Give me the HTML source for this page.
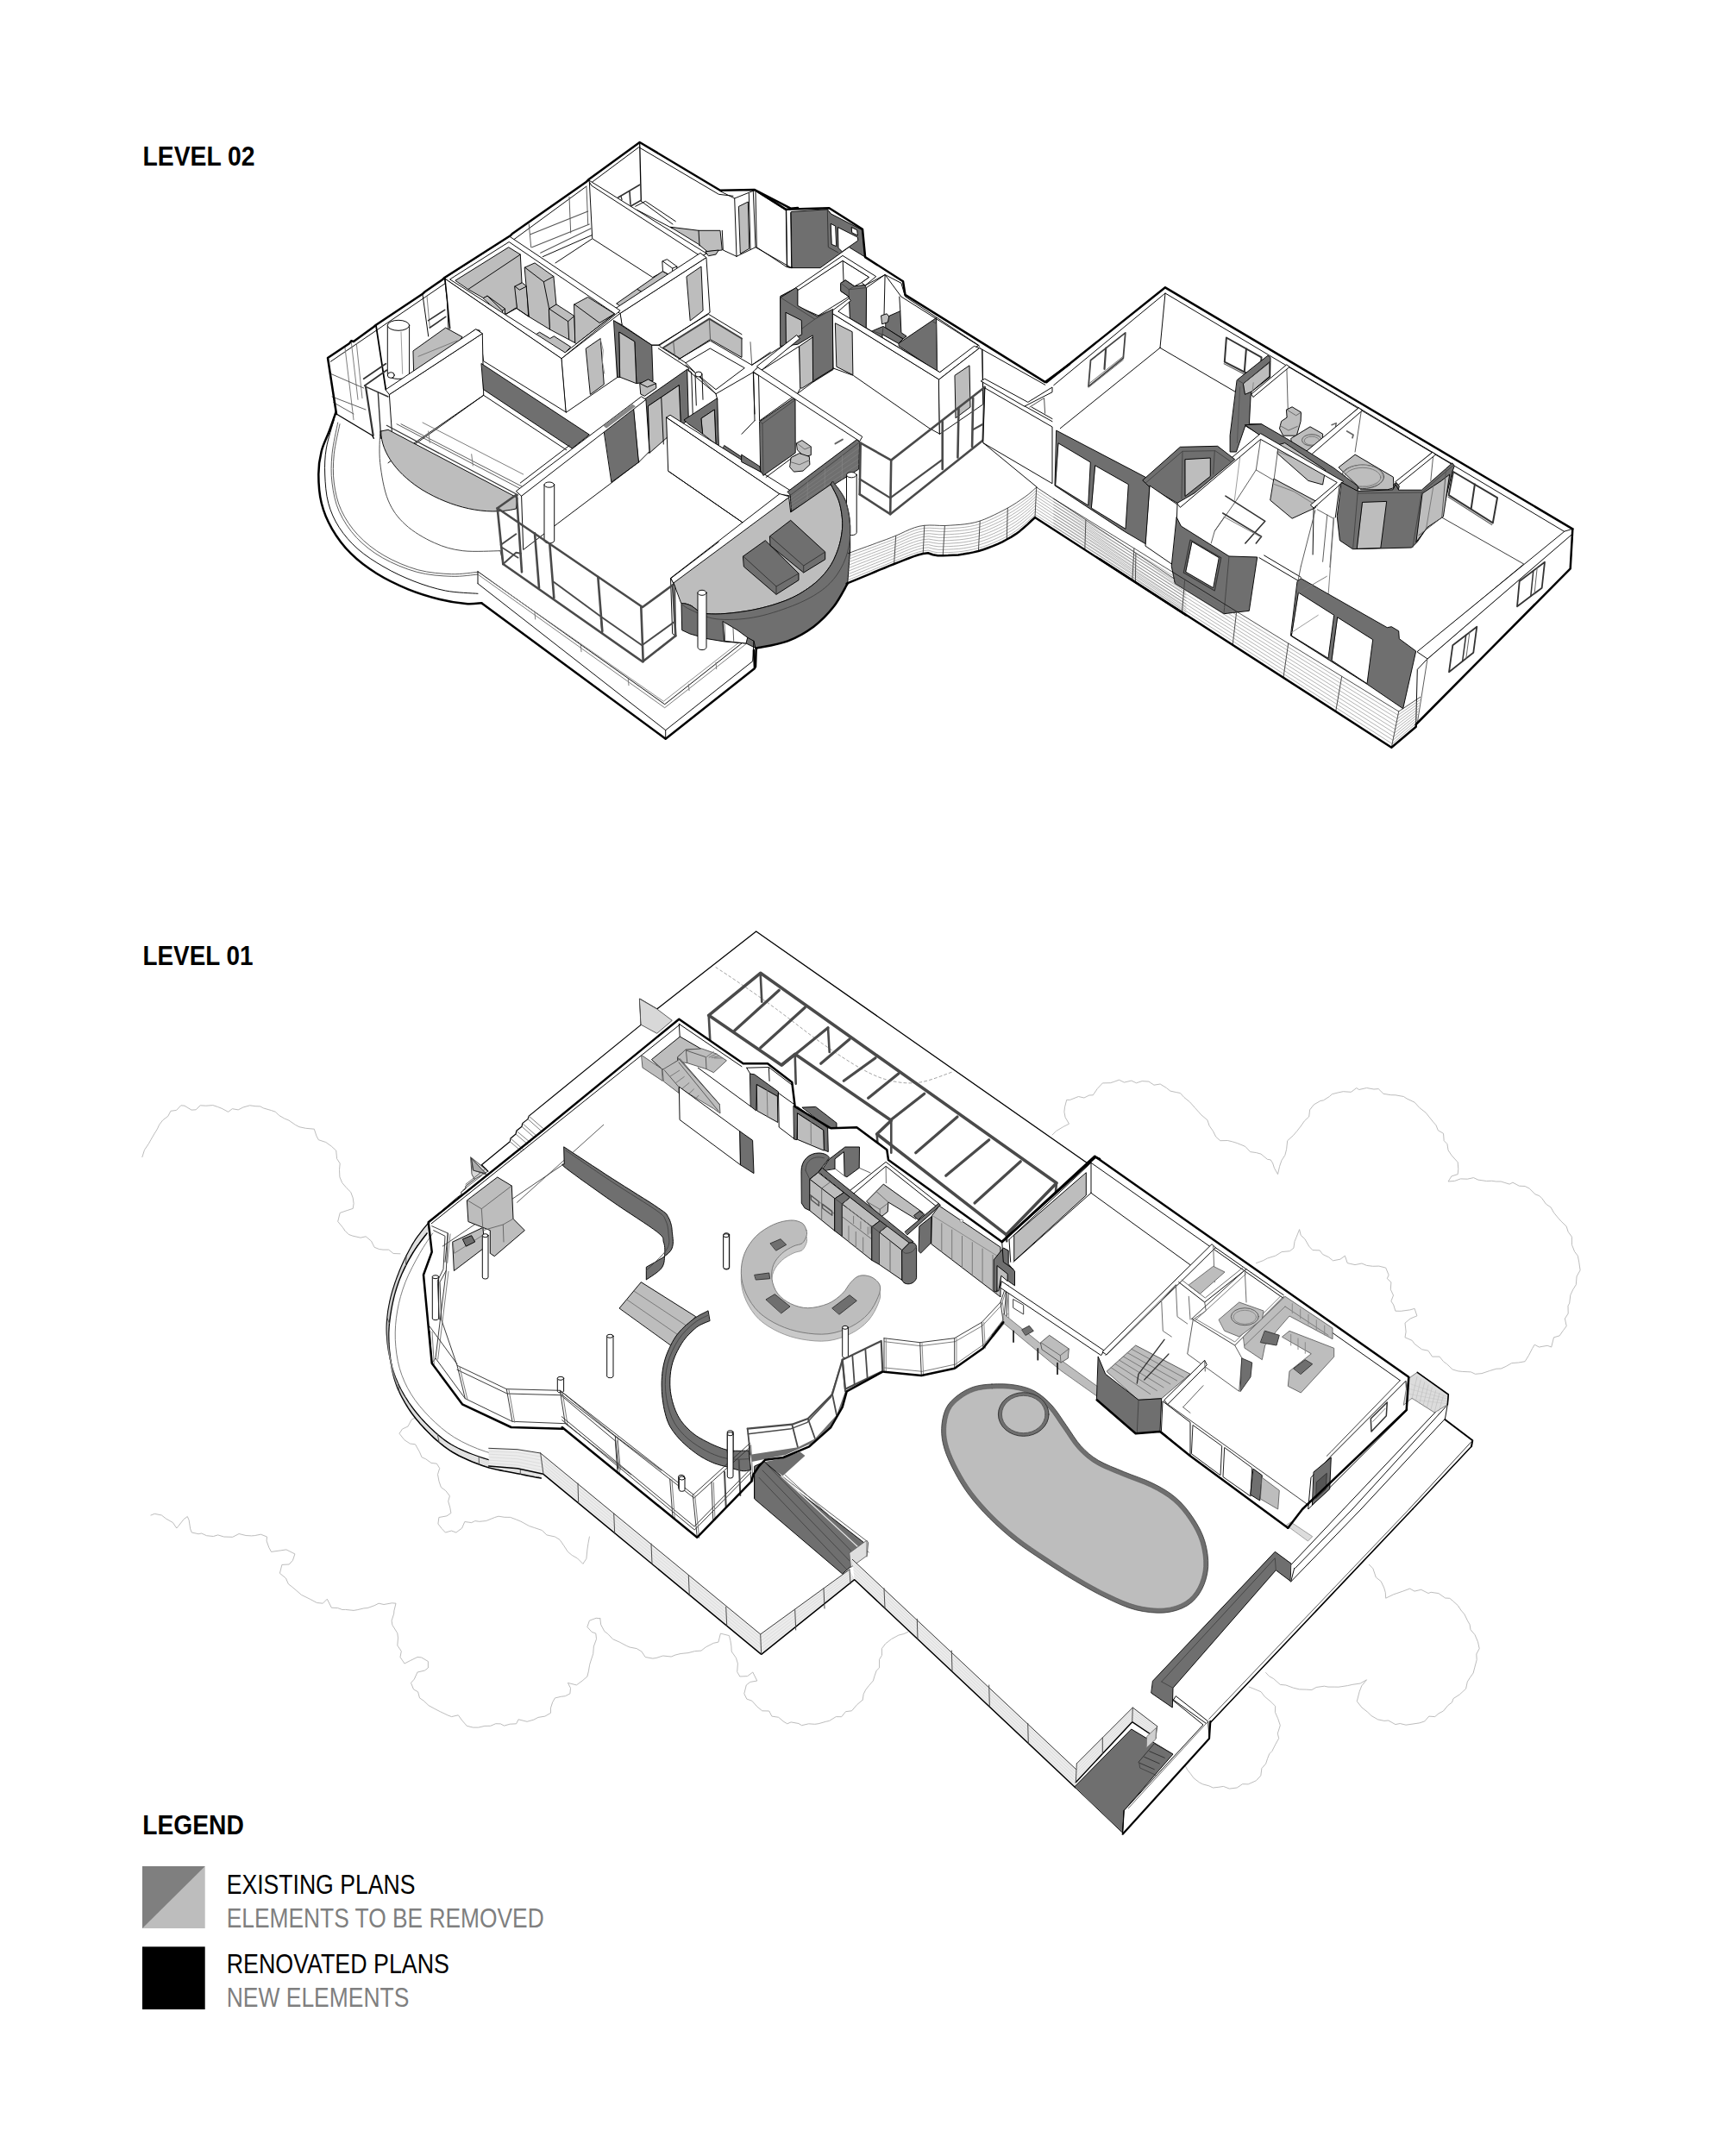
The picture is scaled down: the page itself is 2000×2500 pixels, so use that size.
<!DOCTYPE html>
<html><head><meta charset="utf-8"><title>Levels</title>
<style>html,body{margin:0;padding:0;background:#fff}svg{display:block}text{font-family:"Liberation Sans",sans-serif}</style>
</head><body>
<svg width="2000" height="2500" viewBox="0 0 2000 2500">
<rect width="2000" height="2500" fill="#fff"/>
<g id="main" stroke-linejoin="round" stroke-linecap="round">
<polyline points="164.9,1341.6 167.5,1333.4 172.2,1326.5 174.9,1321.7 178.8,1314.9 182.4,1309.2 184.6,1304.3 188.6,1299.0 194.8,1294.3 197.9,1288.3 204.5,1287.4 209.8,1281.8 214.0,1282.2 222.0,1287.1 227.2,1286.8 232.2,1281.8 238.8,1282.2 246.8,1281.6 252.5,1283.5 257.1,1285.3 264.6,1289.3 269.3,1285.7 276.2,1286.9 281.9,1284.0 289.6,1281.8 296.1,1282.7 301.7,1282.9 305.6,1285.0 314.3,1287.5 319.5,1289.3 323.6,1293.4 329.4,1296.8 335.0,1299.2 342.4,1304.3 346.9,1306.7 354.5,1308.3 364.3,1309.2 366.9,1317.1 369.3,1321.7 377.8,1324.5 384.3,1329.2 389.7,1334.1 390.6,1343.6 394.2,1349.1 393.5,1356.5 393.9,1364.8 396.7,1371.5 402.0,1377.7 406.7,1382.3 409.2,1389.0 410.1,1395.6 409.2,1401.4 402.1,1403.7 394.2,1406.4 391.7,1416.4 397.4,1423.3 399.9,1427.1 404.2,1431.4 408.9,1433.1 418.1,1435.2 424.1,1433.8 430.5,1439.1 434.1,1446.3 439.6,1448.5 444.0,1449.1 450.6,1449.1 456.1,1453.5 464.0,1453.8" fill="none" stroke="#b4b4b4" stroke-width="0.90" stroke-linejoin="miter"/>
<polyline points="484.0,1642.4 477.1,1646.2 473.0,1654.0 466.4,1657.1 463.0,1662.3 469.0,1669.8 475.5,1674.0 481.5,1674.8 486.6,1683.9 489.0,1689.7 493.8,1691.9 500.0,1696.4 506.4,1697.2 509.7,1702.5 507.5,1709.7 509.0,1717.7 511.4,1724.6 516.8,1728.6 521.4,1734.6 519.7,1740.9 521.8,1748.2 522.9,1754.5 517.9,1757.9 508.9,1759.5 507.9,1767.0 512.2,1772.5 516.4,1777.0 523.4,1775.0 528.8,1777.0 535.6,1772.0 538.8,1764.5 546.7,1765.6 550.8,1763.6 555.8,1764.3 563.7,1763.5 573.7,1759.5 578.0,1758.2 584.9,1759.3 591.7,1759.4 598.6,1762.0 603.9,1764.2 613.6,1769.5 619.3,1771.4 628.5,1774.5 633.9,1779.9 643.5,1782.0 649.0,1785.4 653.5,1791.9 658.4,1799.4 663.2,1803.4 669.5,1807.0 675.9,1813.4 679.9,1807.3 680.9,1796.9 682.0,1789.4 683.4,1782.0" fill="none" stroke="#b4b4b4" stroke-width="0.90" stroke-linejoin="miter"/>
<polyline points="174.9,1757.0 179.3,1755.3 187.4,1757.0 192.5,1761.0 200.4,1765.5 204.8,1772.0 206.9,1769.5 213.2,1761.5 217.3,1758.5 219.1,1762.6 220.7,1772.9 222.3,1777.0 230.1,1778.7 233.7,1778.0 239.5,1780.7 247.3,1781.5 252.7,1779.9 259.6,1782.0 269.7,1782.3 277.1,1778.5 285.1,1780.5 291.5,1780.9 295.3,1780.6 302.4,1779.2 309.5,1782.0 309.1,1786.8 311.8,1794.4 314.5,1799.4 325.2,1797.9 331.9,1796.9 341.9,1801.9 339.4,1809.4 335.1,1814.0 326.9,1814.4 324.4,1824.3 331.4,1830.0 334.4,1836.8 338.2,1839.7 343.1,1843.8 349.4,1849.3 359.3,1854.2 367.4,1858.5 374.3,1859.2 379.3,1854.2 384.3,1864.2 391.7,1864.6 396.9,1866.5 400.4,1866.4 410.0,1867.4 414.2,1866.7 421.9,1864.9 426.1,1864.6 434.1,1861.7 439.1,1859.2 445.0,1860.5 454.5,1858.8 459.0,1859.2 456.9,1867.8 456.7,1871.1 454.1,1879.2 454.9,1884.3 460.8,1893.8 461.5,1899.1 460.8,1908.0 465.3,1914.7 464.0,1921.5 469.0,1929.0 475.8,1925.5 484.0,1921.5 488.6,1921.9 496.4,1926.5 496.4,1934.0 492.3,1937.1 484.0,1939.0 480.3,1947.1 476.5,1951.4 479.5,1958.9 484.6,1961.8 486.5,1968.9 491.2,1972.1 497.0,1977.6 503.9,1981.4 510.3,1984.7 518.9,1988.8 523.5,1990.6 531.3,1988.8 535.7,1994.9 541.3,2001.3 548.5,2003.1 554.7,2003.1 561.9,2001.4 568.7,2001.3 574.8,1998.7 580.4,1998.9 584.5,2001.1 591.2,1999.2 598.6,1998.8 601.1,1993.8 611.1,1996.3 618.9,1994.1 624.0,1991.4 631.9,1990.1 638.5,1986.3 638.4,1980.8 640.7,1973.7 643.5,1968.9 650.5,1967.3 655.4,1966.7 660.9,1963.9 661.5,1957.4 658.4,1951.4 668.4,1953.9 675.1,1949.0 680.9,1944.0 682.4,1937.8 683.7,1930.2 685.3,1925.0 687.7,1917.7 688.4,1909.1 691.5,1900.5 690.8,1894.1 686.1,1892.3 680.9,1886.6 683.4,1879.2 691.1,1876.3 695.8,1876.7" fill="none" stroke="#b4b4b4" stroke-width="0.90" stroke-linejoin="miter"/>
<polyline points="695.8,1876.7 696.7,1883.9 700.8,1891.6 704.8,1894.6 710.6,1900.7 718.3,1904.1 726.2,1908.3 730.0,1910.0 738.2,1911.6 743.9,1915.0 748.2,1921.5 756.8,1923.1 760.9,1922.5 768.7,1920.0 778.2,1921.0 783.1,1919.0 789.1,1917.5 798.0,1916.6 805.6,1914.6 813.0,1914.1 818.3,1909.9 827.3,1905.3 832.9,1904.1 835.4,1894.1 845.4,1896.6 846.9,1902.6 847.9,1909.1 848.2,1915.0 853.4,1922.4 855.4,1929.0 854.7,1938.6 857.8,1944.0 866.6,1943.6 872.8,1939.0 877.8,1949.0 869.8,1950.4 865.3,1953.9 862.8,1963.9 865.8,1970.1 871.8,1972.2 877.8,1978.9 883.7,1983.8 891.7,1984.0 894.9,1990.1 902.7,1991.3 908.0,1995.9 912.7,1998.8 917.1,1996.9 926.0,1998.5 929.5,2000.7 937.6,1998.8 944.8,1999.3 949.1,1998.7 957.5,1996.3 961.6,1995.4 969.3,1990.6 975.7,1990.7 980.5,1984.7 987.5,1983.8 993.8,1976.5 999.9,1971.4" fill="none" stroke="#b4b4b4" stroke-width="0.90" stroke-linejoin="miter"/>
<polyline points="1000.2,1971.2 1001.2,1964.4 1003.8,1959.2 1007.7,1954.3 1012.4,1948.9 1014.1,1943.1 1016.2,1937.1 1019.6,1933.9 1019.5,1924.3 1022.5,1919.3 1022.4,1911.6 1026.6,1906.0 1033.6,1900.5 1042.0,1896.0 1047.9,1894.6 1053.0,1892.2" fill="none" stroke="#b4b4b4" stroke-width="0.90" stroke-linejoin="miter"/>
<polyline points="1373.0,2045.2 1376.7,2052.2 1380.0,2056.3 1384.1,2061.9 1390.5,2066.8 1394.6,2068.9 1401.7,2070.8 1406.4,2073.0 1412.9,2072.3 1418.4,2071.4 1425.4,2074.1 1434.2,2073.0 1440.6,2068.7 1447.2,2068.9 1456.5,2064.7 1461.8,2058.9 1462.9,2050.5 1467.6,2045.2 1469.5,2039.4 1471.7,2033.8 1474.9,2030.5 1478.7,2022.9 1482.7,2015.7 1481.3,2010.1 1484.3,2000.7 1481.6,1992.6 1478.4,1985.3 1478.7,1978.4 1473.1,1972.9 1466.3,1967.3 1462.0,1961.7 1452.9,1957.9 1448.1,1956.1" fill="none" stroke="#b4b4b4" stroke-width="0.90" stroke-linejoin="miter"/>
<polyline points="1467.6,1939.5 1471.4,1943.6 1476.7,1946.6 1484.3,1953.4 1490.9,1954.0 1499.5,1957.2 1506.6,1958.9 1514.3,1959.1 1520.9,1959.5 1526.1,1956.5 1535.4,1955.2 1540.0,1956.1 1547.9,1956.1 1551.9,1956.2 1562.5,1954.6 1567.8,1953.4 1577.2,1952.0 1584.5,1947.8 1578.7,1954.9 1576.1,1961.7 1573.3,1972.8 1578.9,1979.9 1585.8,1985.4 1590.0,1989.5 1597.4,1993.8 1604.8,1995.4 1609.7,1995.0 1617.9,1999.6 1623.2,1998.5 1630.0,2000.2 1639.0,1998.9 1645.7,1997.9 1651.8,1995.9 1656.8,1990.1 1663.7,1990.6 1668.0,1986.9 1673.5,1984.0 1678.7,1977.6 1683.5,1974.0 1685.0,1969.6 1692.3,1964.9 1695.8,1961.7 1699.6,1958.2 1701.3,1950.1 1704.0,1945.8 1708.1,1940.0 1709.7,1933.9 1712.2,1924.6 1711.8,1918.0 1715.2,1911.6 1713.5,1903.8 1710.0,1895.6 1705.0,1889.7 1704.1,1883.8 1701.4,1879.1 1697.9,1871.8 1693.8,1867.0 1690.2,1861.5 1684.5,1856.4 1680.8,1853.3 1675.6,1853.0 1667.9,1847.6 1659.1,1846.3 1656.0,1847.5 1647.7,1843.3 1640.0,1845.1 1634.6,1842.1 1626.3,1845.2 1619.1,1847.7 1615.7,1848.8 1606.7,1853.2 1606.3,1846.7 1604.7,1841.1 1601.2,1833.7 1595.3,1829.0 1591.8,1818.6 1587.3,1814.2" fill="none" stroke="#b4b4b4" stroke-width="0.90" stroke-linejoin="miter"/>
<polyline points="1220.0,1316.0 1224.3,1311.7 1232.7,1306.6 1239.5,1303.2 1235.1,1295.6 1233.9,1289.3 1234.5,1283.8 1236.7,1275.4 1240.6,1275.4 1250.4,1271.5 1256.9,1273.0 1262.9,1270.0 1267.3,1269.8 1272.3,1262.4 1278.4,1255.9 1287.3,1255.7 1291.2,1254.5 1297.5,1252.2 1303.4,1255.1 1311.8,1253.1 1317.5,1255.8 1324.1,1253.6 1331.9,1254.1 1338.0,1258.2 1345.2,1257.0 1352.4,1261.5 1356.9,1265.1 1363.8,1266.6 1368.4,1267.5 1373.0,1272.6 1379.6,1277.9 1385.3,1284.4 1389.7,1289.3 1392.9,1292.9 1399.9,1298.8 1402.1,1305.3 1406.4,1311.5 1409.7,1318.2 1414.7,1322.7 1423.3,1322.5 1428.4,1323.7 1434.2,1325.5 1440.0,1327.8 1443.9,1329.5 1449.6,1335.6 1456.5,1336.6 1462.0,1338.1 1469.4,1344.3 1473.2,1344.9 1475.7,1348.9 1477.4,1354.3 1481.5,1361.6 1483.6,1352.4 1485.9,1345.7 1489.9,1339.4 1491.6,1332.7 1492.7,1322.7 1499.3,1316.7 1503.8,1311.5 1508.0,1306.1 1512.5,1299.7 1517.7,1294.9 1518.6,1286.9 1523.3,1280.9 1530.9,1276.5 1534.4,1275.9 1541.6,1271.3 1544.5,1268.7 1551.1,1267.0 1557.3,1265.7 1566.4,1266.3 1572.8,1261.6 1575.7,1263.5 1584.5,1261.5 1592.9,1263.0 1598.2,1262.6 1604.0,1268.3 1612.6,1269.7 1617.9,1269.8 1627.4,1271.5 1631.0,1273.9 1640.1,1278.2 1645.8,1284.5 1653.2,1290.3 1656.8,1294.9 1661.6,1300.9 1665.0,1304.8 1667.3,1310.7 1673.5,1314.3 1674.2,1322.7 1677.9,1326.5 1679.1,1333.8 1683.0,1339.7 1690.2,1347.7 1690.8,1355.5 1690.2,1361.6 1682.9,1363.9 1679.1,1370.0 1686.6,1369.4 1693.4,1366.9 1701.3,1367.2 1708.5,1365.6 1713.8,1368.1 1723.4,1369.5 1729.7,1369.3 1734.7,1370.0 1740.2,1370.0 1750.1,1373.1 1753.9,1371.2 1761.4,1375.2 1768.1,1375.5 1773.3,1378.2 1780.0,1384.8 1784.8,1386.7 1787.8,1389.5 1792.4,1396.1 1798.1,1400.0 1801.5,1406.1 1807.0,1412.8 1809.9,1416.0 1816.1,1422.0 1818.2,1428.4 1822.4,1434.2 1822.5,1443.5 1825.6,1451.3 1829.3,1456.2 1830.7,1463.2 1832.1,1472.9 1828.1,1480.0 1827.3,1489.7 1823.8,1495.2 1820.8,1501.7 1819.7,1511.2 1818.0,1514.1 1818.2,1523.0 1814.4,1529.0 1816.2,1537.7 1812.6,1542.5 1808.1,1548.9 1801.5,1550.8 1798.7,1562.0 1794.1,1560.3 1784.4,1562.0 1779.2,1559.2 1776.6,1563.6 1772.5,1571.6 1768.1,1578.7 1760.6,1580.0 1752.7,1580.6 1746.3,1584.3 1740.3,1587.0 1734.9,1587.2 1727.5,1589.4 1718.0,1592.6 1710.4,1593.3 1705.5,1590.9 1695.2,1590.4 1690.2,1589.8 1684.1,1587.9 1677.7,1581.8 1673.5,1578.7 1669.0,1573.1 1660.6,1573.1 1655.9,1566.2 1648.5,1564.7 1639.9,1558.2 1637.3,1554.4 1629.0,1550.8 1630.1,1544.2 1629.0,1534.1 1635.2,1529.0 1642.9,1525.8 1640.1,1517.4 1634.7,1518.9 1624.2,1520.3 1617.9,1520.2 1615.7,1513.0 1612.9,1508.8 1615.5,1502.0 1612.3,1495.2 1612.9,1486.8 1608.3,1482.6 1610.1,1478.4 1606.7,1470.1 1598.8,1468.1 1591.6,1468.3 1584.5,1467.4 1578.9,1465.0 1571.0,1466.6 1562.2,1464.6 1559.4,1456.2 1553.9,1460.2 1545.5,1461.8 1540.4,1457.7 1533.6,1454.5 1530.1,1449.9 1521.9,1449.6 1517.7,1445.1 1512.9,1436.7 1508.2,1432.3 1506.6,1425.6 1503.0,1434.7 1501.0,1439.5 1499.9,1447.2 1495.4,1450.7 1486.1,1451.6 1478.7,1456.2 1469.5,1459.0 1464.8,1461.6 1456.5,1464.6" fill="none" stroke="#b4b4b4" stroke-width="0.90" stroke-linejoin="miter"/>
<polyline points="383.3,419.3 516.7,328.3" fill="none" stroke="#000" stroke-width="0.95"/>
<polyline points="595.0,278.3 680.0,216.0" fill="none" stroke="#000" stroke-width="0.95"/>
<polyline points="686.7,211.0 740.7,170.7 833.3,225.3 850.0,227.3" fill="none" stroke="#000" stroke-width="0.95"/>
<polyline points="741.7,166.7 743.3,232.3" fill="none" stroke="#000" stroke-width="1.30"/>
<polyline points="716.7,229.0 741.7,214.3" fill="none" stroke="#333" stroke-width="1.60"/>
<polyline points="730.0,222.0 731.0,237.3" fill="none" stroke="#333" stroke-width="1.60"/>
<polyline points="720.0,227.3 721.0,231.7" fill="none" stroke="#333" stroke-width="1.30"/>
<polyline points="731.0,239.3 743.3,232.3" fill="none" stroke="#333" stroke-width="1.60"/>
<polyline points="743.3,233.3 780.0,260.0" fill="none" stroke="#000" stroke-width="0.95"/>
<polyline points="736.7,239.3 748.3,233.3 783.3,256.7" fill="none" stroke="#000" stroke-width="0.95"/>
<polyline points="738.3,243.3 780.0,265.0" fill="none" stroke="#000" stroke-width="0.95"/>
<polygon points="777.7,263.3 810.0,267.3 835.0,267.3 837.3,290.0 820.0,291.7 810.0,283.3" fill="#bdbdbd" stroke="#000" stroke-width="0.95"/>
<polyline points="810.0,267.3 811.0,285.0" fill="none" stroke="#000" stroke-width="0.95"/>
<polygon points="818.3,291.7 833.3,290.0 830.0,295.0 821.7,296.7" fill="#bdbdbd" stroke="#000" stroke-width="0.95"/>
<polyline points="835.0,221.7 851.7,230.0 868.3,223.3 875.0,220.7" fill="none" stroke="#000" stroke-width="0.95"/>
<polyline points="851.7,230.0 854.0,297.3" fill="none" stroke="#000" stroke-width="0.95"/>
<polyline points="868.3,224.0 870.0,289.3" fill="none" stroke="#000" stroke-width="0.95"/>
<polyline points="873.3,221.7 876.0,286.7" fill="none" stroke="#000" stroke-width="0.95"/>
<polyline points="854.0,297.3 876.0,286.7 916.7,310.0 925.0,309.3" fill="none" stroke="#000" stroke-width="0.95"/>
<polygon points="856.7,239.3 867.3,234.0 868.7,288.3 858.7,294.0" fill="#bdbdbd" stroke="#000" stroke-width="0.95"/>
<polyline points="837.3,267.3 838.3,290.0 854.0,297.3" fill="none" stroke="#000" stroke-width="0.95"/>
<polyline points="916.7,246.7 917.7,310.0" fill="none" stroke="#000" stroke-width="0.95"/>
<polyline points="613.3,260.0 615.7,286.7" fill="none" stroke="#555" stroke-width="0.95"/>
<polyline points="660.0,228.3 661.7,270.0" fill="none" stroke="#555" stroke-width="0.95"/>
<polyline points="680.0,216.7 681.7,260.0" fill="none" stroke="#555" stroke-width="0.95"/>
<polyline points="615.0,271.7 681.7,245.0" fill="none" stroke="#555" stroke-width="1.10"/>
<polyline points="616.7,286.7 683.3,260.0" fill="none" stroke="#555" stroke-width="1.10"/>
<polyline points="626.7,293.3 685.0,265.0" fill="none" stroke="#555" stroke-width="1.10"/>
<polyline points="683.3,210.0 686.7,276.0" fill="none" stroke="#000" stroke-width="0.95"/>
<polyline points="644.0,304.9 686.8,276.7 756.7,321.6 769.2,314.7" fill="none" stroke="#000" stroke-width="0.95"/>
<polyline points="629.4,297.6 685.7,272.9" fill="none" stroke="#000" stroke-width="0.95"/>
<polygon points="715.0,351.8 768.2,314.7 778.6,320.1 725.4,358.5" fill="#bdbdbd" stroke="#000" stroke-width="0.95"/>
<polyline points="739.0,335.5 747.3,340.3" fill="none" stroke="#000" stroke-width="0.95"/>
<polygon points="768.2,302.8 773.4,300.7 784.9,309.0 784.9,316.8 778.6,320.1 768.8,314.7" fill="#fff" stroke="#000" stroke-width="0.95"/>
<polyline points="768.2,302.8 779.7,311.1 784.9,309.0" fill="none" stroke="#000" stroke-width="0.95"/>
<polyline points="779.7,311.1 779.7,319.5" fill="none" stroke="#000" stroke-width="0.95"/>
<polygon points="682.3,208.7 819.3,294.0 812.7,297.3 686.0,215.3" fill="#fff" stroke="#000" stroke-width="0.95"/>
<polygon points="719.1,363.3 818.9,298.6 823.1,362.3 765.0,400.2 755.7,400.2 721.2,376.9" fill="#fff" stroke="#000" stroke-width="0.95"/>
<polygon points="796.3,320.5 813.0,309.0 815.1,360.2 800.5,371.7" fill="#bdbdbd" stroke="#000" stroke-width="0.95"/>
<polygon points="712.9,358.1 812.0,293.4 818.9,298.6 719.1,363.3" fill="#fff" stroke="#000" stroke-width="0.95"/>
<polygon points="528.2,325.1 589.7,286.7 603.3,295.1 605.0,327.8 598.1,332.0 599.8,357.0 586.6,364.3 583.5,359.1 565.1,343.5 560.5,345.6 542.8,335.5" fill="#bdbdbd" stroke="#000" stroke-width="0.95"/>
<polyline points="542.8,335.5 603.3,295.1" fill="none" stroke="#000" stroke-width="0.95"/>
<polygon points="560.5,345.6 565.1,343.1 585.6,358.1 585.6,364.3 582.4,365.4" fill="#bdbdbd" stroke="#000" stroke-width="0.95"/>
<polyline points="565.1,343.1 582.4,360.2 585.6,358.1" fill="none" stroke="#000" stroke-width="0.95"/>
<polyline points="582.4,360.2 582.4,365.4" fill="none" stroke="#000" stroke-width="0.95"/>
<polygon points="597.0,332.0 605.4,327.8 610.6,332.0 612.7,366.9 599.8,358.1" fill="#bdbdbd" stroke="#000" stroke-width="0.95"/>
<polyline points="597.0,332.0 602.3,336.2 610.6,332.0" fill="none" stroke="#000" stroke-width="0.95"/>
<polygon points="608.5,310.1 620.0,304.9 641.9,320.5 645.0,353.9 636.7,358.1 637.7,382.1 613.7,367.5" fill="#bdbdbd" stroke="#000" stroke-width="0.95"/>
<polyline points="608.5,310.1 630.4,326.8 641.9,320.5" fill="none" stroke="#000" stroke-width="0.95"/>
<polyline points="630.4,326.8 636.7,358.1" fill="none" stroke="#000" stroke-width="0.95"/>
<polygon points="636.7,358.1 645.0,352.9 665.9,366.4 667.0,397.7 637.7,382.1" fill="#bdbdbd" stroke="#000" stroke-width="0.95"/>
<polyline points="636.7,358.1 658.6,372.7 665.9,366.4" fill="none" stroke="#000" stroke-width="0.95"/>
<polyline points="658.6,372.7 659.7,393.6" fill="none" stroke="#000" stroke-width="0.95"/>
<polygon points="665.9,352.9 681.6,344.5 712.5,363.9 668.0,398.8 667.0,397.7" fill="#bdbdbd" stroke="#000" stroke-width="0.95"/>
<polyline points="665.9,352.9 695.1,374.4 712.5,363.9" fill="none" stroke="#000" stroke-width="0.95"/>
<polygon points="621.5,387.7 625.6,385.2 637.7,392.5 642.3,389.8 661.7,402.3 655.5,408.6" fill="#bdbdbd" stroke="#000" stroke-width="0.95"/>
<polyline points="586.6,364.3 598.1,357.0 613.7,367.5" fill="none" stroke="#000" stroke-width="0.95"/>
<polygon points="515.7,322.6 651.3,415.5 656.5,478.1 560.5,418.6 556.3,383.1 551.1,382.1 520.9,404.0 518.4,347.7" fill="#fff" stroke="#000" stroke-width="0.95"/>
<polygon points="651.3,415.5 719.1,363.3 721.2,376.9 712.9,372.7 716.0,437.4 656.5,478.1" fill="#fff" stroke="#000" stroke-width="0.95"/>
<polygon points="679.5,404.0 696.2,392.5 700.3,445.7 684.7,457.2" fill="#bdbdbd" stroke="#000" stroke-width="0.95"/>
<polyline points="696.2,393.6 699.3,406.1 698.3,418.6 700.8,433.2" fill="none" stroke="#888" stroke-width="0.95"/>
<path d="M515.7,322.6 L590.8,274.2 L719.1,360.2 L651.3,415.5Z M521.9,323.7 L590.2,280.5 L712.9,363.9 L655.5,408.6Z" fill="#fff" fill-rule="evenodd" stroke="#000" stroke-width="0.95"/>
<polyline points="516.0,323.3 521.7,380.7" fill="none" stroke="#000" stroke-width="1.40"/>
<polygon points="479.3,406.7 516.7,380.0 536.0,390.7 531.7,396.7 480.0,432.7" fill="#bdbdbd" stroke="#000" stroke-width="0.95"/>
<polyline points="485.0,413.3 530.0,395.0" fill="none" stroke="#777" stroke-width="0.95"/>
<polyline points="436.0,377.7 447.3,451.7" fill="none" stroke="#000" stroke-width="1.80"/>
<polyline points="407.3,396.7 415.0,463.3" fill="none" stroke="#777" stroke-width="0.95"/>
<polyline points="413.3,398.3 420.0,461.7" fill="none" stroke="#777" stroke-width="0.95"/>
<polyline points="400.0,403.3 410.0,486.7" fill="none" stroke="#777" stroke-width="0.95"/>
<polyline points="421.7,439.3 447.3,421.7" fill="none" stroke="#333" stroke-width="1.80"/>
<polyline points="422.7,447.3 448.3,429.3" fill="none" stroke="#333" stroke-width="1.80"/>
<polyline points="383.3,433.3 421.7,450.0" fill="none" stroke="#555" stroke-width="0.95"/>
<polyline points="385.0,460.0 424.0,475.0" fill="none" stroke="#555" stroke-width="0.95"/>
<polyline points="386.7,466.7 410.0,480.0" fill="none" stroke="#555" stroke-width="0.95"/>
<polyline points="490.0,341.7 496.7,390.0" fill="none" stroke="#000" stroke-width="0.95"/>
<polyline points="495.0,343.3 498.3,380.0" fill="none" stroke="#777" stroke-width="0.95"/>
<polyline points="496.7,371.7 515.7,359.3" fill="none" stroke="#333" stroke-width="1.60"/>
<polyline points="498.3,380.0 516.7,367.3" fill="none" stroke="#333" stroke-width="1.60"/>
<path d="M449.3,377.3 v56.7 a12.7,6.0 0 0 0 25.3,0 v-56.7 z" fill="#fff" stroke="#000" stroke-width="0.95"/>
<ellipse cx="462.0" cy="377.3" rx="12.7" ry="6.0" fill="#fff" stroke="#000" stroke-width="0.95"/>
<polyline points="465.0,385.0 466.7,433.3" fill="none" stroke="#999" stroke-width="0.95"/>
<ellipse cx="453.3" cy="435.0" rx="4.0" ry="3.3" fill="#fff" stroke="#000" stroke-width="0.95"/>
<polygon points="451.7,457.3 559.3,386.7 560.7,458.3 456.7,530.0" fill="#fff" stroke="#000" stroke-width="0.95"/>
<polygon points="447.3,451.7 551.7,381.7 559.3,386.7 451.7,457.3" fill="#fff" stroke="#000" stroke-width="0.95"/>
<polyline points="560.7,458.3 505.0,498.3 450.0,536.7" fill="none" stroke="#000" stroke-width="0.95"/>
<polyline points="560.7,458.3 656.7,521.7" fill="none" stroke="#000" stroke-width="0.95"/>
<polygon points="558.3,421.7 683.3,504.0 663.3,520.0 560.7,451.7" fill="#6f6f6f" stroke="#000" stroke-width="0.95"/>
<polyline points="424.0,448.3 432.7,505.0" fill="none" stroke="#333" stroke-width="2.20"/>
<polyline points="424.0,448.3 450.0,460.0" fill="none" stroke="#333" stroke-width="1.40"/>
<polyline points="390.0,480.0 431.7,505.0 433.3,508.3" fill="none" stroke="#000" stroke-width="1.40"/>
<polyline points="438.3,455.0 441.7,508.3" fill="none" stroke="#333" stroke-width="1.40"/>
<polygon points="711.8,371.7 755.7,400.2 757.1,441.6 737.9,444.7 735.8,396.1 718.1,385.2 719.1,437.4 716.0,437.4" fill="#6f6f6f" stroke="#000" stroke-width="0.95"/>
<polygon points="718.1,385.2 735.8,396.1 737.9,444.7 719.1,437.4" fill="#bdbdbd" stroke="#000" stroke-width="0.95"/>
<polyline points="755.7,400.2 765.0,400.2" fill="none" stroke="#000" stroke-width="0.95"/>
<polygon points="769.2,403.0 822.4,369.6 860.0,392.5 860.0,414.4 823.5,393.6 789.0,415.5" fill="#bdbdbd" stroke="#000" stroke-width="0.95"/>
<polyline points="822.4,369.6 823.5,393.6" fill="none" stroke="#555" stroke-width="0.95"/>
<polyline points="780.7,395.7 782.2,411.3" fill="none" stroke="#555" stroke-width="0.95"/>
<polyline points="769.2,403.0 822.4,369.6 860.0,392.5" fill="none" stroke="#444" stroke-width="2.00"/>
<polyline points="764.0,399.8 821.4,364.3 860.0,387.7" fill="none" stroke="#000" stroke-width="0.95"/>
<polyline points="786.7,416.7 823.3,395.0 871.7,423.3" fill="none" stroke="#000" stroke-width="0.95"/>
<polyline points="795.0,420.7 823.3,404.0 863.3,426.7 830.0,451.7 795.0,423.3" fill="none" stroke="#000" stroke-width="0.95"/>
<polyline points="893.3,408.3 871.7,423.3" fill="none" stroke="#000" stroke-width="0.95"/>
<polyline points="870.0,396.7 871.7,423.3" fill="none" stroke="#555" stroke-width="0.95"/>
<polyline points="765.0,401.7 795.0,420.7 830.0,456.7" fill="none" stroke="#000" stroke-width="0.95"/>
<polyline points="763.3,404.0 798.3,426.7 798.3,430.0" fill="none" stroke="#000" stroke-width="0.95"/>
<polyline points="871.7,423.3 925.0,390.0" fill="none" stroke="#000" stroke-width="0.95"/>
<polyline points="876.7,428.3 925.0,396.0" fill="none" stroke="#000" stroke-width="0.95"/>
<polyline points="876.7,428.3 925.0,458.3" fill="none" stroke="#000" stroke-width="0.95"/>
<polyline points="873.3,431.7 925.0,463.3" fill="none" stroke="#000" stroke-width="0.95"/>
<polyline points="873.3,431.7 875.0,480.0" fill="none" stroke="#000" stroke-width="0.95"/>
<polyline points="873.3,431.7 830.0,456.7 831.7,463.3" fill="none" stroke="#000" stroke-width="0.95"/>
<polyline points="830.0,456.7 798.3,430.0" fill="none" stroke="#000" stroke-width="0.95"/>
<polyline points="806.0,435.0 807.3,470.0" fill="none" stroke="#000" stroke-width="0.95"/>
<polyline points="814.0,435.0 815.0,463.3" fill="none" stroke="#000" stroke-width="0.95"/>
<ellipse cx="810.0" cy="434.0" rx="4.0" ry="3.0" fill="#fff" stroke="#000" stroke-width="0.95"/>
<polygon points="905.0,343.3 925.0,332.7 925.0,355.0 913.3,361.7 913.3,398.3 906.0,401.7" fill="#6f6f6f" stroke="#000" stroke-width="0.95"/>
<polygon points="913.3,361.7 925.0,356.0 925.0,390.0 914.0,397.3" fill="#bdbdbd" stroke="#000" stroke-width="0.95"/>
<polygon points="742.1,444.7 751.5,439.9 760.5,444.7 760.9,449.9 747.3,459.3 743.1,457.2" fill="#bdbdbd" stroke="#000" stroke-width="0.95"/>
<polyline points="742.1,444.7 750.4,448.9 760.5,444.7" fill="none" stroke="#000" stroke-width="0.95"/>
<polygon points="746.7,463.3 796.7,428.3 798.3,486.7 789.3,493.3 787.3,446.7 751.7,470.7 753.3,525.0 748.3,525.0" fill="#6f6f6f" stroke="#000" stroke-width="0.95"/>
<polygon points="751.7,470.7 787.3,446.7 789.3,493.3 753.3,525.0" fill="#bdbdbd" stroke="#000" stroke-width="0.95"/>
<polyline points="766.7,460.7 769.3,515.0" fill="none" stroke="#000" stroke-width="0.95"/>
<polyline points="796.7,428.3 801.7,431.7 803.3,483.3 798.3,486.7" fill="none" stroke="#000" stroke-width="0.95"/>
<polygon points="793.3,486.7 831.7,461.7 833.3,516.7 830.0,515.0 828.3,475.0 813.3,485.0 815.0,503.3 798.3,491.7" fill="#6f6f6f" stroke="#000" stroke-width="0.95"/>
<polygon points="813.3,485.0 828.3,475.0 830.0,515.0 815.0,503.3" fill="#bdbdbd" stroke="#000" stroke-width="0.95"/>
<polyline points="833.3,516.7 883.3,548.3" fill="none" stroke="#000" stroke-width="0.95"/>
<polygon points="840.0,516.7 880.0,543.3 880.0,550.0 838.3,520.7" fill="#6f6f6f" stroke="#000" stroke-width="0.95"/>
<path d="M387.3,486.7 C385.8,492.2 380.1,509.4 378.3,520.0 C376.6,530.6 376.3,539.4 376.7,550.0 C377.1,560.6 377.9,573.1 380.7,583.3 C383.4,593.6 387.6,602.8 393.3,611.7 C399.1,620.6 406.4,629.1 415.0,636.7 C423.6,644.3 434.2,651.1 445.0,657.3 C455.8,663.6 468.1,669.4 480.0,674.0 C491.9,678.6 504.3,682.6 516.7,685.0 C529.0,687.4 547.8,687.8 554.0,688.3" fill="none" stroke="#000" stroke-width="0.95" stroke-linejoin="round"/>
<path d="M391.7,490.0 C390.6,496.1 386.1,515.0 385.0,526.7 C383.9,538.3 383.6,548.9 385.0,560.0 C386.4,571.1 388.6,582.8 393.3,593.3 C398.1,603.9 405.0,614.4 413.3,623.3 C421.7,632.2 431.7,640.0 443.3,646.7 C455.0,653.3 470.0,659.7 483.3,663.3 C496.7,666.9 511.6,667.9 523.3,668.3 C535.1,668.8 548.9,666.4 554.0,666.0" fill="none" stroke="#555" stroke-width="0.95" stroke-linejoin="round"/>
<path d="M394.0,491.7 C392.9,497.5 388.4,515.3 387.3,526.7 C386.2,538.1 385.9,549.2 387.3,560.0 C388.7,570.8 391.0,581.6 395.7,591.7 C400.3,601.8 407.1,611.9 415.3,620.7 C423.6,629.4 433.5,637.3 445.0,644.0 C456.5,650.7 471.3,657.1 484.3,660.7 C497.4,664.3 511.7,665.2 523.3,665.7 C534.9,666.1 548.9,663.7 554.0,663.3" fill="none" stroke="#555" stroke-width="0.95" stroke-linejoin="round"/>
<path d="M441.7,500.0 L450.0,498.3 L600.0,577.3 L598.3,590.0 C563.3,598.3 523.3,588.3 490.0,568.3 C463.3,551.7 441.7,526.7 441.7,500.0 Z" fill="#bdbdbd" stroke="#000" stroke-width="0.95"/>
<path d="M440.7,500.0 C440.7,506.1 439.1,523.3 440.7,536.7 C442.2,550.0 445.1,568.1 450.0,580.0 C454.9,591.9 461.1,600.1 470.0,608.3 C478.9,616.6 492.2,624.3 503.3,629.3 C514.4,634.4 523.9,637.1 536.7,638.7 C549.4,640.2 572.8,638.7 580.0,638.7" fill="none" stroke="#444" stroke-width="0.95" stroke-linejoin="round"/>
<polyline points="580.0,638.7 583.3,653.3" fill="none" stroke="#444" stroke-width="0.95"/>
<polyline points="448.3,493.3 600.7,574.0" fill="none" stroke="#333" stroke-width="1.20"/>
<polyline points="460.0,491.7 603.3,566.7" fill="none" stroke="#555" stroke-width="0.95"/>
<polyline points="465.0,491.7 605.0,564.0" fill="none" stroke="#555" stroke-width="0.95"/>
<polyline points="490.0,490.0 606.7,550.0" fill="none" stroke="#777" stroke-width="0.95"/>
<polyline points="496.7,500.0 498.3,513.3" fill="none" stroke="#777" stroke-width="0.95"/>
<polyline points="546.7,526.7 548.3,540.0" fill="none" stroke="#777" stroke-width="0.95"/>
<polyline points="660.0,516.7 603.3,560.0" fill="none" stroke="#000" stroke-width="0.95"/>
<polygon points="604.9,574.6 735.3,471.3 741.6,535.0 706.1,562.1 646.6,607.0 607.0,637.2" fill="#fff" stroke="#000" stroke-width="0.95"/>
<polygon points="734.3,470.3 748.9,463.0 753.0,523.5 740.5,536.0" fill="#fff" stroke="#000" stroke-width="0.95"/>
<polygon points="699.8,495.3 734.3,470.3 740.5,536.0 709.2,559.0" fill="#6f6f6f" stroke="#000" stroke-width="0.95"/>
<polygon points="598.6,569.4 743.7,459.8 748.9,463.4 604.9,575.0" fill="#fff" stroke="#000" stroke-width="0.95"/>
<polygon points="699.4,493.6 733.2,468.6 737.0,471.3 703.0,496.8" fill="#888"/>
<polygon points="772.9,484.2 905.4,573.6 862.6,607.0 775.0,546.4" fill="#fff" stroke="#000" stroke-width="0.95"/>
<polygon points="772.9,483.8 777.0,481.3 920.0,571.1 914.8,574.6 905.4,573.6" fill="#fff" stroke="#000" stroke-width="0.95"/>
<polyline points="775.0,546.4 862.6,607.0" fill="none" stroke="#000" stroke-width="0.95"/>
<path d="M631.0,562.1 v64.7 a5.8,3.1 0 0 0 11.7,0 v-64.7 z" fill="#fff" stroke="#000" stroke-width="0.95"/>
<ellipse cx="636.8" cy="562.1" rx="5.8" ry="3.1" fill="#fff" stroke="#000" stroke-width="0.95"/>
<polygon points="904.3,572.7 915.7,576.0 782.7,680.0 777.7,670.7" fill="#fff" stroke="#000" stroke-width="0.95"/>
<polygon points="777.7,670.7 782.7,680.0 783.3,737.3 780.0,735.0" fill="#fff" stroke="#000" stroke-width="0.95"/>
<polyline points="777.7,670.7 833.3,628.3" fill="none" stroke="#000" stroke-width="0.95"/>
<polyline points="576.7,589.3 598.3,574.0" fill="none" stroke="#4a4a4a" stroke-width="2.60"/>
<polyline points="576.7,589.3 583.3,654.0" fill="none" stroke="#4a4a4a" stroke-width="2.60"/>
<polyline points="599.0,575.0 605.0,663.3" fill="none" stroke="#4a4a4a" stroke-width="2.60"/>
<polyline points="583.3,654.0 598.3,640.7 604.0,641.7" fill="none" stroke="#4a4a4a" stroke-width="2.00"/>
<polyline points="580.7,631.7 598.3,619.3" fill="none" stroke="#4a4a4a" stroke-width="2.00"/>
<polyline points="582.3,635.0 600.7,646.7" fill="none" stroke="#4a4a4a" stroke-width="1.60"/>
<polyline points="576.7,589.3 745.0,704.0 780.0,678.3" fill="none" stroke="#4a4a4a" stroke-width="2.60"/>
<polyline points="583.3,654.0 745.0,767.3 783.3,737.3" fill="none" stroke="#4a4a4a" stroke-width="2.60"/>
<polyline points="620.0,618.3 625.0,681.7" fill="none" stroke="#4a4a4a" stroke-width="2.60"/>
<polyline points="637.3,630.7 642.3,693.3" fill="none" stroke="#4a4a4a" stroke-width="2.60"/>
<polyline points="693.3,669.0 698.3,731.7" fill="none" stroke="#4a4a4a" stroke-width="2.60"/>
<polyline points="743.3,704.0 745.7,767.3" fill="none" stroke="#4a4a4a" stroke-width="2.60"/>
<polyline points="780.0,678.3 783.3,737.3" fill="none" stroke="#4a4a4a" stroke-width="2.60"/>
<polyline points="642.3,675.0 696.7,715.0 744.3,748.3 782.3,720.7" fill="none" stroke="#4a4a4a" stroke-width="2.00"/>
<polyline points="696.7,716.7 698.3,733.3" fill="none" stroke="#4a4a4a" stroke-width="2.00"/>
<polyline points="554.0,662.7 554.0,676.7" fill="none" stroke="#000" stroke-width="0.95"/>
<polyline points="554.0,662.7 770.7,816.7 863.3,743.3" fill="none" stroke="#000" stroke-width="0.95"/>
<polyline points="554.0,666.0 770.7,820.7 865.0,746.7" fill="none" stroke="#777" stroke-width="0.95"/>
<polyline points="554.0,676.7 771.7,846.7 872.7,766.7" fill="none" stroke="#000" stroke-width="0.95"/>
<polyline points="771.7,846.7 771.7,856.7" fill="none" stroke="#000" stroke-width="0.95"/>
<polyline points="568.3,673.3 769.3,813.3 856.7,745.0" fill="none" stroke="#888" stroke-width="0.95"/>
<polyline points="620.0,710.7 620.7,718.0" fill="none" stroke="#777" stroke-width="0.95"/>
<polyline points="673.3,748.3 674.0,755.7" fill="none" stroke="#777" stroke-width="0.95"/>
<polyline points="728.3,787.3 729.0,794.7" fill="none" stroke="#777" stroke-width="0.95"/>
<polyline points="798.3,793.3 799.0,800.7" fill="none" stroke="#777" stroke-width="0.95"/>
<polyline points="830.0,768.3 830.7,775.7" fill="none" stroke="#777" stroke-width="0.95"/>
<polyline points="876.0,221.7 877.3,286.7 911.7,309.3" fill="none" stroke="#000" stroke-width="0.95"/>
<polyline points="911.7,244.3 912.7,309.3 917.3,310.7" fill="none" stroke="#000" stroke-width="0.95"/>
<polyline points="876.0,221.7 911.7,244.3" fill="none" stroke="#000" stroke-width="0.95"/>
<polyline points="911.3,243.4 912.3,309.6 918.6,310.6" fill="none" stroke="#000" stroke-width="0.95"/>
<polygon points="917.6,245.5 959.3,242.8 963.5,248.0 1000.0,266.8 1003.1,298.1 984.3,286.6 977.0,291.8 951.0,310.6 918.6,310.6" fill="#6f6f6f" stroke="#000" stroke-width="0.95"/>
<polygon points="963.5,259.5 968.7,262.2 969.7,285.6 964.5,283.5" fill="#fff" stroke="#000" stroke-width="0.95"/>
<polygon points="971.8,263.7 994.4,275.1 994.8,278.9 976.4,291.8 972.2,287.7" fill="#fff" stroke="#000" stroke-width="0.95"/>
<polygon points="987.5,263.7 993.7,266.8 994.4,273.0 988.1,269.9" fill="#fff" stroke="#000" stroke-width="0.95"/>
<polyline points="959.3,242.8 960.3,286.6 971.8,292.9" fill="none" stroke="#333" stroke-width="0.95"/>
<polygon points="924.9,335.7 977.0,302.3 1007.7,321.5 999.0,327.7 990.6,331.9 980.2,324.8 975.0,328.3 975.0,337.7 984.3,344.0 965.6,355.5 948.9,365.9 924.9,355.5" fill="#fff" stroke="#000" stroke-width="0.95"/>
<polyline points="977.0,298.1 978.1,326.9" fill="none" stroke="#000" stroke-width="0.95"/>
<polygon points="922.8,333.6 977.0,296.4 1015.7,320.6 1003.1,331.1 999.0,327.7 1007.7,321.5 977.0,302.3 925.9,336.1" fill="#fff" stroke="#000" stroke-width="0.95"/>
<polygon points="1004.6,333.6 1026.1,318.5 1044.9,328.3 1049.5,344.0 1134.6,400.3 1089.7,431.7 1004.2,380.1" fill="#fff" stroke="#000" stroke-width="0.95"/>
<polygon points="971.8,361.1 984.3,346.5 985.4,369.5" fill="#fff"/>
<polyline points="1003.1,331.1 1026.1,318.5 1044.9,344.0 1135.7,401.4" fill="none" stroke="#000" stroke-width="0.95"/>
<polyline points="1026.1,319.0 1025.0,367.0" fill="none" stroke="#000" stroke-width="0.95"/>
<polyline points="1042.8,344.0 1043.8,360.7" fill="none" stroke="#000" stroke-width="0.95"/>
<polygon points="975.0,328.3 980.2,324.8 990.6,331.9 1002.1,330.4 1004.6,333.6 1004.2,380.5 985.4,369.0 984.3,344.0 975.0,337.7" fill="#6f6f6f" stroke="#000" stroke-width="0.95"/>
<polyline points="975.0,328.3 984.3,335.7 990.6,331.9" fill="none" stroke="#444" stroke-width="0.95"/>
<polyline points="984.3,335.7 984.3,344.0" fill="none" stroke="#444" stroke-width="0.95"/>
<polyline points="984.3,335.7 1004.6,333.6" fill="none" stroke="#444" stroke-width="0.95"/>
<polygon points="1027.1,368.0 1043.8,360.7 1044.9,385.7 1051.1,389.9 1047.0,393.0 1027.1,380.5" fill="#6f6f6f" stroke="#000" stroke-width="0.95"/>
<polygon points="1021.9,365.9 1028.2,363.8 1030.7,367.0 1029.4,373.6 1023.0,375.7" fill="#bdbdbd" stroke="#000" stroke-width="0.95"/>
<polygon points="1011.5,383.7 1024.0,378.4 1047.0,393.0 1041.7,398.3 1023.0,387.8 1023.0,392.0 1013.6,386.8" fill="#6f6f6f" stroke="#000" stroke-width="0.95"/>
<polyline points="1011.5,383.7 1023.0,387.8 1024.0,378.4" fill="none" stroke="#444" stroke-width="0.95"/>
<polygon points="1042.4,397.8 1085.6,368.6 1086.6,430.6 1042.4,401.4" fill="#6f6f6f" stroke="#000" stroke-width="0.95"/>
<polyline points="1080.3,372.2 1085.6,375.3 1086.2,429.6" fill="none" stroke="#444" stroke-width="0.95"/>
<polygon points="905.0,345.0 922.8,333.6 924.9,335.7 924.9,354.4 947.8,367.0 965.6,358.6 966.0,428.5 942.6,443.1 942.2,388.9 924.9,399.3 905.0,401.4" fill="#6f6f6f" stroke="#000" stroke-width="0.95"/>
<polyline points="905.0,345.0 944.7,370.1 965.6,358.6" fill="none" stroke="#444" stroke-width="0.95"/>
<polyline points="944.7,370.1 924.9,384.7" fill="none" stroke="#444" stroke-width="0.95"/>
<polygon points="911.3,362.4 929.3,371.5 929.7,387.8 911.7,397.8" fill="#bdbdbd" stroke="#000" stroke-width="0.95"/>
<polygon points="927.0,401.4 942.2,391.0 942.6,442.1 930.1,450.0 927.6,450.0" fill="#bdbdbd" stroke="#000" stroke-width="0.95"/>
<polygon points="965.6,363.8 1088.7,440.0 1089.5,503.2 1077.0,496.3 989.4,435.4 966.4,427.1" fill="#fff" stroke="#000" stroke-width="0.95"/>
<polygon points="968.7,374.9 988.1,384.7 988.9,434.8 970.2,425.4" fill="#bdbdbd" stroke="#000" stroke-width="0.95"/>
<polygon points="965.6,359.7 984.3,346.1 986.4,348.6 971.8,361.1 1089.7,431.7 1129.4,401.4 1135.7,403.5 1088.7,440.0 965.6,363.8" fill="#fff" stroke="#000" stroke-width="0.95"/>
<polyline points="1135.7,403.5 1211.8,446.3" fill="none" stroke="#000" stroke-width="0.95"/>
<polygon points="1088.7,440.1 1135.7,403.5 1138.8,405.6 1139.7,468.9 1089.6,503.3" fill="#fff" stroke="#000" stroke-width="0.95"/>
<polygon points="1107.3,435.1 1124.0,423.8 1125.0,472.0 1108.3,484.5" fill="#bdbdbd" stroke="#000" stroke-width="0.95"/>
<polyline points="1138.8,405.6 1139.7,450.1" fill="none" stroke="#000" stroke-width="0.95"/>
<polygon points="879.8,431.3 926.4,401.7 927.8,450.5 924.7,456.3 880.9,487.7" fill="#fff" stroke="#000" stroke-width="0.95"/>
<polyline points="924.7,456.3 944.5,441.7" fill="none" stroke="#000" stroke-width="0.95"/>
<polyline points="944.5,440.7 966.4,427.1" fill="none" stroke="#000" stroke-width="0.95"/>
<polygon points="877.7,424.6 923.7,388.5 927.2,392.7 883.0,429.2" fill="#fff" stroke="#000" stroke-width="0.95"/>
<polygon points="878.8,426.1 999.8,506.4 996.7,511.7 873.6,431.3" fill="#fff" stroke="#000" stroke-width="0.95"/>
<polyline points="873.6,432.3 875.0,487.7" fill="none" stroke="#000" stroke-width="0.95"/>
<polyline points="860.0,503.3 875.0,487.7" fill="none" stroke="#000" stroke-width="0.95"/>
<polyline points="888.2,553.4 922.6,527.7" fill="none" stroke="#000" stroke-width="0.95"/>
<polygon points="860.0,527.3 880.9,540.9 881.9,547.1 860.0,535.7" fill="#6f6f6f" stroke="#000" stroke-width="0.95"/>
<polygon points="880.9,488.7 919.5,462.2 922.0,463.7 922.2,525.2 885.0,551.3 881.9,546.1" fill="#6f6f6f" stroke="#000" stroke-width="0.95"/>
<polyline points="880.9,488.7 884.0,491.2 922.0,463.7" fill="none" stroke="#444" stroke-width="0.95"/>
<polyline points="884.0,491.2 885.0,551.3" fill="none" stroke="#444" stroke-width="0.95"/>
<polygon points="923.7,513.7 929.9,510.6 940.3,517.9 940.3,527.7 933.0,529.8 924.7,522.1" fill="#bdbdbd" stroke="#000" stroke-width="0.95"/>
<polygon points="917.4,530.4 926.8,525.6 938.3,529.4 938.9,538.8 931.0,546.1 920.5,547.1 915.9,541.9" fill="#bdbdbd" stroke="#000" stroke-width="0.95"/>
<polyline points="923.7,513.7 933.0,521.0 940.3,517.9" fill="none" stroke="#666" stroke-width="0.95"/>
<polyline points="916.8,535.7 926.8,538.8 938.5,533.6" fill="none" stroke="#666" stroke-width="0.95"/>
<polyline points="968.5,514.4 976.9,509.6" fill="none" stroke="#666" stroke-width="2.00"/>
<polygon points="913.2,570.1 993.6,509.6 996.7,512.7 995.7,544.0 917.4,593.0 916.3,574.3" fill="#6f6f6f" stroke="#000" stroke-width="0.95"/>
<polyline points="916.3,574.3 996.7,512.7" fill="none" stroke="#444" stroke-width="0.95"/>
<polyline points="936.4,558.9 936.0,580.8" fill="none" stroke="#8a8a8a" stroke-width="0.50"/>
<polyline points="956.5,543.5 956.1,568.5" fill="none" stroke="#8a8a8a" stroke-width="0.50"/>
<polyline points="976.6,528.1 976.2,556.3" fill="none" stroke="#8a8a8a" stroke-width="0.50"/>
<polyline points="916.6,578.0 996.3,519.0" fill="none" stroke="#8a8a8a" stroke-width="0.50"/>
<polyline points="916.6,581.8 996.3,525.2" fill="none" stroke="#8a8a8a" stroke-width="0.50"/>
<polyline points="916.6,585.5 996.3,531.5" fill="none" stroke="#8a8a8a" stroke-width="0.50"/>
<polyline points="916.6,589.3 996.3,537.7" fill="none" stroke="#8a8a8a" stroke-width="0.50"/>
<polyline points="997.7,513.7 996.7,573.2" fill="none" stroke="#4a4a4a" stroke-width="2.60"/>
<polyline points="997.7,513.7 1033.2,533.6 1141.7,449.0" fill="none" stroke="#4a4a4a" stroke-width="2.60"/>
<polyline points="996.7,573.2 1032.2,596.2 1139.7,510.6" fill="none" stroke="#4a4a4a" stroke-width="2.60"/>
<polyline points="1033.2,533.6 1032.2,596.2" fill="none" stroke="#4a4a4a" stroke-width="2.60"/>
<polyline points="996.7,555.5 1032.2,577.4 1091.7,533.6" fill="none" stroke="#4a4a4a" stroke-width="2.20"/>
<polyline points="1092.7,488.7 1092.7,544.0" fill="none" stroke="#4a4a4a" stroke-width="2.60"/>
<polyline points="1111.5,474.1 1110.4,530.4" fill="none" stroke="#4a4a4a" stroke-width="2.60"/>
<polyline points="1128.2,461.6 1127.1,517.9" fill="none" stroke="#4a4a4a" stroke-width="2.60"/>
<polyline points="1141.7,449.0 1139.7,510.6" fill="none" stroke="#4a4a4a" stroke-width="2.60"/>
<polyline points="1128.2,498.1 1139.7,491.8" fill="none" stroke="#4a4a4a" stroke-width="2.20"/>
<polygon points="1142.2,450.1 1220.0,495.0 1220.0,560.7 1140.1,513.7" fill="#fff" stroke="#000" stroke-width="0.95"/>
<polygon points="1137.6,441.7 1141.7,439.2 1191.8,466.4 1220.0,449.0 1220.0,454.7 1188.1,471.0" fill="#fff" stroke="#000" stroke-width="0.95"/>
<polyline points="1188.1,471.0 1220.0,488.7" fill="none" stroke="#000" stroke-width="0.95"/>
<polyline points="1196.0,472.0 1220.0,485.6" fill="none" stroke="#000" stroke-width="0.95"/>
<polyline points="1193.9,472.0 1210.6,461.6 1211.6,479.3" fill="none" stroke="#444" stroke-width="0.95"/>
<polyline points="1140.1,513.7 1202.3,564.9" fill="none" stroke="#000" stroke-width="0.95"/>
<path d="M981.5,550.7 v66.8 a5.8,3.1 0 0 0 11.7,0 v-66.8 z" fill="#fff" stroke="#000" stroke-width="0.95"/>
<ellipse cx="987.3" cy="550.7" rx="5.8" ry="3.1" fill="#fff" stroke="#000" stroke-width="0.95"/>
<polygon points="781.3,675.7 914.7,576.7 916.7,594.0 963.3,561.7 964.2,563.3 965.3,565.4 966.6,568.0 968.1,570.8 969.6,573.9 971.1,577.1 972.3,580.2 973.3,583.3 974.1,586.4 974.8,589.6 975.4,593.0 975.9,596.4 976.3,599.8 976.6,603.2 976.7,606.6 976.7,610.0 976.5,613.4 976.2,616.7 975.7,620.1 975.1,623.5 974.4,626.9 973.6,630.2 972.7,633.5 971.7,636.7 970.6,639.8 969.4,642.8 968.1,645.8 966.8,648.8 965.3,651.6 963.7,654.5 961.9,657.3 960.0,660.0 958.0,662.7 955.8,665.3 953.5,667.9 951.1,670.4 948.6,672.9 945.9,675.3 943.0,677.7 940.0,680.0 936.8,682.3 933.5,684.5 930.1,686.7 926.5,688.9 922.7,690.9 918.7,692.9 914.5,694.8 910.0,696.7 905.2,698.4 900.2,700.1 894.9,701.8 889.4,703.3 883.7,704.8 878.0,706.1 872.3,707.3 866.7,708.3 860.8,709.2 854.6,710.1 848.2,710.8 841.9,711.4 835.7,711.8 829.9,712.0 824.6,711.9 820.0,711.7 816.2,711.0 812.9,709.9 810.1,708.6 807.7,707.0 805.6,705.4 803.7,703.9 801.8,702.6 800.0,701.7 798.2,701.0 796.6,700.5 795.1,700.1 793.8,699.9 792.6,699.7 791.6,699.6 790.7,699.5 790.0,699.3" fill="#bdbdbd" stroke="#000" stroke-width="0.95"/>
<polygon points="963.3,561.7 964.2,563.3 965.3,565.4 966.6,568.0 968.1,570.8 969.6,573.9 971.1,577.1 972.3,580.2 973.3,583.3 974.1,586.4 974.8,589.6 975.4,593.0 975.9,596.4 976.3,599.8 976.6,603.2 976.7,606.6 976.7,610.0 976.5,613.4 976.2,616.7 975.7,620.1 975.1,623.5 974.4,626.9 973.6,630.2 972.7,633.5 971.7,636.7 970.6,639.8 969.4,642.8 968.1,645.8 966.8,648.8 965.3,651.6 963.7,654.5 961.9,657.3 960.0,660.0 958.0,662.7 955.8,665.3 953.5,667.9 951.1,670.4 948.6,672.9 945.9,675.3 943.0,677.7 940.0,680.0 936.8,682.3 933.5,684.5 930.1,686.7 926.5,688.9 922.7,690.9 918.7,692.9 914.5,694.8 910.0,696.7 905.2,698.4 900.2,700.1 894.9,701.8 889.4,703.3 883.7,704.8 878.0,706.1 872.3,707.3 866.7,708.3 860.8,709.2 854.6,710.1 848.2,710.8 841.9,711.4 835.7,711.8 829.9,712.0 824.6,711.9 820.0,711.7 816.2,711.0 812.9,709.9 810.1,708.6 807.7,707.0 805.6,705.4 803.7,703.9 801.8,702.6 800.0,701.7 798.2,701.0 796.6,700.5 795.1,700.1 793.8,699.9 792.6,699.7 791.6,699.6 790.7,699.5 790.0,699.3 790.7,730.7 800.0,735.0 820.0,740.7 840.0,744.0 865.0,746.0 876.7,751.7 879.5,751.1 883.4,750.4 888.0,749.5 893.1,748.5 898.5,747.4 903.8,746.2 908.8,744.8 913.3,743.3 917.4,741.7 921.5,739.9 925.4,738.0 929.2,735.9 932.9,733.8 936.5,731.5 939.9,729.1 943.3,726.7 946.6,724.1 949.8,721.4 952.9,718.6 955.9,715.6 958.7,712.6 961.5,709.6 964.1,706.5 966.7,703.3 969.1,700.0 971.6,696.3 973.9,692.4 976.1,688.5 978.2,684.9 980.0,681.5 981.5,678.7 982.7,676.7 985.7,636.7 985.7,610.0 985.4,606.2 985.1,602.3 984.6,598.4 983.9,594.5 983.1,590.6 982.2,586.9 981.2,583.4 980.0,580.0 978.5,576.7 976.7,573.5 974.6,570.3 972.5,567.3 970.4,564.5 968.4,562.0 966.8,559.9 965.7,558.3" fill="#6f6f6f" stroke="#000" stroke-width="0.95"/>
<path d="M965.7,558.3 C968.1,561.9 976.7,571.4 980.0,580.0 C983.3,588.6 985.2,600.0 985.7,610.0 C986.1,620.0 985.2,630.7 982.7,640.0 C980.2,649.3 976.0,658.3 970.7,666.0 C965.3,673.7 959.4,679.9 950.7,686.0 C941.9,692.1 931.2,697.7 918.3,702.7 C905.4,707.7 888.1,713.5 873.3,716.0 C858.6,718.5 842.2,719.2 830.0,717.7 C817.8,716.1 806.7,709.6 800.0,706.7 C793.3,703.7 791.7,701.1 790.0,700.0" fill="none" stroke="#444" stroke-width="0.95" stroke-linejoin="round"/>
<polygon points="861.7,645.0 887.3,626.7 926.0,665.0 926.0,672.7 900.0,689.3 862.7,657.3" fill="#6f6f6f" stroke="#000" stroke-width="0.95"/>
<polyline points="861.7,645.0 900.0,680.0 926.0,665.0" fill="none" stroke="#333" stroke-width="0.95"/>
<polyline points="900.0,680.0 900.0,689.3" fill="none" stroke="#333" stroke-width="0.95"/>
<polygon points="892.7,621.7 916.7,603.3 956.7,640.0 956.7,648.7 931.7,664.0 893.3,632.7" fill="#6f6f6f" stroke="#000" stroke-width="0.95"/>
<polyline points="892.7,621.7 931.7,656.0 956.7,640.0" fill="none" stroke="#333" stroke-width="0.95"/>
<polyline points="931.7,656.0 931.7,664.0" fill="none" stroke="#333" stroke-width="0.95"/>
<polygon points="838.3,720.7 855.0,730.7 866.7,739.3 865.0,746.0 840.0,743.3" fill="#fff" stroke="#000" stroke-width="0.95"/>
<polyline points="840.0,721.7 840.7,742.7" fill="none" stroke="#555" stroke-width="0.95"/>
<polyline points="850.0,728.3 850.7,743.3" fill="none" stroke="#555" stroke-width="0.95"/>
<path d="M809.0,687.3 v63.3 a5.0,3.0 0 0 0 10.0,0 v-63.3 z" fill="#fff" stroke="#000" stroke-width="0.95"/>
<ellipse cx="814.0" cy="687.3" rx="5.0" ry="3.0" fill="#fff" stroke="#000" stroke-width="0.95"/>
<polyline points="866.7,739.3 874.0,743.3 876.0,751.7" fill="none" stroke="#000" stroke-width="0.95"/>
<polyline points="874.0,743.3 872.7,766.0" fill="none" stroke="#000" stroke-width="0.95"/>
<polyline points="983.3,641.7 988.9,639.6 994.4,637.6 1000.0,635.6 1005.5,633.6 1011.1,631.6 1016.6,629.5 1022.1,627.5 1027.7,625.5 1033.2,623.4 1038.7,621.2 1044.1,618.8 1049.4,616.3 1054.8,613.9 1060.3,611.8 1066.0,610.2 1071.8,609.3 1077.7,609.0 1083.6,609.1 1089.5,609.4 1095.4,609.5 1101.3,609.2 1107.2,608.8 1113.1,608.4 1118.9,607.8 1124.8,606.9 1130.6,605.7 1136.2,604.1 1141.8,602.0 1147.2,599.7 1152.5,597.2 1157.8,594.6 1163.1,591.9 1168.3,589.1 1173.4,586.2 1178.4,583.0 1183.3,579.7 1188.1,576.4 1192.9,572.8 1197.3,569.0 1201.7,565.0" fill="none" stroke="#000" stroke-width="0.70"/>
<polyline points="983.2,645.2 988.7,643.1 994.2,641.1 999.8,639.0 1005.3,637.0 1010.9,634.9 1016.4,632.9 1021.9,630.8 1027.5,628.8 1033.0,626.7 1038.5,624.5 1043.9,622.1 1049.3,619.6 1054.7,617.3 1060.2,615.1 1065.8,613.5 1071.7,612.5 1077.5,612.2 1083.4,612.5 1089.3,612.9 1095.2,613.0 1101.1,612.7 1107.0,612.3 1112.9,611.9 1118.7,611.3 1124.6,610.4 1130.4,609.2 1136.0,607.6 1141.6,605.6 1147.0,603.3 1152.4,600.8 1157.7,598.2 1163.0,595.5 1168.2,592.8 1173.3,589.8 1178.3,586.7 1183.2,583.4 1188.0,579.9 1192.7,576.4 1197.2,572.5 1201.5,568.5" fill="none" stroke="#666" stroke-width="0.50"/>
<polyline points="983.0,648.7 988.5,646.6 994.1,644.5 999.6,642.5 1005.1,640.4 1010.7,638.3 1016.2,636.2 1021.7,634.2 1027.3,632.1 1032.8,629.9 1038.3,627.7 1043.7,625.4 1049.1,623.0 1054.5,620.6 1060.0,618.5 1065.7,616.8 1071.5,615.8 1077.4,615.4 1083.2,615.9 1089.1,616.4 1095.0,616.4 1100.9,616.2 1106.8,615.8 1112.7,615.4 1118.5,614.8 1124.4,613.9 1130.2,612.7 1135.9,611.1 1141.4,609.1 1146.9,606.9 1152.3,604.4 1157.6,601.9 1162.9,599.2 1168.1,596.4 1173.2,593.5 1178.2,590.3 1183.1,587.0 1187.9,583.5 1192.5,579.9 1197.0,576.0 1201.3,572.0" fill="none" stroke="#666" stroke-width="0.50"/>
<polyline points="982.8,652.2 988.4,650.1 993.9,648.0 999.4,645.9 1005.0,643.8 1010.5,641.7 1016.0,639.6 1021.5,637.5 1027.1,635.4 1032.6,633.2 1038.1,631.0 1043.5,628.7 1048.9,626.3 1054.3,624.0 1059.9,621.9 1065.5,620.2 1071.3,619.1 1077.2,618.7 1083.0,619.3 1088.8,619.9 1094.8,619.9 1100.7,619.7 1106.6,619.3 1112.5,618.9 1118.3,618.2 1124.2,617.3 1130.0,616.1 1135.7,614.5 1141.3,612.6 1146.8,610.4 1152.2,608.0 1157.5,605.5 1162.8,602.8 1168.0,600.0 1173.1,597.1 1178.1,593.9 1183.0,590.6 1187.7,587.1 1192.4,583.4 1196.8,579.5 1201.2,575.5" fill="none" stroke="#666" stroke-width="0.50"/>
<polyline points="982.7,655.7 988.2,653.6 993.7,651.4 999.2,649.3 1004.8,647.2 1010.3,645.1 1015.8,642.9 1021.3,640.8 1026.8,638.7 1032.4,636.5 1037.8,634.3 1043.3,632.0 1048.7,629.6 1054.2,627.3 1059.7,625.2 1065.4,623.5 1071.2,622.3 1077.0,621.9 1082.8,622.7 1088.6,623.4 1094.5,623.4 1100.5,623.2 1106.4,622.8 1112.3,622.4 1118.1,621.7 1124.0,620.8 1129.8,619.6 1135.5,618.0 1141.1,616.1 1146.6,614.0 1152.0,611.6 1157.4,609.1 1162.7,606.5 1167.9,603.7 1173.0,600.7 1178.0,597.6 1182.9,594.2 1187.6,590.6 1192.2,586.9 1196.7,583.0 1201.0,579.0" fill="none" stroke="#666" stroke-width="0.50"/>
<polyline points="982.5,659.2 988.0,657.0 993.5,654.9 999.1,652.7 1004.6,650.6 1010.1,648.4 1015.6,646.3 1021.1,644.1 1026.6,642.0 1032.1,639.8 1037.6,637.6 1043.1,635.3 1048.5,633.0 1054.0,630.7 1059.6,628.6 1065.2,626.8 1071.0,625.6 1076.9,625.1 1082.6,626.1 1088.4,626.9 1094.3,626.9 1100.2,626.7 1106.2,626.3 1112.1,625.9 1117.9,625.2 1123.8,624.3 1129.6,623.1 1135.3,621.5 1140.9,619.7 1146.5,617.5 1151.9,615.2 1157.3,612.7 1162.6,610.1 1167.8,607.3 1172.9,604.4 1178.0,601.2 1182.8,597.8 1187.5,594.2 1192.1,590.5 1196.5,586.5 1200.8,582.5" fill="none" stroke="#666" stroke-width="0.50"/>
<polyline points="982.3,662.7 987.9,660.5 993.4,658.3 998.9,656.2 1004.4,654.0 1009.9,651.8 1015.4,649.6 1020.9,647.4 1026.4,645.3 1031.9,643.1 1037.4,640.9 1042.9,638.6 1048.4,636.3 1053.9,634.0 1059.4,632.0 1065.1,630.2 1070.8,628.9 1076.7,628.3 1082.4,629.5 1088.2,630.3 1094.1,630.3 1100.0,630.2 1106.0,629.8 1111.9,629.4 1117.7,628.7 1123.6,627.7 1129.4,626.5 1135.1,625.0 1140.8,623.2 1146.3,621.1 1151.8,618.8 1157.2,616.3 1162.5,613.7 1167.7,611.0 1172.9,608.0 1177.9,604.9 1182.7,601.4 1187.4,597.8 1191.9,594.0 1196.3,590.0 1200.7,586.0" fill="none" stroke="#666" stroke-width="0.50"/>
<polyline points="982.2,666.2 987.7,664.0 993.2,661.8 998.7,659.6 1004.2,657.4 1009.7,655.2 1015.2,653.0 1020.7,650.8 1026.2,648.6 1031.7,646.4 1037.2,644.1 1042.7,641.9 1048.2,639.6 1053.7,637.4 1059.2,635.3 1064.9,633.5 1070.7,632.2 1076.5,631.6 1082.2,633.0 1088.0,633.8 1093.9,633.8 1099.8,633.6 1105.7,633.3 1111.7,632.9 1117.5,632.2 1123.4,631.2 1129.2,630.0 1134.9,628.5 1140.6,626.7 1146.2,624.7 1151.6,622.4 1157.0,620.0 1162.4,617.4 1167.6,614.6 1172.8,611.7 1177.8,608.5 1182.6,605.0 1187.2,601.3 1191.8,597.5 1196.1,593.5 1200.5,589.5" fill="none" stroke="#666" stroke-width="0.50"/>
<polyline points="982.0,669.7 987.5,667.5 993.0,665.2 998.5,663.0 1004.0,660.8 1009.5,658.5 1015.0,656.3 1020.5,654.1 1026.0,651.9 1031.5,649.6 1037.0,647.4 1042.5,645.2 1048.0,642.9 1053.5,640.8 1059.1,638.7 1064.7,636.9 1070.5,635.4 1076.4,634.8 1082.0,636.4 1087.7,637.3 1093.7,637.3 1099.6,637.1 1105.5,636.8 1111.5,636.4 1117.3,635.7 1123.2,634.7 1129.0,633.5 1134.8,632.0 1140.4,630.2 1146.0,628.2 1151.5,626.0 1156.9,623.6 1162.3,621.0 1167.5,618.3 1172.7,615.3 1177.7,612.1 1182.5,608.6 1187.1,604.9 1191.6,601.0 1196.0,597.0 1200.3,593.0" fill="none" stroke="#666" stroke-width="0.50"/>
<polyline points="981.8,673.2 987.3,670.9 992.8,668.7 998.3,666.4 1003.8,664.2 1009.3,661.9 1014.8,659.6 1020.3,657.4 1025.8,655.2 1031.3,652.9 1036.8,650.7 1042.3,648.5 1047.8,646.3 1053.4,644.1 1058.9,642.1 1064.6,640.2 1070.3,638.7 1076.2,638.0 1081.8,639.8 1087.5,640.8 1093.5,640.8 1099.4,640.6 1105.3,640.3 1111.3,639.9 1117.1,639.1 1123.0,638.1 1128.8,636.9 1134.6,635.5 1140.3,633.8 1145.9,631.8 1151.4,629.6 1156.8,627.2 1162.2,624.6 1167.4,621.9 1172.6,619.0 1177.6,615.8 1182.4,612.2 1187.0,608.5 1191.4,604.6 1195.8,600.5 1200.2,596.5" fill="none" stroke="#666" stroke-width="0.50"/>
<polyline points="1038.7,621.2 1036.6,654.0" fill="none" stroke="#444" stroke-width="0.95"/>
<polyline points="1071.8,609.3 1070.2,642.0" fill="none" stroke="#444" stroke-width="0.95"/>
<polyline points="1095.4,609.5 1093.2,644.2" fill="none" stroke="#444" stroke-width="0.95"/>
<polyline points="1136.2,604.1 1134.4,639.0" fill="none" stroke="#444" stroke-width="0.95"/>
<polyline points="1168.3,589.1 1167.3,625.5" fill="none" stroke="#444" stroke-width="0.95"/>
<polyline points="1201.7,565.0 1200.0,600.0" fill="none" stroke="#444" stroke-width="0.95"/>
<polyline points="1201.7,565.0 1375.0,680.0" fill="none" stroke="#000" stroke-width="0.70"/>
<polyline points="1201.5,568.5 1375.0,683.3" fill="none" stroke="#666" stroke-width="0.50"/>
<polyline points="1201.3,572.0 1375.0,686.7" fill="none" stroke="#666" stroke-width="0.50"/>
<polyline points="1201.2,575.5 1375.0,690.0" fill="none" stroke="#666" stroke-width="0.50"/>
<polyline points="1201.0,579.0 1375.0,693.3" fill="none" stroke="#666" stroke-width="0.50"/>
<polyline points="1200.8,582.5 1375.0,696.7" fill="none" stroke="#666" stroke-width="0.50"/>
<polyline points="1200.7,586.0 1375.0,700.0" fill="none" stroke="#666" stroke-width="0.50"/>
<polyline points="1200.5,589.5 1375.0,703.3" fill="none" stroke="#666" stroke-width="0.50"/>
<polyline points="1200.3,593.0 1375.0,706.7" fill="none" stroke="#666" stroke-width="0.50"/>
<polyline points="1200.2,596.5 1375.0,710.0" fill="none" stroke="#666" stroke-width="0.50"/>
<polyline points="1258.9,603.0 1257.8,637.4" fill="none" stroke="#444" stroke-width="0.95"/>
<polyline points="1316.9,641.5 1316.4,675.4" fill="none" stroke="#444" stroke-width="0.95"/>
<polyline points="986.7,550.0 991.7,616.7" fill="none" stroke="#fff" stroke-width="0.10"/>
<polyline points="1221.7,446.7 1351.0,340.0 1814.3,616.7" fill="none" stroke="#000" stroke-width="0.95"/>
<polyline points="1351.0,340.0 1345.0,403.3" fill="none" stroke="#000" stroke-width="0.95"/>
<polyline points="1345.0,403.3 1229.3,496.7" fill="none" stroke="#000" stroke-width="0.95"/>
<polyline points="1345.0,403.3 1431.7,454.0" fill="none" stroke="#000" stroke-width="0.95"/>
<polygon points="1264.5,417.8 1304.8,385.9 1302.3,415.3 1262.0,448.1" fill="none" stroke="#444" stroke-width="1.80"/>
<polyline points="1282.2,403.5 1280.5,427.9" fill="none" stroke="#444" stroke-width="2.20"/>
<polyline points="1262.0,449.3 1302.3,417.3" fill="none" stroke="#777" stroke-width="1.00"/>
<polyline points="1262.8,444.7 1301.8,413.6" fill="none" stroke="#777" stroke-width="1.00"/>
<polygon points="1421.9,391.5 1462.6,414.4 1460.5,440.5 1419.8,419.7" fill="none" stroke="#333" stroke-width="2.00"/>
<polyline points="1444.9,404.6 1442.8,431.1" fill="none" stroke="#333" stroke-width="2.00"/>
<polyline points="1419.2,421.7 1459.5,442.6" fill="none" stroke="#666" stroke-width="1.20"/>
<polyline points="1491.8,423.8 1493.9,496.9" fill="none" stroke="#555" stroke-width="0.95"/>
<polyline points="1578.4,476.0 1571.1,524.0" fill="none" stroke="#555" stroke-width="0.95"/>
<polyline points="1661.9,526.1 1658.8,557.4" fill="none" stroke="#555" stroke-width="0.95"/>
<polyline points="1452.2,458.3 1492.9,424.2 1575.3,472.9 1515.8,524.0" fill="none" stroke="#000" stroke-width="0.95"/>
<polyline points="1575.3,472.9 1660.9,524.4 1619.1,559.5" fill="none" stroke="#000" stroke-width="0.95"/>
<polyline points="1660.9,524.4 1684.9,538.6" fill="none" stroke="#000" stroke-width="0.95"/>
<polygon points="1491.8,475.0 1498.1,471.8 1508.5,478.1 1508.1,488.5 1503.3,505.2 1487.7,505.2 1483.5,496.9 1485.6,488.5 1491.8,484.3" fill="#bdbdbd" stroke="#000" stroke-width="0.95"/>
<polyline points="1491.8,475.0 1502.7,481.8 1508.5,478.1" fill="none" stroke="#666" stroke-width="0.95"/>
<polyline points="1484.5,493.7 1493.9,499.0 1504.3,494.4" fill="none" stroke="#666" stroke-width="0.95"/>
<polygon points="1497.0,508.3 1519.0,494.8 1533.6,503.1 1533.6,510.4 1513.7,524.0 1498.1,515.7" fill="#bdbdbd" stroke="#000" stroke-width="0.95"/>
<ellipse cx="1521.0" cy="510.4" rx="11.5" ry="6.7" fill="none" stroke="#555" stroke-width="0.95"/>
<ellipse cx="1521.0" cy="511.1" rx="8.8" ry="5.0" fill="none" stroke="#777" stroke-width="0.95"/>
<polygon points="1552.3,541.7 1571.1,527.1 1615.4,553.2 1616.0,565.7 1608.7,567.8 1577.4,567.8 1574.3,563.7" fill="#bdbdbd" stroke="#000" stroke-width="0.95"/>
<ellipse cx="1579.9" cy="552.8" rx="24.6" ry="13.8" fill="none" stroke="#444" stroke-width="1.00"/>
<ellipse cx="1579.9" cy="553.6" rx="20.9" ry="11.3" fill="none" stroke="#777" stroke-width="0.95"/>
<ellipse cx="1579.9" cy="551.5" rx="22.5" ry="12.1" fill="none" stroke="#999" stroke-width="0.95"/>
<polygon points="1616.0,561.6 1619.1,559.5 1622.3,563.7 1621.2,568.9 1617.0,567.8" fill="#6f6f6f" stroke="#000" stroke-width="0.95"/>
<polyline points="1544.0,492.7 1549.2,490.6 1548.6,494.4" fill="none" stroke="#666" stroke-width="1.50"/>
<polyline points="1561.7,500.0 1569.0,504.2 1568.0,507.7" fill="none" stroke="#666" stroke-width="1.80"/>
<polygon points="1513.7,524.0 1575.3,472.9 1579.5,476.0 1520.0,527.5" fill="#fff" stroke="#000" stroke-width="0.95"/>
<polygon points="1618.1,558.4 1660.9,524.4 1664.6,527.1 1621.6,562.0" fill="#fff" stroke="#000" stroke-width="0.95"/>
<polygon points="1451.1,456.8 1491.8,422.8 1495.0,425.5 1453.2,460.3" fill="#fff" stroke="#000" stroke-width="0.95"/>
<polygon points="1434.4,440.5 1469.9,412.3 1473.0,414.4 1472.6,437.4 1451.1,454.1 1450.1,458.9 1448.4,491.7 1462.6,491.7 1487.7,513.6 1462.6,505.2 1443.8,493.7 1433.4,524.0 1426.1,524.0 1426.1,505.2" fill="#6f6f6f" stroke="#000" stroke-width="0.95"/>
<polygon points="1441.7,444.7 1472.0,419.7 1472.0,436.3 1451.1,454.1 1443.8,457.2" fill="#bdbdbd" stroke="#000" stroke-width="0.95"/>
<polyline points="1434.4,440.5 1441.7,444.7 1473.0,419.7" fill="none" stroke="#444" stroke-width="0.95"/>
<polyline points="1437.6,448.9 1434.4,513.6" fill="none" stroke="#555" stroke-width="0.95"/>
<polyline points="1453.2,443.7 1452.2,453.0" fill="none" stroke="#888" stroke-width="0.95"/>
<polygon points="1443.8,492.7 1462.6,491.7 1491.8,508.6 1516.9,524.0 1546.1,542.4 1574.3,563.7 1574.3,570.3 1555.5,559.9 1460.5,504.6" fill="#6f6f6f" stroke="#000" stroke-width="0.95"/>
<polygon points="1368.7,586.6 1461.6,509.0 1550.7,559.9 1524.8,587.0 1461.6,645.0 1425.0,645.0 1369.3,610.0" fill="#fff"/>
<polyline points="1461.6,509.4 1456.3,544.9" fill="none" stroke="#555" stroke-width="0.95"/>
<polyline points="1456.3,544.9 1433.4,580.3 1408.3,615.8" fill="none" stroke="#555" stroke-width="0.95"/>
<polyline points="1456.3,544.9 1527.3,586.6" fill="none" stroke="#555" stroke-width="0.95"/>
<polygon points="1482.4,515.7 1489.7,513.6 1536.7,544.9 1533.6,562.0 1516.9,557.4 1481.4,526.1" fill="#bdbdbd" stroke="#000" stroke-width="0.95"/>
<polyline points="1482.4,524.0 1508.5,534.4 1532.5,547.0" fill="none" stroke="#777" stroke-width="0.95"/>
<polygon points="1477.2,555.3 1527.3,582.0 1525.2,588.7 1498.1,601.2 1473.0,580.3" fill="#bdbdbd" stroke="#000" stroke-width="0.95"/>
<polyline points="1477.6,561.6 1500.2,569.9 1525.2,585.6" fill="none" stroke="#777" stroke-width="0.95"/>
<polyline points="1437.6,530.3 1431.3,580.3" fill="none" stroke="#999" stroke-width="0.95"/>
<polyline points="1482.4,515.7 1477.2,555.3" fill="none" stroke="#555" stroke-width="0.95"/>
<polyline points="1420.9,575.1 1466.8,604.3 1443.8,630.0" fill="none" stroke="#333" stroke-width="1.60"/>
<polyline points="1417.7,595.0 1462.6,622.1 1456.3,630.0" fill="none" stroke="#333" stroke-width="1.60"/>
<polyline points="1419.8,599.1 1408.3,615.8 1404.2,630.0" fill="none" stroke="#555" stroke-width="0.95"/>
<polyline points="1418.8,599.1 1462.6,623.1" fill="none" stroke="#777" stroke-width="0.95"/>
<polygon points="1364.9,583.5 1461.6,502.7 1557.6,558.4 1523.1,589.1 1519.4,585.6 1550.3,559.5 1461.6,509.4 1368.7,588.1" fill="#fff" stroke="#000" stroke-width="0.95"/>
<polyline points="1523.1,589.1 1522.1,643.0" fill="none" stroke="#000" stroke-width="0.95"/>
<polyline points="1538.8,597.0 1533.6,651.3" fill="none" stroke="#555" stroke-width="0.95"/>
<polyline points="1527.3,590.8 1546.1,601.2 1541.9,657.6" fill="none" stroke="#555" stroke-width="0.95"/>
<polygon points="1555.5,559.5 1574.3,569.5 1615.0,567.8 1618.1,561.6 1621.6,568.2 1648.3,568.2 1683.8,536.9 1686.3,540.3 1683.8,547.0 1671.3,599.1 1654.6,611.7 1643.3,628.3 1636.7,635.0 1568.4,636.7 1553.4,626.7 1550.3,599.1" fill="#6f6f6f" stroke="#000" stroke-width="0.95"/>
<polygon points="1579.9,582.4 1607.7,581.4 1600.8,635.4 1573.6,636.3" fill="#bdbdbd" stroke="#000" stroke-width="0.95"/>
<polygon points="1649.4,572.0 1671.3,557.4 1680.7,550.1 1673.4,599.1 1654.6,611.7 1642.1,628.3" fill="#bdbdbd" stroke="#000" stroke-width="0.95"/>
<polyline points="1661.9,563.7 1653.6,612.7" fill="none" stroke="#777" stroke-width="0.95"/>
<polyline points="1574.3,569.5 1568.6,636.3" fill="none" stroke="#444" stroke-width="0.95"/>
<polyline points="1574.3,572.0 1648.3,571.0 1684.9,539.7" fill="none" stroke="#444" stroke-width="0.95"/>
<polyline points="1648.3,571.0 1637.9,634.6" fill="none" stroke="#444" stroke-width="0.95"/>
<polygon points="1684.9,547.0 1736.0,577.2 1730.8,606.4 1679.7,574.1" fill="none" stroke="#333" stroke-width="2.00"/>
<polyline points="1709.9,561.6 1705.7,589.7" fill="none" stroke="#333" stroke-width="2.00"/>
<polyline points="1679.2,576.2 1729.7,608.5" fill="none" stroke="#666" stroke-width="1.20"/>
<polyline points="1671.7,600.0 1766.7,654.0 1655.0,747.3" fill="none" stroke="#333" stroke-width="0.95"/>
<polyline points="1671.7,600.0 1676.7,543.3" fill="none" stroke="#555" stroke-width="0.95"/>
<polyline points="1671.7,600.0 1645.0,620.7" fill="none" stroke="#555" stroke-width="0.95"/>
<polygon points="1655.0,764.0 1823.3,618.3 1820.7,659.3 1641.7,840.0 1643.3,776.7" fill="#fff" stroke="#000" stroke-width="0.95"/>
<polygon points="1814.3,616.0 1823.3,613.3 1823.3,619.0 1655.0,764.0 1643.3,756.0" fill="#fff" stroke="#000" stroke-width="0.95"/>
<polyline points="1655.0,764.0 1643.3,838.3" fill="none" stroke="#555" stroke-width="0.95"/>
<polygon points="1761.7,674.0 1791.0,651.7 1787.7,681.7 1759.0,703.3" fill="none" stroke="#333" stroke-width="1.80"/>
<polyline points="1777.8,661.7 1774.8,691.4" fill="none" stroke="#333" stroke-width="1.50"/>
<polyline points="1782.2,658.4 1779.1,688.2" fill="none" stroke="#666" stroke-width="1.00"/>
<polygon points="1684.3,748.3 1712.3,726.7 1708.3,756.7 1680.0,779.3" fill="none" stroke="#333" stroke-width="1.80"/>
<polyline points="1699.7,736.4 1695.6,766.9" fill="none" stroke="#333" stroke-width="1.50"/>
<polyline points="1703.9,733.2 1699.8,763.5" fill="none" stroke="#666" stroke-width="1.00"/>
<polygon points="1225.0,499.3 1333.3,556.0 1330.0,631.7 1303.3,616.0 1223.3,563.3" fill="#6f6f6f" stroke="#000" stroke-width="0.95"/>
<polygon points="1227.3,514.0 1264.3,536.0 1261.7,586.0 1224.0,562.7" fill="#fff" stroke="#000" stroke-width="0.95"/>
<polygon points="1270.0,540.0 1308.3,561.7 1305.0,613.3 1265.7,589.3" fill="#fff" stroke="#000" stroke-width="0.95"/>
<polygon points="1325.0,556.7 1368.3,518.3 1411.7,517.3 1431.7,532.7 1385.0,571.7 1365.0,583.3 1333.3,565.0" fill="#6f6f6f" stroke="#000" stroke-width="0.95"/>
<polygon points="1374.3,532.7 1403.3,531.0 1403.3,552.3 1374.3,575.3" fill="#bdbdbd" stroke="#000" stroke-width="0.95"/>
<polyline points="1328.3,560.0 1371.0,523.3 1409.0,522.7 1426.7,535.0" fill="none" stroke="#444" stroke-width="0.95"/>
<polyline points="1371.0,523.3 1370.0,578.3" fill="none" stroke="#444" stroke-width="0.95"/>
<polyline points="1408.3,522.7 1406.7,550.0" fill="none" stroke="#444" stroke-width="0.95"/>
<polygon points="1333.3,563.3 1365.0,585.0 1362.3,656.7 1328.3,633.3" fill="#fff" stroke="#000" stroke-width="0.95"/>
<polygon points="1364.3,600.0 1369.3,610.0 1425.0,645.0 1457.7,646.0 1448.3,708.3 1419.0,711.7 1362.3,676.7 1358.3,656.7" fill="#6f6f6f" stroke="#000" stroke-width="0.95"/>
<polygon points="1382.3,628.3 1413.3,646.7 1406.7,681.7 1375.0,663.3" fill="#fff" stroke="#000" stroke-width="0.95"/>
<polygon points="1380.0,626.0 1415.7,646.7 1408.3,685.0 1372.3,664.0" fill="none" stroke="#333" stroke-width="1.20"/>
<polyline points="1425.0,645.0 1419.0,711.7" fill="none" stroke="#444" stroke-width="0.95"/>
<polyline points="1460.0,646.7 1505.0,673.3" fill="none" stroke="#000" stroke-width="0.95"/>
<polyline points="1465.7,644.0 1508.3,669.3" fill="none" stroke="#000" stroke-width="0.95"/>
<polyline points="1525.0,591.7 1508.3,656.7" fill="none" stroke="#555" stroke-width="0.95"/>
<polyline points="1546.7,600.0 1538.3,713.3" fill="none" stroke="#777" stroke-width="0.95"/>
<polyline points="1508.3,656.7 1505.0,673.3" fill="none" stroke="#555" stroke-width="0.95"/>
<polyline points="1553.3,561.7 1548.3,600.0" fill="none" stroke="#000" stroke-width="0.95"/>
<polygon points="1504.3,674.0 1508.3,670.7 1608.3,727.7 1613.3,726.7 1621.7,731.7 1622.3,740.7 1641.7,755.0 1626.7,821.7 1585.0,793.3 1496.7,737.3" fill="#6f6f6f" stroke="#000" stroke-width="0.95"/>
<polygon points="1505.7,687.3 1546.7,713.3 1540.0,763.3 1497.7,737.3" fill="#fff" stroke="#000" stroke-width="0.95"/>
<polygon points="1551.0,716.0 1591.7,741.7 1585.0,792.7 1544.3,766.0" fill="#fff" stroke="#000" stroke-width="0.95"/>
<polyline points="1505.7,687.3 1538.3,668.3" fill="none" stroke="#777" stroke-width="0.95"/>
<polyline points="1497.7,733.3 1528.3,713.3" fill="none" stroke="#999" stroke-width="0.95"/>
<polyline points="1221.7,578.3 1621.7,825.0" fill="none" stroke="#000" stroke-width="0.70"/>
<polyline points="1221.7,581.8 1620.8,829.2" fill="none" stroke="#666" stroke-width="0.50"/>
<polyline points="1221.7,585.3 1620.0,833.3" fill="none" stroke="#666" stroke-width="0.50"/>
<polyline points="1221.7,588.8 1619.2,837.5" fill="none" stroke="#666" stroke-width="0.50"/>
<polyline points="1221.7,592.3 1618.3,841.7" fill="none" stroke="#666" stroke-width="0.50"/>
<polyline points="1221.7,595.8 1617.5,845.8" fill="none" stroke="#666" stroke-width="0.50"/>
<polyline points="1221.7,599.3 1616.7,850.0" fill="none" stroke="#666" stroke-width="0.50"/>
<polyline points="1221.7,602.8 1615.8,854.2" fill="none" stroke="#666" stroke-width="0.50"/>
<polyline points="1221.7,606.3 1615.0,858.3" fill="none" stroke="#666" stroke-width="0.50"/>
<polyline points="1221.7,609.8 1614.2,862.5" fill="none" stroke="#666" stroke-width="0.50"/>
<polyline points="1314.9,635.8 1312.9,672.4" fill="none" stroke="#444" stroke-width="0.95"/>
<polyline points="1373.7,672.1 1370.5,709.6" fill="none" stroke="#444" stroke-width="0.95"/>
<polyline points="1433.7,709.1 1429.2,747.6" fill="none" stroke="#444" stroke-width="0.95"/>
<polyline points="1493.7,746.1 1488.0,785.6" fill="none" stroke="#444" stroke-width="0.95"/>
<polyline points="1555.7,784.3 1548.7,824.9" fill="none" stroke="#444" stroke-width="0.95"/>
<polyline points="1621.7,825.0 1646.7,808.3" fill="none" stroke="#000" stroke-width="0.70"/>
<polyline points="1620.8,829.2 1646.2,811.7" fill="none" stroke="#666" stroke-width="0.50"/>
<polyline points="1620.0,833.3 1645.7,815.0" fill="none" stroke="#666" stroke-width="0.50"/>
<polyline points="1619.2,837.5 1645.2,818.3" fill="none" stroke="#666" stroke-width="0.50"/>
<polyline points="1618.3,841.7 1644.7,821.7" fill="none" stroke="#666" stroke-width="0.50"/>
<polyline points="1617.5,845.8 1644.2,825.0" fill="none" stroke="#666" stroke-width="0.50"/>
<polyline points="1616.7,850.0 1643.7,828.3" fill="none" stroke="#666" stroke-width="0.50"/>
<polyline points="1615.8,854.2 1643.2,831.7" fill="none" stroke="#666" stroke-width="0.50"/>
<polyline points="1615.0,858.3 1642.7,835.0" fill="none" stroke="#666" stroke-width="0.50"/>
<polyline points="1614.2,862.5 1642.2,838.3" fill="none" stroke="#666" stroke-width="0.50"/>
<polyline points="1621.7,825.0 1613.3,866.7" fill="none" stroke="#444" stroke-width="0.95"/>
<polyline points="742.8,1188.6 613.2,1294.1 612.0,1297.6 605.7,1302.6 605.0,1306.3 598.8,1311.3 598.0,1315.0 592.0,1320.0 591.3,1323.7 585.1,1328.7 558.4,1350.7" fill="none" stroke="#000" stroke-width="1.20"/>
<polyline points="613.2,1294.1 629.4,1308.3" fill="none" stroke="#777" stroke-width="0.95"/>
<polyline points="612.0,1297.6 626.9,1310.8" fill="none" stroke="#777" stroke-width="0.95"/>
<polyline points="605.7,1302.6 621.4,1316.5" fill="none" stroke="#777" stroke-width="0.95"/>
<polyline points="605.0,1306.3 619.5,1319.0" fill="none" stroke="#777" stroke-width="0.95"/>
<polyline points="598.8,1311.3 614.5,1324.5" fill="none" stroke="#777" stroke-width="0.95"/>
<polyline points="598.0,1315.0 612.0,1327.0" fill="none" stroke="#777" stroke-width="0.95"/>
<polyline points="592.0,1320.0 607.0,1333.2" fill="none" stroke="#777" stroke-width="0.95"/>
<polyline points="591.3,1323.7 604.5,1335.0" fill="none" stroke="#777" stroke-width="0.95"/>
<polygon points="545.9,1341.9 565.9,1358.1 550.2,1367.4 547.2,1361.9" fill="#d8d8d8" stroke="#444" stroke-width="0.95"/>
<polyline points="558.4,1350.7 565.9,1358.1" fill="none" stroke="#000" stroke-width="1.20"/>
<polyline points="550.2,1367.4 539.7,1375.6 540.2,1378.1 534.7,1382.3 535.2,1384.8 529.7,1388.8 497.3,1416.7" fill="none" stroke="#222" stroke-width="1.00"/>
<polyline points="599.5,1394.3 759.0,1251.0" fill="none" stroke="#555" stroke-width="0.95"/>
<polyline points="743.3,1188.3 741.7,1158.3 761.7,1170.0 876.7,1080.0 1260.0,1348.3 1270.0,1340.7" fill="none" stroke="#000" stroke-width="1.30"/>
<polygon points="741.7,1158.3 761.7,1170.0 779.3,1183.3 761.7,1198.3 743.3,1188.3" fill="#d8d8d8" stroke="#555" stroke-width="0.95"/>
<path d="M830.0,1121.7 C835.0,1125.0 848.3,1133.6 860.0,1141.7 C871.7,1149.7 884.4,1158.6 900.0,1170.0 C915.6,1181.4 936.7,1198.3 953.3,1210.0 C970.0,1221.7 986.7,1232.8 1000.0,1240.0 C1013.3,1247.2 1022.2,1250.8 1033.3,1253.3 C1044.4,1255.8 1055.0,1256.7 1066.7,1255.0 C1078.3,1253.3 1097.2,1245.3 1103.3,1243.3" fill="none" stroke="#888" stroke-width="0.80" stroke-dasharray="3,3" stroke-linejoin="round"/>
<polyline points="881.7,1129.3 883.3,1161.7" fill="none" stroke="#4a4a4a" stroke-width="2.60"/>
<polyline points="821.7,1177.3 823.3,1206.7" fill="none" stroke="#4a4a4a" stroke-width="2.60"/>
<polyline points="960.0,1191.7 961.7,1220.0" fill="none" stroke="#4a4a4a" stroke-width="2.60"/>
<polyline points="921.7,1222.7 922.7,1256.7" fill="none" stroke="#4a4a4a" stroke-width="2.60"/>
<polyline points="1033.3,1300.0 1033.3,1336.7" fill="none" stroke="#4a4a4a" stroke-width="2.60"/>
<polyline points="1016.7,1315.0 1017.3,1324.0" fill="none" stroke="#4a4a4a" stroke-width="2.60"/>
<polyline points="1225.0,1371.7 1224.0,1381.7" fill="none" stroke="#4a4a4a" stroke-width="2.60"/>
<polyline points="1166.7,1431.7 1167.3,1439.3" fill="none" stroke="#4a4a4a" stroke-width="2.60"/>
<polyline points="821.7,1177.3 881.7,1128.3 1225.0,1371.7 1166.7,1431.7 1016.7,1315.0 1033.3,1299.3 921.7,1222.3 906.0,1235.0 821.7,1177.3" fill="none" stroke="#4a4a4a" stroke-width="3.60"/>
<polyline points="851.7,1195.0 903.3,1148.3" fill="none" stroke="#4a4a4a" stroke-width="3.20"/>
<polyline points="881.7,1215.0 933.3,1168.3" fill="none" stroke="#4a4a4a" stroke-width="3.20"/>
<polyline points="906.7,1235.0 960.0,1191.7" fill="none" stroke="#4a4a4a" stroke-width="3.20"/>
<polyline points="951.7,1233.3 985.0,1205.0" fill="none" stroke="#4a4a4a" stroke-width="3.20"/>
<polyline points="978.3,1253.3 1015.0,1226.7" fill="none" stroke="#4a4a4a" stroke-width="3.20"/>
<polyline points="1006.7,1273.3 1041.7,1245.0" fill="none" stroke="#4a4a4a" stroke-width="3.20"/>
<polyline points="1033.3,1298.3 1071.7,1268.3" fill="none" stroke="#4a4a4a" stroke-width="3.20"/>
<polyline points="1061.7,1336.7 1110.0,1295.0" fill="none" stroke="#4a4a4a" stroke-width="3.20"/>
<polyline points="1096.7,1363.3 1146.7,1321.7" fill="none" stroke="#4a4a4a" stroke-width="3.20"/>
<polyline points="1130.0,1395.0 1183.3,1346.7" fill="none" stroke="#4a4a4a" stroke-width="3.20"/>
<polygon points="700.0,1252.7 787.3,1181.7 861.7,1233.3 890.0,1233.3 918.3,1255.0 921.7,1283.3 963.3,1308.3 993.3,1307.3 1028.3,1333.3 1030.0,1345.0 1161.7,1440.0 1163.3,1470.0 700.0,1470.0" fill="#fff"/>
<polyline points="500.3,1418.7 788.3,1188.0" fill="none" stroke="#000" stroke-width="0.95"/>
<polyline points="787.3,1187.3 788.3,1203.3" fill="none" stroke="#000" stroke-width="0.95"/>
<polyline points="787.3,1187.3 860.0,1236.7" fill="none" stroke="#000" stroke-width="0.95"/>
<polyline points="809.3,1238.2 870.5,1283.0" fill="none" stroke="#000" stroke-width="0.95"/>
<polygon points="755.7,1228.4 788.4,1202.0 813.5,1216.6 795.4,1217.3 785.7,1225.7 785.7,1229.8 770.3,1241.0 767.6,1239.6" fill="#bdbdbd" stroke="#000" stroke-width="0.95"/>
<polygon points="743.9,1223.6 767.6,1239.6 768.3,1253.5 745.3,1238.2" fill="#bdbdbd" stroke="#555" stroke-width="0.95"/>
<polygon points="785.7,1225.7 794.7,1217.3 813.5,1215.9 830.2,1221.8 842.4,1229.8 827.4,1243.7 819.0,1239.6 796.8,1232.6 787.0,1231.2" fill="#bdbdbd" stroke="#555" stroke-width="0.95"/>
<polyline points="795.4,1218.0 818.3,1225.7 819.0,1239.6" fill="none" stroke="#555" stroke-width="0.95"/>
<polyline points="795.4,1218.0 796.8,1232.6" fill="none" stroke="#555" stroke-width="0.95"/>
<polyline points="819.0,1225.7 827.4,1219.4" fill="none" stroke="#777" stroke-width="0.95"/>
<polyline points="822.1,1226.1 830.9,1221.9" fill="none" stroke="#777" stroke-width="0.95"/>
<polyline points="825.2,1226.5 834.3,1224.4" fill="none" stroke="#777" stroke-width="0.95"/>
<polyline points="828.2,1226.9 837.8,1226.9" fill="none" stroke="#777" stroke-width="0.95"/>
<polygon points="768.3,1240.3 785.7,1229.8 788.4,1227.7 834.3,1280.6 835.0,1291.0 827.4,1285.5 787.0,1261.1 787.0,1267.4 769.7,1254.2" fill="#bdbdbd" stroke="#555" stroke-width="0.95"/>
<polyline points="785.7,1226.3 834.3,1280.6" fill="none" stroke="#444" stroke-width="0.95"/>
<polyline points="787.0,1231.9 833.0,1288.3" fill="none" stroke="#555" stroke-width="0.95"/>
<polyline points="770.3,1241.0 787.0,1260.4" fill="none" stroke="#555" stroke-width="0.95"/>
<polyline points="777.3,1247.9 787.7,1241.2" fill="none" stroke="#777" stroke-width="0.95"/>
<polyline points="783.6,1255.6 793.3,1248.5" fill="none" stroke="#777" stroke-width="0.95"/>
<polyline points="789.8,1263.2 798.9,1255.7" fill="none" stroke="#777" stroke-width="0.95"/>
<polyline points="796.1,1270.9 804.4,1262.9" fill="none" stroke="#777" stroke-width="0.95"/>
<polyline points="802.3,1278.5 810.0,1270.2" fill="none" stroke="#777" stroke-width="0.95"/>
<polygon points="787.7,1260.4 858.0,1311.9 858.7,1350.9 788.4,1298.7" fill="#fff" stroke="#000" stroke-width="0.95"/>
<polygon points="858.0,1311.9 872.6,1322.3 874.0,1360.6 858.7,1350.9" fill="#6f6f6f" stroke="#000" stroke-width="0.95"/>
<polyline points="865.7,1238.2 891.4,1237.5 917.8,1257.7" fill="none" stroke="#000" stroke-width="0.95"/>
<polyline points="891.4,1238.2 892.1,1253.5" fill="none" stroke="#000" stroke-width="0.95"/>
<polyline points="865.7,1238.2 869.8,1245.1" fill="none" stroke="#000" stroke-width="0.95"/>
<polygon points="869.8,1245.1 874.7,1245.8 902.5,1266.0 901.8,1271.6 877.5,1257.7 876.8,1288.0 870.5,1283.0" fill="#6f6f6f" stroke="#000" stroke-width="0.95"/>
<polygon points="877.5,1257.7 901.4,1271.3 901.8,1301.5 878.2,1288.3" fill="#bdbdbd" stroke="#000" stroke-width="0.95"/>
<polyline points="889.3,1264.6 890.0,1295.2" fill="none" stroke="#777" stroke-width="0.95"/>
<polyline points="902.5,1267.4 903.2,1307.0 920.6,1320.3" fill="none" stroke="#000" stroke-width="0.95"/>
<polyline points="902.5,1267.4 919.9,1279.9" fill="none" stroke="#000" stroke-width="0.95"/>
<polygon points="920.3,1282.4 924.8,1283.4 959.6,1307.7 960.3,1335.6 955.4,1333.5 954.7,1310.5 924.8,1291.0 924.1,1321.7 920.9,1321.0" fill="#6f6f6f" stroke="#000" stroke-width="0.95"/>
<polygon points="924.8,1291.0 954.7,1310.5 955.4,1334.2 924.8,1321.4" fill="#bdbdbd" stroke="#000" stroke-width="0.95"/>
<polyline points="940.1,1300.8 940.4,1327.9" fill="none" stroke="#777" stroke-width="0.95"/>
<polygon points="930.3,1284.1 945.7,1283.4 970.0,1302.2 970.0,1308.0 961.0,1308.0" fill="#6f6f6f" stroke="#000" stroke-width="0.95"/>
<polygon points="952.0,1357.8 961.7,1343.9 979.8,1330.0 996.5,1330.0 996.2,1354.3 981.9,1364.8 979.1,1363.4 978.4,1335.6 968.0,1343.9 968.0,1355.0" fill="#6f6f6f" stroke="#000" stroke-width="0.95"/>
<polyline points="968.0,1355.0 979.8,1364.1" fill="none" stroke="#555" stroke-width="0.95"/>
<polyline points="996.2,1354.3 1009.0,1359.9" fill="none" stroke="#555" stroke-width="0.95"/>
<polygon points="988.2,1385.0 1027.1,1352.3 1085.6,1396.8 1050.8,1430.2 1027.1,1409.3" fill="#fff"/>
<polyline points="1027.1,1352.3 1027.4,1371.7" fill="none" stroke="#666" stroke-width="0.95"/>
<polygon points="1016.0,1381.5 1024.3,1373.1 1069.6,1405.8 1061.9,1413.5 1029.9,1394.0 1029.2,1405.1 1020.2,1412.1 1004.9,1393.3" fill="#bdbdbd" stroke="#000" stroke-width="0.95"/>
<polyline points="1016.0,1381.5 1029.9,1394.0" fill="none" stroke="#666" stroke-width="0.95"/>
<polyline points="1004.9,1393.3 1020.2,1402.3 1029.2,1395.4" fill="none" stroke="#666" stroke-width="0.95"/>
<polyline points="1020.2,1402.3 1020.2,1412.1" fill="none" stroke="#666" stroke-width="0.95"/>
<polygon points="1059.8,1409.3 1066.1,1404.4 1071.7,1407.9 1064.7,1414.2" fill="#6f6f6f" stroke="#000" stroke-width="0.95"/>
<polygon points="983.3,1382.2 1027.1,1347.4 1089.0,1396.1 1085.6,1398.9 1027.1,1352.3 988.2,1385.4" fill="#fff" stroke="#000" stroke-width="0.95"/>
<polygon points="1049.4,1428.1 1088.3,1395.4 1090.4,1397.5 1052.2,1431.6" fill="#6f6f6f" stroke="#000" stroke-width="0.95"/>
<polygon points="1066.1,1421.8 1080.0,1410.7 1079.3,1441.3 1067.5,1453.1 1065.4,1451.0" fill="#6f6f6f" stroke="#000" stroke-width="0.95"/>
<polygon points="1080.7,1409.3 1089.0,1398.2 1160.0,1446.2 1160.0,1503.9 1151.0,1497.0 1080.0,1442.7" fill="#bdbdbd" stroke="#000" stroke-width="0.95"/>
<polyline points="1091.8,1418.7 1091.8,1451.7" fill="none" stroke="#777" stroke-width="0.95"/>
<polyline points="1103.7,1426.1 1103.7,1460.8" fill="none" stroke="#777" stroke-width="0.95"/>
<polyline points="1115.5,1433.4 1115.5,1469.8" fill="none" stroke="#777" stroke-width="0.95"/>
<polyline points="1127.3,1440.7 1127.3,1478.9" fill="none" stroke="#777" stroke-width="0.95"/>
<polyline points="1139.1,1448.1 1139.1,1487.9" fill="none" stroke="#777" stroke-width="0.95"/>
<polyline points="1151.0,1455.4 1151.0,1497.0" fill="none" stroke="#777" stroke-width="0.95"/>
<polyline points="1080.7,1409.3 1160.0,1458.7" fill="none" stroke="#888" stroke-width="0.95"/>
<ellipse cx="1114.8" cy="1415.6" rx="1.9" ry="1.5" fill="#fff" stroke="#888" stroke-width="0.95"/>
<polygon points="948.5,1357.8 953.4,1354.3 1059.1,1439.9 1053.6,1442.7" fill="#6f6f6f" stroke="#000" stroke-width="0.95"/>
<polygon points="932.5,1349.5 935.3,1346.0 951.3,1356.4 947.8,1359.9" fill="#6f6f6f" stroke="#000" stroke-width="0.95"/>
<polygon points="938.8,1367.3 948.5,1359.5 978.4,1382.9 968.0,1389.8" fill="#bdbdbd" stroke="#000" stroke-width="0.95"/>
<polyline points="952.7,1378.0 963.1,1370.3" fill="none" stroke="#666" stroke-width="0.95"/>
<polygon points="976.3,1396.1 985.4,1388.4 1020.2,1415.6 1011.1,1422.5" fill="#bdbdbd" stroke="#000" stroke-width="0.95"/>
<polygon points="1019.5,1428.8 1028.5,1421.8 1054.3,1441.3 1045.9,1449.7" fill="#bdbdbd" stroke="#000" stroke-width="0.95"/>
<polygon points="938.8,1367.3 968.0,1389.8 968.0,1427.4 938.8,1403.7" fill="#bdbdbd" stroke="#000" stroke-width="0.95"/>
<polyline points="952.7,1378.0 952.7,1414.9" fill="none" stroke="#666" stroke-width="0.95"/>
<polyline points="938.8,1385.0 968.0,1407.9" fill="none" stroke="#666" stroke-width="0.95"/>
<polygon points="940.2,1386.3 949.2,1393.3 949.5,1398.2 940.5,1391.2" fill="none" stroke="#555" stroke-width="1.40"/>
<polygon points="953.4,1396.1 964.5,1404.4 964.8,1409.3 953.7,1401.0" fill="none" stroke="#555" stroke-width="1.40"/>
<polygon points="976.3,1396.1 1011.1,1422.5 1011.1,1461.5 976.3,1433.7" fill="#bdbdbd" stroke="#000" stroke-width="0.95"/>
<polyline points="976.3,1410.7 1011.1,1437.1" fill="none" stroke="#666" stroke-width="0.95"/>
<polyline points="981.2,1399.6 1009.0,1421.1 1009.0,1430.2" fill="none" stroke="#777" stroke-width="0.95"/>
<polyline points="984.0,1421.7 984.0,1439.8" fill="none" stroke="#777" stroke-width="0.95"/>
<polyline points="989.6,1410.3 989.6,1418.7" fill="none" stroke="#777" stroke-width="0.95"/>
<polyline points="992.3,1428.4 992.3,1446.5" fill="none" stroke="#777" stroke-width="0.95"/>
<polyline points="997.9,1416.7 997.9,1425.0" fill="none" stroke="#777" stroke-width="0.95"/>
<polyline points="1000.7,1435.0 1000.7,1453.1" fill="none" stroke="#777" stroke-width="0.95"/>
<polyline points="1006.3,1423.0 1006.3,1431.3" fill="none" stroke="#777" stroke-width="0.95"/>
<polygon points="1019.5,1428.8 1045.9,1449.7 1045.9,1484.4 1019.5,1466.3" fill="#bdbdbd" stroke="#000" stroke-width="0.95"/>
<polyline points="1032.0,1439.2 1032.0,1474.7" fill="none" stroke="#666" stroke-width="0.95"/>
<polygon points="968.0,1389.8 978.4,1382.9 985.4,1388.4 976.3,1396.1 976.3,1433.7 968.0,1427.4" fill="#6f6f6f" stroke="#000" stroke-width="0.95"/>
<polyline points="968.0,1389.8 976.3,1396.1 985.4,1388.4" fill="none" stroke="#444" stroke-width="0.95"/>
<polyline points="976.3,1396.1 976.3,1433.7" fill="none" stroke="#444" stroke-width="0.95"/>
<polygon points="1011.1,1422.5 1020.2,1415.6 1028.5,1421.8 1019.5,1428.8 1019.5,1466.3 1011.1,1461.5" fill="#6f6f6f" stroke="#000" stroke-width="0.95"/>
<polyline points="1011.1,1422.5 1019.5,1428.8 1028.5,1421.8" fill="none" stroke="#444" stroke-width="0.95"/>
<polyline points="1019.5,1428.8 1019.5,1466.3" fill="none" stroke="#444" stroke-width="0.95"/>
<path d="M929.0,1357.8 C929.0,1345.3 938.1,1337.0 949.2,1337.0 C954.8,1337.0 959.7,1339.0 961.7,1342.5 L948.5,1359.5 L938.8,1367.3 L938.8,1403.7 L933.2,1401.0 L929.5,1395.4 Z" fill="#6f6f6f" stroke="#000" stroke-width="0.95"/>
<path d="M933.9,1357.1 C934.2,1355.9 934.4,1351.7 935.6,1349.5 C936.7,1347.3 938.7,1345.2 940.9,1343.9 C943.0,1342.6 946.1,1342.0 948.5,1341.8 C951.0,1341.6 954.3,1342.6 955.5,1342.8" fill="none" stroke="#444" stroke-width="0.95" stroke-linejoin="round"/>
<polyline points="933.9,1357.1 938.8,1367.3" fill="none" stroke="#444" stroke-width="0.95"/>
<path d="M1045.9,1449.7 L1054.3,1441.3 C1059.1,1439.9 1062.6,1442.0 1062.6,1446.9 L1062.6,1481.7 C1060.5,1490.0 1048.0,1491.4 1045.9,1484.4 Z" fill="#6f6f6f" stroke="#000" stroke-width="0.95"/>
<path d="M1045.9,1449.7 C1046.5,1450.2 1047.5,1452.8 1049.4,1453.1 C1051.2,1453.5 1054.9,1452.9 1057.0,1451.7 C1059.2,1450.6 1061.3,1447.1 1062.2,1446.2" fill="none" stroke="#444" stroke-width="0.95" stroke-linejoin="round"/>
<polygon points="1152.5,1460.5 1163.4,1447.0 1169.2,1450.1 1169.2,1465.7 1176.5,1474.1 1176.5,1490.8 1169.2,1485.6 1160.9,1478.3 1155.7,1498.1 1152.5,1497.0" fill="#6f6f6f" stroke="#000" stroke-width="0.95"/>
<polygon points="1156.3,1467.8 1168.2,1477.2 1168.2,1485.6 1160.9,1479.3 1157.7,1497.0 1156.3,1497.0" fill="#bdbdbd" stroke="#000" stroke-width="0.95"/>
<polygon points="498.3,1416.0 497.2,1417.4 495.8,1419.1 494.1,1421.1 492.2,1423.4 490.2,1425.9 488.1,1428.6 486.0,1431.4 483.9,1434.2 481.8,1437.1 480.0,1440.0 478.2,1442.9 476.5,1446.0 474.7,1449.2 473.0,1452.5 471.2,1455.9 469.6,1459.3 467.9,1462.8 466.3,1466.3 464.8,1469.8 463.3,1473.3 461.9,1476.9 460.5,1480.5 459.2,1484.1 457.9,1487.8 456.7,1491.5 455.5,1495.2 454.4,1498.9 453.4,1502.6 452.5,1506.3 451.7,1510.0 451.0,1513.7 450.3,1517.3 449.7,1520.9 449.3,1524.5 448.9,1528.1 448.5,1531.8 448.3,1535.4 448.2,1539.1 448.2,1542.9 448.3,1546.7 448.6,1550.6 448.9,1554.6 449.3,1558.6 449.9,1562.7 450.5,1566.9 451.3,1571.0 452.1,1575.1 453.0,1579.0 454.0,1582.9 455.0,1586.7 456.1,1590.3 457.3,1593.8 458.6,1597.3 460.0,1600.6 461.5,1604.0 463.0,1607.2 464.6,1610.5 466.3,1613.7 468.1,1616.8 470.0,1620.0 472.0,1623.2 474.0,1626.3 476.2,1629.4 478.4,1632.5 480.7,1635.5 483.1,1638.5 485.6,1641.5 488.1,1644.4 490.7,1647.2 493.3,1650.0 496.0,1652.7 498.7,1655.5 501.5,1658.1 504.4,1660.8 507.3,1663.3 510.3,1665.8 513.4,1668.3 516.6,1670.6 519.9,1672.9 523.3,1675.0 526.9,1677.0 530.7,1679.0 534.6,1680.9 538.6,1682.7 542.7,1684.4 546.9,1686.0 551.0,1687.5 555.2,1689.0 559.3,1690.4 563.3,1691.7 567.4,1692.9 571.6,1693.9 575.8,1694.9 580.1,1695.8 584.3,1696.7 588.4,1697.4 592.4,1698.1 596.3,1698.8 599.9,1699.4 603.3,1700.0 606.6,1700.6 609.7,1701.0 612.7,1701.5 615.6,1701.9 618.3,1702.2 620.9,1702.5 623.1,1702.7 625.2,1703.0 626.9,1703.2 628.3,1703.3 627.3,1714.0 626.0,1713.7 624.3,1713.4 622.4,1713.1 620.2,1712.7 617.8,1712.2 615.2,1711.7 612.5,1711.2 609.5,1710.6 606.5,1710.0 603.3,1709.3 600.0,1708.7 596.3,1708.0 592.5,1707.3 588.4,1706.5 584.2,1705.8 580.0,1704.9 575.7,1704.0 571.5,1703.0 567.3,1701.9 563.3,1700.7 559.4,1699.4 555.4,1698.0 551.4,1696.5 547.5,1695.0 543.5,1693.3 539.7,1691.6 535.8,1689.8 532.1,1688.0 528.5,1686.0 525.0,1684.0 521.6,1681.9 518.4,1679.7 515.2,1677.3 512.1,1674.9 509.1,1672.5 506.1,1669.9 503.2,1667.3 500.4,1664.7 497.7,1662.0 495.0,1659.3 492.4,1656.6 489.8,1653.8 487.2,1651.0 484.8,1648.1 482.4,1645.2 480.1,1642.2 477.8,1639.2 475.7,1636.2 473.6,1633.1 471.7,1630.0 469.8,1626.9 468.0,1623.7 466.3,1620.6 464.6,1617.4 463.1,1614.2 461.6,1610.9 460.2,1607.5 459.0,1604.0 457.8,1600.4 456.7,1596.7 455.7,1592.7 454.7,1588.5 453.9,1584.2 453.2,1579.7 452.5,1575.2 452.0,1570.7 451.5,1566.2 451.1,1561.7 450.8,1557.4 450.7,1553.3 450.6,1549.4 450.6,1545.5 450.8,1541.7 451.0,1538.0 451.4,1534.4 451.8,1530.8 452.3,1527.2 452.8,1523.7 453.4,1520.2 454.0,1516.7 454.7,1513.2 455.4,1509.7 456.2,1506.3 457.0,1502.9 457.9,1499.6 458.9,1496.3 459.9,1493.0 461.0,1489.7 462.1,1486.5 463.3,1483.3 464.6,1480.2 465.9,1477.0 467.4,1473.9 468.8,1470.8 470.4,1467.7 471.9,1464.7 473.5,1461.7 475.1,1458.9 476.7,1456.0 478.3,1453.3 480.0,1450.6 481.8,1447.9 483.7,1445.1 485.7,1442.4 487.6,1439.8 489.5,1437.3 491.2,1435.1 492.7,1433.1 494.0,1431.4 495.0,1430.0" fill="#eeeeee"/>
<polyline points="498.3,1416.0 497.2,1417.4 495.8,1419.1 494.1,1421.1 492.2,1423.4 490.2,1425.9 488.1,1428.6 486.0,1431.4 483.9,1434.2 481.8,1437.1 480.0,1440.0 478.2,1442.9 476.5,1446.0 474.7,1449.2 473.0,1452.5 471.2,1455.9 469.6,1459.3 467.9,1462.8 466.3,1466.3 464.8,1469.8 463.3,1473.3 461.9,1476.9 460.5,1480.5 459.2,1484.1 457.9,1487.8 456.7,1491.5 455.5,1495.2 454.4,1498.9 453.4,1502.6 452.5,1506.3 451.7,1510.0 451.0,1513.7 450.3,1517.3 449.7,1520.9 449.3,1524.5 448.9,1528.1 448.5,1531.8 448.3,1535.4 448.2,1539.1 448.2,1542.9 448.3,1546.7 448.6,1550.6 448.9,1554.6 449.3,1558.6 449.9,1562.7 450.5,1566.9 451.3,1571.0 452.1,1575.1 453.0,1579.0 454.0,1582.9 455.0,1586.7 456.1,1590.3 457.3,1593.8 458.6,1597.3 460.0,1600.6 461.5,1604.0 463.0,1607.2 464.6,1610.5 466.3,1613.7 468.1,1616.8 470.0,1620.0 472.0,1623.2 474.0,1626.3 476.2,1629.4 478.4,1632.5 480.7,1635.5 483.1,1638.5 485.6,1641.5 488.1,1644.4 490.7,1647.2 493.3,1650.0 496.0,1652.7 498.7,1655.5 501.5,1658.1 504.4,1660.8 507.3,1663.3 510.3,1665.8 513.4,1668.3 516.6,1670.6 519.9,1672.9 523.3,1675.0 526.9,1677.0 530.7,1679.0 534.6,1680.9 538.6,1682.7 542.7,1684.4 546.9,1686.0 551.0,1687.5 555.2,1689.0 559.3,1690.4 563.3,1691.7 567.4,1692.9 571.6,1693.9 575.8,1694.9 580.1,1695.8 584.3,1696.7 588.4,1697.4 592.4,1698.1 596.3,1698.8 599.9,1699.4 603.3,1700.0 606.6,1700.6 609.7,1701.0 612.7,1701.5 615.6,1701.9 618.3,1702.2 620.9,1702.5 623.1,1702.7 625.2,1703.0 626.9,1703.2 628.3,1703.3" fill="none" stroke="#000" stroke-width="1.30"/>
<polyline points="495.0,1430.0 494.0,1431.4 492.7,1433.1 491.2,1435.1 489.5,1437.3 487.6,1439.8 485.7,1442.4 483.7,1445.1 481.8,1447.9 480.0,1450.6 478.3,1453.3 476.7,1456.0 475.1,1458.9 473.5,1461.7 471.9,1464.7 470.4,1467.7 468.8,1470.8 467.4,1473.9 465.9,1477.0 464.6,1480.2 463.3,1483.3 462.1,1486.5 461.0,1489.7 459.9,1493.0 458.9,1496.3 457.9,1499.6 457.0,1502.9 456.2,1506.3 455.4,1509.7 454.7,1513.2 454.0,1516.7 453.4,1520.2 452.8,1523.7 452.3,1527.2 451.8,1530.8 451.4,1534.4 451.0,1538.0 450.8,1541.7 450.6,1545.5 450.6,1549.4 450.7,1553.3 450.8,1557.4 451.1,1561.7 451.5,1566.2 452.0,1570.7 452.5,1575.2 453.2,1579.7 453.9,1584.2 454.7,1588.5 455.7,1592.7 456.7,1596.7 457.8,1600.4 459.0,1604.0 460.2,1607.5 461.6,1610.9 463.1,1614.2 464.6,1617.4 466.3,1620.6 468.0,1623.7 469.8,1626.9 471.7,1630.0 473.6,1633.1 475.7,1636.2 477.8,1639.2 480.1,1642.2 482.4,1645.2 484.8,1648.1 487.2,1651.0 489.8,1653.8 492.4,1656.6 495.0,1659.3 497.7,1662.0 500.4,1664.7 503.2,1667.3 506.1,1669.9 509.1,1672.5 512.1,1674.9 515.2,1677.3 518.4,1679.7 521.6,1681.9 525.0,1684.0 528.5,1686.0 532.1,1688.0 535.8,1689.8 539.7,1691.6 543.5,1693.3 547.5,1695.0 551.4,1696.5 555.4,1698.0 559.4,1699.4 563.3,1700.7 567.3,1701.9 571.5,1703.0 575.7,1704.0 580.0,1704.9 584.2,1705.8 588.4,1706.5 592.5,1707.3 596.3,1708.0 600.0,1708.7 603.3,1709.3 606.5,1710.0 609.5,1710.6 612.5,1711.2 615.2,1711.7 617.8,1712.2 620.2,1712.7 622.4,1713.1 624.3,1713.4 626.0,1713.7 627.3,1714.0" fill="none" stroke="#000" stroke-width="1.60"/>
<polyline points="497.7,1418.8 496.6,1420.2 495.2,1421.9 493.5,1423.9 491.7,1426.2 489.7,1428.7 487.6,1431.3 485.5,1434.1 483.4,1436.9 481.5,1439.8 479.7,1442.7 477.9,1445.6 476.2,1448.6 474.5,1451.7 472.8,1454.9 471.1,1458.2 469.4,1461.6 467.8,1465.0 466.2,1468.4 464.8,1471.9 463.3,1475.3 462.0,1478.8 460.6,1482.3 459.3,1485.9 458.1,1489.5 456.9,1493.1 455.8,1496.7 454.8,1500.4 453.8,1504.0 452.9,1507.7 452.1,1511.3 451.4,1515.0 450.8,1518.6 450.2,1522.2 449.8,1525.8 449.4,1529.4 449.0,1533.0 448.8,1536.7 448.7,1540.4 448.7,1544.2 448.8,1548.0 449.0,1551.9 449.3,1556.0 449.8,1560.1 450.3,1564.3 450.9,1568.5 451.6,1572.7 452.4,1576.9 453.3,1580.9 454.3,1584.9 455.3,1588.7 456.5,1592.3 457.7,1595.9 458.9,1599.3 460.3,1602.7 461.8,1606.0 463.3,1609.3 465.0,1612.5 466.7,1615.7 468.5,1618.8 470.3,1622.0 472.3,1625.1 474.4,1628.3 476.5,1631.4 478.7,1634.4 481.1,1637.5 483.5,1640.4 485.9,1643.4 488.4,1646.3 491.0,1649.1 493.7,1651.9 496.4,1654.6 499.1,1657.3 501.9,1660.0 504.7,1662.6 507.6,1665.2 510.7,1667.7 513.7,1670.1 516.9,1672.4 520.2,1674.7 523.7,1676.8 527.2,1678.8 531.0,1680.8 534.8,1682.7 538.8,1684.5 542.9,1686.2 547.0,1687.8 551.1,1689.3 555.2,1690.8 559.3,1692.2 563.3,1693.5 567.4,1694.7 571.6,1695.8 575.8,1696.7 580.0,1697.7 584.3,1698.5 588.4,1699.2 592.4,1700.0 596.3,1700.6 599.9,1701.3 603.3,1701.9 606.5,1702.4 609.7,1703.0 612.7,1703.4 615.5,1703.8 618.2,1704.2 620.7,1704.5 623.0,1704.8 625.0,1705.1 626.7,1705.3 628.1,1705.5" fill="none" stroke="#b5b5b5" stroke-width="0.40"/>
<polyline points="497.0,1421.6 495.9,1423.0 494.6,1424.7 492.9,1426.7 491.1,1429.0 489.2,1431.5 487.1,1434.1 485.1,1436.9 483.0,1439.7 481.1,1442.5 479.3,1445.3 477.6,1448.2 475.9,1451.2 474.2,1454.2 472.6,1457.4 470.9,1460.6 469.3,1463.9 467.7,1467.2 466.2,1470.6 464.7,1474.0 463.3,1477.3 462.0,1480.7 460.7,1484.2 459.5,1487.6 458.3,1491.2 457.2,1494.7 456.1,1498.3 455.1,1501.9 454.2,1505.5 453.3,1509.1 452.6,1512.7 451.9,1516.3 451.3,1519.8 450.7,1523.4 450.3,1527.0 449.9,1530.6 449.5,1534.3 449.3,1537.9 449.2,1541.7 449.2,1545.5 449.3,1549.3 449.5,1553.3 449.8,1557.4 450.2,1561.6 450.7,1565.9 451.3,1570.2 452.0,1574.5 452.8,1578.7 453.7,1582.8 454.6,1586.8 455.7,1590.7 456.8,1594.3 458.0,1597.9 459.3,1601.4 460.6,1604.7 462.1,1608.1 463.7,1611.3 465.3,1614.5 467.0,1617.7 468.8,1620.8 470.7,1624.0 472.6,1627.1 474.7,1630.3 476.8,1633.3 479.1,1636.4 481.4,1639.4 483.8,1642.4 486.2,1645.3 488.8,1648.2 491.4,1651.0 494.0,1653.7 496.7,1656.5 499.4,1659.1 502.2,1661.8 505.1,1664.4 508.0,1667.0 511.0,1669.5 514.1,1671.9 517.3,1674.2 520.6,1676.5 524.0,1678.6 527.6,1680.6 531.3,1682.6 535.1,1684.5 539.0,1686.3 543.0,1688.0 547.1,1689.6 551.2,1691.1 555.3,1692.6 559.3,1694.0 563.3,1695.3 567.4,1696.5 571.5,1697.6 575.8,1698.6 580.0,1699.5 584.3,1700.3 588.4,1701.1 592.4,1701.8 596.3,1702.5 600.0,1703.1 603.3,1703.7 606.5,1704.3 609.6,1704.9 612.6,1705.4 615.5,1705.8 618.1,1706.2 620.6,1706.6 622.8,1706.9 624.8,1707.1 626.5,1707.4 627.9,1707.6" fill="none" stroke="#b5b5b5" stroke-width="0.40"/>
<polyline points="496.3,1424.4 495.3,1425.8 493.9,1427.5 492.4,1429.5 490.6,1431.8 488.6,1434.2 486.6,1436.9 484.6,1439.6 482.6,1442.4 480.7,1445.2 479.0,1448.0 477.3,1450.8 475.7,1453.7 474.0,1456.7 472.4,1459.8 470.7,1463.0 469.1,1466.2 467.6,1469.4 466.1,1472.7 464.7,1476.0 463.3,1479.3 462.1,1482.7 460.8,1486.0 459.6,1489.4 458.5,1492.9 457.4,1496.3 456.4,1499.8 455.5,1503.3 454.6,1506.9 453.8,1510.4 453.1,1514.0 452.4,1517.6 451.8,1521.1 451.3,1524.7 450.8,1528.3 450.4,1531.9 450.0,1535.5 449.8,1539.2 449.7,1543.0 449.6,1546.8 449.7,1550.7 449.9,1554.7 450.2,1558.9 450.6,1563.1 451.1,1567.5 451.7,1571.9 452.4,1576.2 453.2,1580.5 454.0,1584.7 455.0,1588.8 456.0,1592.7 457.1,1596.4 458.3,1599.9 459.6,1603.4 461.0,1606.8 462.4,1610.1 464.0,1613.4 465.6,1616.5 467.3,1619.7 469.1,1622.9 471.0,1626.0 473.0,1629.1 475.0,1632.2 477.2,1635.3 479.4,1638.3 481.7,1641.3 484.1,1644.3 486.6,1647.2 489.1,1650.0 491.7,1652.9 494.3,1655.6 497.0,1658.3 499.8,1661.0 502.6,1663.6 505.4,1666.3 508.4,1668.8 511.4,1671.3 514.5,1673.7 517.7,1676.0 520.9,1678.3 524.3,1680.4 527.9,1682.4 531.5,1684.4 535.3,1686.3 539.2,1688.0 543.2,1689.8 547.2,1691.4 551.3,1692.9 555.3,1694.4 559.4,1695.8 563.3,1697.1 567.4,1698.3 571.5,1699.4 575.8,1700.4 580.0,1701.3 584.2,1702.1 588.4,1702.9 592.4,1703.6 596.3,1704.3 600.0,1705.0 603.3,1705.6 606.5,1706.2 609.6,1706.8 612.6,1707.3 615.4,1707.8 618.0,1708.2 620.5,1708.6 622.7,1708.9 624.7,1709.2 626.4,1709.5 627.7,1709.7" fill="none" stroke="#b5b5b5" stroke-width="0.40"/>
<polyline points="495.7,1427.2 494.6,1428.6 493.3,1430.3 491.8,1432.3 490.0,1434.6 488.1,1437.0 486.2,1439.6 484.2,1442.4 482.2,1445.1 480.4,1447.9 478.7,1450.7 477.0,1453.4 475.4,1456.3 473.8,1459.2 472.1,1462.3 470.6,1465.3 469.0,1468.5 467.5,1471.7 466.0,1474.9 464.6,1478.1 463.3,1481.3 462.1,1484.6 460.9,1487.9 459.8,1491.2 458.7,1494.6 457.7,1498.0 456.7,1501.4 455.8,1504.8 455.0,1508.3 454.2,1511.8 453.5,1515.3 452.9,1518.9 452.3,1522.4 451.8,1525.9 451.3,1529.5 450.9,1533.1 450.5,1536.8 450.3,1540.5 450.2,1544.2 450.1,1548.1 450.2,1552.0 450.4,1556.1 450.7,1560.3 451.1,1564.7 451.5,1569.1 452.1,1573.5 452.8,1578.0 453.5,1582.4 454.4,1586.6 455.3,1590.8 456.3,1594.7 457.4,1598.4 458.6,1602.0 459.9,1605.5 461.3,1608.9 462.8,1612.2 464.3,1615.4 465.9,1618.6 467.7,1621.7 469.5,1624.9 471.3,1628.0 473.3,1631.1 475.4,1634.2 477.5,1637.3 479.7,1640.3 482.1,1643.3 484.5,1646.2 486.9,1649.1 489.4,1651.9 492.0,1654.7 494.7,1657.5 497.4,1660.2 500.1,1662.8 502.9,1665.5 505.8,1668.1 508.7,1670.6 511.7,1673.1 514.8,1675.5 518.0,1677.8 521.3,1680.1 524.7,1682.2 528.2,1684.2 531.8,1686.2 535.6,1688.0 539.4,1689.8 543.4,1691.5 547.4,1693.2 551.4,1694.7 555.4,1696.2 559.4,1697.6 563.3,1698.9 567.4,1700.1 571.5,1701.2 575.7,1702.2 580.0,1703.1 584.2,1703.9 588.4,1704.7 592.5,1705.4 596.3,1706.1 600.0,1706.8 603.3,1707.5 606.5,1708.1 609.6,1708.7 612.5,1709.2 615.3,1709.7 617.9,1710.2 620.4,1710.6 622.5,1711.0 624.5,1711.3 626.2,1711.6 627.5,1711.9" fill="none" stroke="#b5b5b5" stroke-width="0.40"/>
<polyline points="471.2,1455.9 470.4,1467.7" fill="none" stroke="#555" stroke-width="0.95"/>
<polyline points="448.9,1528.1 451.4,1534.4" fill="none" stroke="#555" stroke-width="0.95"/>
<polyline points="461.5,1604.0 463.1,1614.2" fill="none" stroke="#555" stroke-width="0.95"/>
<polyline points="507.3,1663.3 509.1,1672.5" fill="none" stroke="#555" stroke-width="0.95"/>
<polyline points="555.2,1689.0 555.4,1698.0" fill="none" stroke="#555" stroke-width="0.95"/>
<polyline points="603.3,1700.0 603.3,1709.3" fill="none" stroke="#555" stroke-width="0.95"/>
<path d="M501.7,1430.0 C499.2,1433.9 491.9,1443.9 486.7,1453.3 C481.4,1462.8 474.3,1475.6 470.0,1486.7 C465.7,1497.8 462.6,1508.9 460.7,1520.0 C458.7,1531.1 457.9,1542.2 458.3,1553.3 C458.8,1564.4 460.3,1576.1 463.3,1586.7 C466.4,1597.2 470.8,1607.2 476.7,1616.7 C482.5,1626.1 490.0,1635.0 498.3,1643.3 C506.7,1651.7 515.8,1660.0 526.7,1666.7 C537.5,1673.3 550.6,1679.2 563.3,1683.3 C576.1,1687.5 592.2,1689.9 603.3,1691.7 C614.4,1693.4 625.6,1693.6 630.0,1694.0" fill="none" stroke="#777" stroke-width="0.95" stroke-linejoin="round"/>
<polyline points="653.3,1350.0 513.3,1445.0" fill="none" stroke="#444" stroke-width="0.95"/>
<polyline points="546.7,1343.3 548.3,1356.7 563.3,1361.7 546.7,1343.3" fill="none" stroke="#333" stroke-width="0.95"/>
<polyline points="540.0,1373.3 563.3,1355.0" fill="none" stroke="#555" stroke-width="0.95"/>
<polyline points="536.7,1380.0 558.3,1363.3" fill="none" stroke="#555" stroke-width="0.95"/>
<polygon points="546.7,1343.3 563.3,1360.7 549.3,1357.3" fill="#aaa" stroke="#333" stroke-width="0.95"/>
<polygon points="525.0,1440.0 560.0,1423.3 561.7,1446.7 526.7,1473.3" fill="#bdbdbd" stroke="#000" stroke-width="0.95"/>
<polyline points="525.0,1440.0 526.7,1453.3 560.7,1431.7" fill="none" stroke="#777" stroke-width="0.95"/>
<polygon points="536.7,1436.7 546.7,1432.7 550.7,1440.0 540.7,1445.0" fill="#6f6f6f" stroke="#000" stroke-width="0.95"/>
<polygon points="541.7,1391.7 576.7,1365.0 593.3,1375.0 595.0,1413.3 608.3,1426.7 573.3,1456.7 568.3,1453.3 568.3,1426.7 543.3,1416.7" fill="#bdbdbd" stroke="#000" stroke-width="0.95"/>
<polyline points="541.7,1391.7 558.3,1401.7 593.3,1375.0" fill="none" stroke="#666" stroke-width="0.95"/>
<polyline points="558.3,1401.7 560.0,1426.7" fill="none" stroke="#666" stroke-width="0.95"/>
<polyline points="583.3,1420.0 595.0,1413.3" fill="none" stroke="#666" stroke-width="0.95"/>
<polyline points="560.0,1426.7 583.3,1420.0 584.0,1440.0" fill="none" stroke="#666" stroke-width="0.95"/>
<path d="M559.3,1432.7 v48.3 a3.3,2.0 0 0 0 6.7,0 v-48.3 z" fill="#fff" stroke="#000" stroke-width="0.95"/>
<ellipse cx="562.7" cy="1432.7" rx="3.3" ry="2.0" fill="#fff" stroke="#000" stroke-width="0.95"/>
<path d="M501.3,1480.7 v48.3 a3.7,2.0 0 0 0 7.3,0 v-48.3 z" fill="#fff" stroke="#000" stroke-width="0.95"/>
<ellipse cx="505.0" cy="1480.7" rx="3.7" ry="2.0" fill="#fff" stroke="#000" stroke-width="0.95"/>
<path d="M703.7,1549.3 v46.7 a3.7,2.0 0 0 0 7.3,0 v-46.7 z" fill="#fff" stroke="#000" stroke-width="0.95"/>
<ellipse cx="707.3" cy="1549.3" rx="3.7" ry="2.0" fill="#fff" stroke="#000" stroke-width="0.95"/>
<path d="M646.3,1598.3 v15.0 a3.7,2.0 0 0 0 7.3,0 v-15.0 z" fill="#fff" stroke="#000" stroke-width="0.95"/>
<ellipse cx="650.0" cy="1598.3" rx="3.7" ry="2.0" fill="#fff" stroke="#000" stroke-width="0.95"/>
<path d="M839.0,1431.7 v38.3 a3.3,2.0 0 0 0 6.7,0 v-38.3 z" fill="#fff" stroke="#000" stroke-width="0.95"/>
<ellipse cx="842.3" cy="1431.7" rx="3.3" ry="2.0" fill="#fff" stroke="#000" stroke-width="0.95"/>
<polyline points="500.7,1421.7 519.3,1430.0 517.3,1473.3 510.0,1486.7 511.7,1530.0 530.0,1583.3 587.3,1610.7 649.3,1612.3 713.3,1665.0 766.7,1705.0" fill="none" stroke="#333" stroke-width="0.95"/>
<polyline points="502.7,1426.7 516.0,1433.3 514.0,1471.7 507.3,1485.0 509.3,1530.0" fill="none" stroke="#333" stroke-width="0.95"/>
<polyline points="500.7,1580.7 505.0,1575.0 539.3,1621.7 594.0,1648.3 655.3,1650.7 731.7,1710.0" fill="none" stroke="#333" stroke-width="0.95"/>
<polyline points="530.0,1588.3 588.0,1616.0 650.0,1617.7 713.3,1670.7" fill="none" stroke="#333" stroke-width="0.95"/>
<polyline points="519.3,1430.0 516.0,1463.3" fill="none" stroke="#333" stroke-width="0.95"/>
<polyline points="522.0,1431.0 518.7,1464.3" fill="none" stroke="#777" stroke-width="0.95"/>
<polyline points="517.3,1473.3 505.0,1575.0" fill="none" stroke="#333" stroke-width="0.95"/>
<polyline points="520.0,1474.3 507.7,1576.0" fill="none" stroke="#777" stroke-width="0.95"/>
<polyline points="530.0,1583.3 539.3,1621.7" fill="none" stroke="#333" stroke-width="0.95"/>
<polyline points="532.7,1584.3 542.0,1622.7" fill="none" stroke="#777" stroke-width="0.95"/>
<polyline points="587.3,1610.7 594.0,1648.3" fill="none" stroke="#333" stroke-width="0.95"/>
<polyline points="590.0,1611.7 596.7,1649.3" fill="none" stroke="#777" stroke-width="0.95"/>
<polyline points="649.3,1612.3 655.3,1650.7" fill="none" stroke="#333" stroke-width="0.95"/>
<polyline points="652.0,1613.3 658.0,1651.7" fill="none" stroke="#777" stroke-width="0.95"/>
<polyline points="713.3,1665.0 716.7,1703.3" fill="none" stroke="#333" stroke-width="0.95"/>
<polyline points="716.0,1666.0 719.3,1704.3" fill="none" stroke="#777" stroke-width="0.95"/>
<polyline points="498.3,1543.3 500.7,1580.7" fill="none" stroke="#333" stroke-width="0.95"/>
<polyline points="501.0,1544.3 503.3,1581.7" fill="none" stroke="#777" stroke-width="0.95"/>
<polyline points="498.3,1538.3 530.0,1581.7" fill="none" stroke="#333" stroke-width="0.95"/>
<polygon points="654.0,1330.0 658.3,1332.8 664.1,1336.7 671.0,1341.2 678.7,1346.2 686.7,1351.5 694.9,1356.8 702.7,1362.0 710.0,1366.7 717.1,1371.2 724.5,1375.9 732.0,1380.6 739.4,1385.3 746.5,1389.7 753.0,1393.8 758.7,1397.5 763.3,1400.7 766.8,1403.1 769.4,1404.9 771.1,1406.2 772.2,1407.2 773.0,1408.1 773.6,1409.1 774.2,1410.2 775.0,1411.7 775.9,1413.4 776.7,1415.3 777.4,1417.3 778.0,1419.3 778.5,1421.4 778.9,1423.6 779.1,1425.9 779.3,1428.3 779.6,1430.9 779.9,1433.6 780.2,1436.5 780.4,1439.4 780.3,1442.3 779.8,1445.2 778.9,1448.0 777.3,1450.7 774.9,1453.3 771.5,1456.0 767.5,1458.8 763.2,1461.4 758.9,1463.9 755.0,1466.1 751.7,1467.9 749.3,1469.3 749.3,1484.0 750.8,1482.9 752.9,1481.5 755.4,1479.9 758.1,1478.0 760.9,1476.1 763.4,1474.0 765.7,1472.0 767.3,1470.0 768.5,1468.0 769.3,1465.9 769.9,1463.8 770.2,1461.6 770.4,1459.5 770.5,1457.3 770.6,1455.3 770.7,1453.3 770.8,1451.5 770.8,1449.7 770.8,1448.0 770.7,1446.4 770.5,1444.7 770.2,1443.1 769.8,1441.6 769.3,1440.0 769.0,1438.6 768.9,1437.5 768.9,1436.5 768.6,1435.5 768.0,1434.3 766.8,1432.9 764.8,1430.9 761.7,1428.3 757.3,1425.1 751.9,1421.3 745.6,1417.1 738.7,1412.5 731.4,1407.7 724.1,1402.9 716.8,1398.0 710.0,1393.3 703.1,1388.5 695.6,1383.2 687.9,1377.7 680.3,1372.3 673.0,1367.1 666.5,1362.3 660.9,1358.2 656.7,1355.0 653.9,1352.7 652.4,1351.3 651.8,1350.5 652.0,1350.1 652.6,1350.0 653.3,1350.1 653.9,1350.2 654.0,1350.0" fill="#6f6f6f" stroke="#000" stroke-width="0.95"/>
<path d="M656.0,1334.0 C665.0,1340.1 692.4,1359.0 710.0,1370.7 C727.6,1382.3 751.4,1396.6 761.7,1404.0 C771.9,1411.4 769.4,1410.7 771.7,1415.0 C773.9,1419.3 774.7,1424.4 775.0,1430.0 C775.3,1435.6 777.6,1441.1 773.3,1448.3 C769.1,1455.6 753.3,1469.2 749.3,1473.3" fill="none" stroke="#444" stroke-width="0.95" stroke-linejoin="round"/>
<polygon points="718.3,1516.7 743.3,1486.7 806.7,1526.7 778.3,1560.0" fill="#bdbdbd" stroke="#000" stroke-width="0.95"/>
<polyline points="726.6,1506.8 787.7,1549.0" fill="none" stroke="#777" stroke-width="0.95"/>
<polyline points="734.8,1496.9 797.0,1538.0" fill="none" stroke="#777" stroke-width="0.95"/>
<polygon points="820.7,1520.0 819.3,1520.7 817.6,1521.6 815.6,1522.6 813.2,1523.8 810.8,1525.1 808.3,1526.6 805.7,1528.2 803.3,1530.0 800.9,1532.0 798.4,1534.1 795.7,1536.3 793.1,1538.8 790.5,1541.3 787.9,1544.1 785.5,1547.0 783.3,1550.0 781.3,1553.2 779.3,1556.7 777.4,1560.4 775.6,1564.2 773.9,1568.1 772.4,1572.0 771.1,1576.0 770.0,1580.0 769.1,1584.0 768.4,1588.1 767.8,1592.3 767.5,1596.5 767.2,1600.7 767.1,1605.0 767.2,1609.2 767.3,1613.3 767.6,1617.5 768.1,1621.8 768.7,1626.2 769.4,1630.5 770.2,1634.7 771.2,1638.7 772.2,1642.5 773.3,1646.0 774.5,1649.2 775.8,1652.1 777.2,1654.7 778.8,1657.2 780.4,1659.6 782.1,1661.9 784.0,1664.3 786.0,1666.7 788.2,1669.1 790.6,1671.6 793.2,1674.0 795.9,1676.4 798.6,1678.8 801.4,1681.0 804.1,1683.1 806.7,1685.0 809.2,1686.8 811.7,1688.4 814.1,1689.9 816.6,1691.3 819.0,1692.6 821.5,1693.8 823.9,1694.9 826.3,1696.0 828.8,1697.0 831.3,1697.8 833.8,1698.6 836.3,1699.3 838.7,1699.9 841.1,1700.5 843.4,1701.1 845.7,1701.7 847.8,1702.3 849.9,1702.9 852.0,1703.5 853.9,1704.1 855.8,1704.6 857.7,1705.1 859.4,1705.4 861.0,1705.7 862.5,1705.7 864.0,1705.7 865.5,1705.5 866.8,1705.2 868.0,1705.0 869.1,1704.7 870.0,1704.5 870.7,1704.3 868.0,1682.0 867.0,1682.0 865.7,1682.1 864.2,1682.2 862.4,1682.2 860.6,1682.3 858.8,1682.3 857.0,1682.4 855.3,1682.3 853.8,1682.3 852.4,1682.3 851.0,1682.3 849.6,1682.3 848.1,1682.3 846.6,1682.1 844.9,1681.8 843.0,1681.3 840.9,1680.7 838.6,1680.0 836.2,1679.2 833.7,1678.2 831.1,1677.2 828.5,1676.1 825.9,1674.9 823.3,1673.7 820.8,1672.4 818.1,1671.1 815.5,1669.7 812.8,1668.2 810.2,1666.7 807.6,1665.0 805.1,1663.3 802.7,1661.3 800.3,1659.3 798.0,1657.1 795.8,1654.9 793.6,1652.5 791.5,1650.0 789.5,1647.4 787.7,1644.6 786.0,1641.7 784.5,1638.6 783.0,1635.2 781.7,1631.7 780.5,1628.1 779.5,1624.5 778.6,1620.7 777.9,1617.0 777.3,1613.3 777.0,1609.6 776.8,1605.9 776.8,1602.0 776.9,1598.2 777.2,1594.4 777.6,1590.6 778.2,1586.9 779.0,1583.3 779.9,1579.8 781.1,1576.4 782.4,1572.9 783.9,1569.6 785.5,1566.3 787.2,1563.2 788.9,1560.2 790.7,1557.3 792.5,1554.6 794.5,1552.0 796.6,1549.5 798.8,1547.2 801.0,1545.0 803.1,1542.9 805.3,1541.0 807.3,1539.3 809.4,1537.8 811.6,1536.5 813.9,1535.4 816.0,1534.4 818.1,1533.5 819.9,1532.8 821.5,1532.2 822.7,1531.7" fill="#6f6f6f" stroke="#000" stroke-width="0.95"/>
<path d="M821.3,1525.0 C818.6,1526.5 810.8,1529.3 805.0,1534.0 C799.2,1538.7 791.8,1545.4 786.7,1553.3 C781.5,1561.3 776.5,1571.7 774.0,1581.7 C771.5,1591.7 770.8,1602.9 771.7,1613.3 C772.5,1623.7 775.4,1635.5 779.0,1644.0 C782.6,1652.5 787.6,1658.4 793.3,1664.3 C799.1,1670.2 806.7,1675.3 813.3,1679.3 C820.0,1683.4 827.2,1686.6 833.3,1688.7 C839.4,1690.8 844.2,1691.5 850.0,1692.0 C855.8,1692.5 865.3,1691.7 868.3,1691.7" fill="none" stroke="#444" stroke-width="0.95" stroke-linejoin="round"/>
<path d="M935.0,1434.7 C934.2,1432.2 933.1,1428.3 930.0,1426.3 C926.9,1424.4 922.2,1422.7 916.7,1423.0 C911.1,1423.3 903.3,1424.9 896.7,1428.0 C890.0,1431.1 882.2,1435.8 876.7,1441.3 C871.1,1446.9 866.2,1454.1 863.3,1461.3 C860.4,1468.6 859.1,1476.9 859.3,1484.7 C859.6,1492.4 861.6,1500.5 865.0,1508.0 C868.4,1515.5 873.6,1523.6 880.0,1529.7 C886.4,1535.8 895.0,1540.8 903.3,1544.7 C911.7,1548.6 920.6,1551.3 930.0,1553.0 C939.4,1554.7 950.6,1555.8 960.0,1554.7 C969.4,1553.6 978.9,1550.2 986.7,1546.3 C994.4,1542.4 1001.4,1537.2 1006.7,1531.3 C1011.9,1525.5 1016.1,1516.9 1018.3,1511.3 C1020.6,1505.8 1021.4,1501.8 1020.0,1498.0 C1018.6,1494.2 1013.9,1490.4 1010.0,1488.7 C1006.1,1486.9 1000.6,1486.3 996.7,1487.3 C992.8,1488.3 990.0,1491.2 986.7,1494.7 C983.3,1498.1 981.1,1503.8 976.7,1508.0 C972.2,1512.2 966.7,1516.9 960.0,1519.7 C953.3,1522.4 943.9,1524.7 936.7,1524.7 C929.4,1524.7 922.5,1522.4 916.7,1519.7 C910.8,1516.9 905.3,1512.7 901.7,1508.0 C898.1,1503.3 895.8,1496.9 895.0,1491.3 C894.2,1485.8 894.7,1479.7 896.7,1474.7 C898.6,1469.7 902.8,1464.9 906.7,1461.3 C910.6,1457.7 916.1,1454.9 920.0,1453.0 C923.9,1451.1 927.5,1451.6 930.0,1449.7 C932.5,1447.7 934.2,1443.8 935.0,1441.3 C935.8,1438.8 935.8,1437.2 935.0,1434.7Z" fill="#c9c9c9" stroke="#999" stroke-width="0.95" stroke-linejoin="round"/>
<path d="M935.0,1426.7 C934.2,1424.2 933.1,1420.3 930.0,1418.3 C926.9,1416.4 922.2,1414.7 916.7,1415.0 C911.1,1415.3 903.3,1416.9 896.7,1420.0 C890.0,1423.1 882.2,1427.8 876.7,1433.3 C871.1,1438.9 866.2,1446.1 863.3,1453.3 C860.4,1460.6 859.1,1468.9 859.3,1476.7 C859.6,1484.4 861.6,1492.5 865.0,1500.0 C868.4,1507.5 873.6,1515.6 880.0,1521.7 C886.4,1527.8 895.0,1532.8 903.3,1536.7 C911.7,1540.6 920.6,1543.3 930.0,1545.0 C939.4,1546.7 950.6,1547.8 960.0,1546.7 C969.4,1545.6 978.9,1542.2 986.7,1538.3 C994.4,1534.4 1001.4,1529.2 1006.7,1523.3 C1011.9,1517.5 1016.1,1508.9 1018.3,1503.3 C1020.6,1497.8 1021.4,1493.8 1020.0,1490.0 C1018.6,1486.2 1013.9,1482.4 1010.0,1480.7 C1006.1,1478.9 1000.6,1478.3 996.7,1479.3 C992.8,1480.3 990.0,1483.2 986.7,1486.7 C983.3,1490.1 981.1,1495.8 976.7,1500.0 C972.2,1504.2 966.7,1508.9 960.0,1511.7 C953.3,1514.4 943.9,1516.7 936.7,1516.7 C929.4,1516.7 922.5,1514.4 916.7,1511.7 C910.8,1508.9 905.3,1504.7 901.7,1500.0 C898.1,1495.3 895.8,1488.9 895.0,1483.3 C894.2,1477.8 894.7,1471.7 896.7,1466.7 C898.6,1461.7 902.8,1456.9 906.7,1453.3 C910.6,1449.7 916.1,1446.9 920.0,1445.0 C923.9,1443.1 927.5,1443.6 930.0,1441.7 C932.5,1439.7 934.2,1435.8 935.0,1433.3 C935.8,1430.8 935.8,1429.2 935.0,1426.7Z" fill="#bdbdbd" stroke="#777" stroke-width="0.95" stroke-linejoin="round"/>
<polygon points="893.3,1441.7 905.0,1436.7 911.7,1443.3 900.0,1450.0" fill="#6f6f6f" stroke="#333" stroke-width="0.95"/>
<polygon points="875.0,1478.3 891.7,1476.0 892.7,1482.7 876.7,1484.0" fill="#6f6f6f" stroke="#333" stroke-width="0.95"/>
<polygon points="888.3,1506.7 898.3,1500.7 916.0,1515.0 906.0,1522.7" fill="#6f6f6f" stroke="#333" stroke-width="0.95"/>
<polygon points="965.0,1516.7 985.0,1501.7 993.3,1508.3 973.3,1524.0" fill="#6f6f6f" stroke="#333" stroke-width="0.95"/>
<path d="M976.7,1539.3 v33.3 a3.3,2.0 0 0 0 6.7,0 v-33.3 z" fill="#fff" stroke="#000" stroke-width="0.95"/>
<ellipse cx="980.0" cy="1539.3" rx="3.3" ry="2.0" fill="#fff" stroke="#000" stroke-width="0.95"/>
<path d="M838.7,1432.7 v36.7 a3.3,2.0 0 0 0 6.7,0 v-36.7 z" fill="#fff" stroke="#000" stroke-width="0.95"/>
<ellipse cx="842.0" cy="1432.7" rx="3.3" ry="2.0" fill="#fff" stroke="#000" stroke-width="0.95"/>
<path d="M843.3,1660.7 v23.3 a3.3,2.0 0 0 0 6.7,0 v-23.3 z" fill="#fff" stroke="#000" stroke-width="0.95"/>
<ellipse cx="846.7" cy="1660.7" rx="3.3" ry="2.0" fill="#fff" stroke="#000" stroke-width="0.95"/>
<path d="M786.7,1712.3 v13.3 a3.3,2.0 0 0 0 6.7,0 v-13.3 z" fill="#fff" stroke="#000" stroke-width="0.95"/>
<ellipse cx="790.0" cy="1712.3" rx="3.3" ry="2.0" fill="#fff" stroke="#000" stroke-width="0.95"/>
<polygon points="873.6,1707.1 886.1,1695.3 907.0,1691.1 927.8,1683.5 933.4,1687.9 907.7,1711.3 885.4,1696.7" fill="#6f6f6f"/>
<polygon points="875.0,1706.7 883.3,1696.7 1003.3,1790.0 996.7,1805.0 875.0,1737.3" fill="#6f6f6f" stroke="#000" stroke-width="0.95"/>
<polyline points="878.3,1718.3 998.3,1800.0" fill="none" stroke="#444" stroke-width="0.95"/>
<polyline points="876.7,1728.3 990.0,1805.0" fill="none" stroke="#444" stroke-width="0.95"/>
<polyline points="906.7,1711.7 1006.7,1788.3 1005.0,1805.0" fill="none" stroke="#555" stroke-width="0.95"/>
<polygon points="1025.0,1551.7 1066.7,1556.7 1106.7,1551.7 1138.3,1533.3 1160.0,1510.0 1166.7,1490.0 1167.3,1528.3 1163.3,1533.3 1140.0,1563.3 1106.7,1586.7 1068.3,1595.0 1025.0,1590.7" fill="#fff"/>
<polyline points="1025.0,1551.7 1066.7,1556.7 1106.7,1551.7 1138.3,1533.3 1160.0,1510.0 1166.7,1490.0" fill="none" stroke="#333" stroke-width="0.95"/>
<polyline points="1025.7,1555.7 1067.3,1560.7 1107.3,1555.7 1139.0,1537.3 1160.7,1514.0 1167.3,1494.0" fill="none" stroke="#777" stroke-width="0.95"/>
<polyline points="1026.0,1586.0 1069.3,1590.3 1107.7,1582.0 1141.0,1558.7 1164.3,1528.7 1168.3,1523.7" fill="none" stroke="#777" stroke-width="0.95"/>
<polyline points="1025.0,1551.7 1025.0,1590.7" fill="none" stroke="#333" stroke-width="0.95"/>
<polyline points="1027.3,1551.7 1027.3,1590.7" fill="none" stroke="#888" stroke-width="0.95"/>
<polyline points="1066.7,1556.7 1068.3,1595.0" fill="none" stroke="#333" stroke-width="0.95"/>
<polyline points="1069.0,1556.7 1070.7,1595.0" fill="none" stroke="#888" stroke-width="0.95"/>
<polyline points="1106.7,1551.7 1106.7,1586.7" fill="none" stroke="#333" stroke-width="0.95"/>
<polyline points="1109.0,1551.7 1109.0,1586.7" fill="none" stroke="#888" stroke-width="0.95"/>
<polyline points="1138.3,1533.3 1140.0,1563.3" fill="none" stroke="#333" stroke-width="0.95"/>
<polyline points="1140.7,1533.3 1142.3,1563.3" fill="none" stroke="#888" stroke-width="0.95"/>
<polyline points="1160.0,1510.0 1163.3,1533.3" fill="none" stroke="#333" stroke-width="0.95"/>
<polyline points="1162.3,1510.0 1165.7,1533.3" fill="none" stroke="#888" stroke-width="0.95"/>
<polyline points="1166.7,1490.0 1167.3,1528.3" fill="none" stroke="#333" stroke-width="0.95"/>
<polyline points="1169.0,1490.0 1169.7,1528.3" fill="none" stroke="#888" stroke-width="0.95"/>
<polyline points="976.7,1576.7 1021.7,1555.0 1023.3,1590.0 980.0,1610.7 976.7,1576.7" fill="none" stroke="#4a4a4a" stroke-width="2.20"/>
<polyline points="988.3,1571.7 990.7,1605.0" fill="none" stroke="#4a4a4a" stroke-width="1.80"/>
<polyline points="1003.3,1564.0 1005.7,1598.3" fill="none" stroke="#4a4a4a" stroke-width="1.80"/>
<polyline points="976.7,1576.7 965.0,1616.7 936.7,1645.0 918.3,1651.7 866.7,1656.7" fill="none" stroke="#4a4a4a" stroke-width="2.20"/>
<polyline points="976.7,1576.7 980.0,1613.3" fill="none" stroke="#4a4a4a" stroke-width="1.80"/>
<polyline points="965.0,1616.7 970.0,1640.7" fill="none" stroke="#4a4a4a" stroke-width="1.80"/>
<polyline points="936.7,1645.0 945.0,1668.3" fill="none" stroke="#4a4a4a" stroke-width="1.80"/>
<polyline points="918.3,1651.7 925.0,1678.3" fill="none" stroke="#4a4a4a" stroke-width="1.80"/>
<polyline points="866.7,1656.7 870.0,1686.7" fill="none" stroke="#4a4a4a" stroke-width="1.80"/>
<polyline points="973.3,1588.3 963.3,1620.0 936.0,1649.3 917.3,1656.7 867.3,1662.7" fill="none" stroke="#4a4a4a" stroke-width="1.40"/>
<polygon points="980.0,1613.3 970.0,1640.7 945.0,1668.3 925.0,1678.3 870.0,1686.7 871.7,1695.0 910.0,1687.3 940.0,1674.0 963.3,1653.3 976.7,1630.0 981.7,1613.3" fill="#6f6f6f"/>
<path d="M1150.0,1605.0 C1158.1,1604.6 1168.3,1604.6 1176.7,1606.0 C1185.0,1607.4 1192.8,1609.3 1200.0,1613.3 C1207.2,1617.3 1213.9,1623.3 1220.0,1630.0 C1226.1,1636.7 1231.1,1645.6 1236.7,1653.3 C1242.2,1661.1 1247.2,1670.0 1253.3,1676.7 C1259.4,1683.3 1265.0,1688.3 1273.3,1693.3 C1281.7,1698.3 1292.8,1702.2 1303.3,1706.7 C1313.9,1711.1 1326.7,1715.0 1336.7,1720.0 C1346.7,1725.0 1355.6,1730.0 1363.3,1736.7 C1371.1,1743.3 1377.8,1751.7 1383.3,1760.0 C1388.9,1768.3 1393.8,1777.2 1396.7,1786.7 C1399.6,1796.1 1401.2,1807.2 1400.7,1816.7 C1400.1,1826.1 1397.3,1835.8 1393.3,1843.3 C1389.3,1850.8 1383.9,1857.2 1376.7,1861.7 C1369.4,1866.1 1360.0,1869.2 1350.0,1870.0 C1340.0,1870.8 1327.8,1869.4 1316.7,1866.7 C1305.6,1863.9 1295.0,1858.9 1283.3,1853.3 C1271.7,1847.8 1258.9,1840.6 1246.7,1833.3 C1234.4,1826.1 1221.7,1817.8 1210.0,1810.0 C1198.3,1802.2 1187.2,1795.0 1176.7,1786.7 C1166.1,1778.3 1155.6,1768.9 1146.7,1760.0 C1137.8,1751.1 1130.0,1742.2 1123.3,1733.3 C1116.7,1724.4 1111.4,1715.6 1106.7,1706.7 C1101.9,1697.8 1097.5,1688.3 1095.0,1680.0 C1092.5,1671.7 1091.4,1664.4 1091.7,1656.7 C1091.9,1648.9 1093.6,1639.7 1096.7,1633.3 C1099.7,1626.9 1104.7,1622.5 1110.0,1618.3 C1115.3,1614.2 1121.7,1610.6 1128.3,1608.3 C1135.0,1606.1 1141.9,1605.4 1150.0,1605.0Z" fill="#6f6f6f" stroke="#333" stroke-width="0.80" stroke-linejoin="round"/>
<path d="M1150.2,1610.0 C1157.9,1609.6 1168.0,1609.6 1175.8,1610.9 C1183.7,1612.2 1190.8,1614.0 1197.6,1617.7 C1204.3,1621.4 1210.5,1627.0 1216.3,1633.4 C1222.2,1639.8 1227.0,1648.5 1232.6,1656.2 C1238.2,1664.0 1243.3,1673.1 1249.6,1680.0 C1256.0,1686.9 1262.1,1692.4 1270.8,1697.6 C1279.4,1702.8 1290.8,1706.8 1301.4,1711.3 C1312.0,1715.8 1324.6,1719.6 1334.4,1724.5 C1344.2,1729.3 1352.6,1734.1 1360.1,1740.5 C1367.5,1746.8 1373.9,1754.8 1379.2,1762.8 C1384.5,1770.7 1389.1,1779.2 1391.9,1788.1 C1394.6,1797.1 1396.2,1807.6 1395.7,1816.4 C1395.2,1825.2 1392.5,1834.1 1388.9,1841.0 C1385.3,1847.8 1380.6,1853.4 1374.0,1857.4 C1367.5,1861.4 1358.9,1864.3 1349.6,1865.0 C1340.2,1865.8 1328.6,1864.5 1317.9,1861.8 C1307.2,1859.1 1296.9,1854.3 1285.5,1848.8 C1274.0,1843.4 1261.3,1836.2 1249.2,1829.0 C1237.1,1821.9 1224.3,1813.6 1212.8,1805.8 C1201.2,1798.1 1190.2,1791.0 1179.8,1782.7 C1169.3,1774.5 1158.9,1765.2 1150.2,1756.5 C1141.5,1747.7 1133.9,1739.0 1127.3,1730.3 C1120.8,1721.6 1115.7,1712.9 1111.1,1704.3 C1106.5,1695.7 1102.2,1686.5 1099.8,1678.6 C1097.4,1670.7 1096.4,1664.0 1096.7,1656.8 C1096.9,1649.7 1098.4,1641.3 1101.2,1635.5 C1103.9,1629.7 1108.3,1626.0 1113.1,1622.3 C1117.9,1618.5 1123.7,1615.1 1129.9,1613.1 C1136.1,1611.0 1142.6,1610.4 1150.2,1610.0Z" fill="#bdbdbd" stroke="#555" stroke-width="0.60" stroke-linejoin="round"/>
<ellipse cx="1186.7" cy="1640.0" rx="29.3" ry="25.3" fill="#6f6f6f" stroke="#333" stroke-width="0.95"/>
<ellipse cx="1186.7" cy="1640.0" rx="25.3" ry="21.7" fill="#bdbdbd" stroke="#555" stroke-width="0.95"/>
<polygon points="1176.0,1432.0 1259.3,1359.7 1259.3,1386.0 1176.0,1462.0" fill="#bdbdbd" stroke="#000" stroke-width="0.95"/>
<polyline points="1170.0,1437.3 1265.0,1348.3 1623.3,1600.7" fill="none" stroke="#000" stroke-width="0.95"/>
<polyline points="1265.0,1348.3 1265.0,1383.3" fill="none" stroke="#000" stroke-width="0.95"/>
<polyline points="1265.0,1383.3 1175.0,1463.3" fill="none" stroke="#000" stroke-width="0.95"/>
<polyline points="1265.0,1383.3 1380.0,1466.7" fill="none" stroke="#000" stroke-width="0.95"/>
<polyline points="1170.0,1437.3 1171.7,1463.3" fill="none" stroke="#000" stroke-width="0.95"/>
<polyline points="1161.7,1440.0 1163.3,1463.3 1175.0,1471.7" fill="none" stroke="#000" stroke-width="0.95"/>
<polyline points="1160.0,1489.3 1166.7,1496.7 1164.0,1530.0 1150.0,1548.3" fill="none" stroke="#333" stroke-width="0.95"/>
<polyline points="1162.7,1490.7 1169.3,1497.7 1166.7,1531.7 1151.7,1550.0" fill="none" stroke="#777" stroke-width="0.95"/>
<polygon points="1175.0,1506.7 1186.7,1513.3 1186.7,1524.0 1175.0,1516.7" fill="none" stroke="#333" stroke-width="0.95"/>
<polygon points="1163.3,1523.3 1231.7,1578.3 1273.3,1608.3 1273.3,1620.0 1230.0,1589.3 1163.3,1534.0" fill="#bdbdbd" stroke="#777" stroke-width="0.95"/>
<polygon points="1206.7,1556.7 1216.7,1548.3 1239.3,1564.0 1238.3,1575.0 1230.0,1580.0 1208.3,1565.0" fill="#bdbdbd" stroke="#555" stroke-width="0.95"/>
<polyline points="1206.7,1556.7 1229.3,1571.7 1239.3,1564.0" fill="none" stroke="#666" stroke-width="0.95"/>
<polyline points="1229.3,1571.7 1230.0,1580.0" fill="none" stroke="#666" stroke-width="0.95"/>
<polygon points="1185.0,1541.7 1193.3,1537.3 1198.3,1543.3 1189.3,1548.3" fill="#6f6f6f" stroke="#333" stroke-width="0.95"/>
<polyline points="1175.0,1543.3 1175.0,1556.0" fill="none" stroke="#222" stroke-width="1.80"/>
<polyline points="1203.3,1564.0 1203.3,1576.7" fill="none" stroke="#222" stroke-width="1.80"/>
<polyline points="1226.0,1580.7 1226.0,1593.3" fill="none" stroke="#222" stroke-width="1.80"/>
<polygon points="1161.7,1486.0 1280.0,1566.0 1276.7,1571.7 1160.0,1493.3" fill="#fff" stroke="#000" stroke-width="0.95"/>
<polygon points="1278.3,1567.3 1405.0,1442.7 1409.3,1446.7 1283.3,1570.7" fill="#fff" stroke="#000" stroke-width="0.95"/>
<polyline points="1281.7,1571.7 1363.3,1490.0" fill="none" stroke="#555" stroke-width="0.95"/>
<polyline points="1409.3,1446.7 1445.0,1471.7 1488.3,1501.7" fill="none" stroke="#000" stroke-width="0.95"/>
<polyline points="1406.7,1445.0 1408.3,1486.7" fill="none" stroke="#666" stroke-width="0.95"/>
<polygon points="1378.3,1490.0 1406.7,1468.3 1420.0,1475.0 1391.7,1500.0" fill="#bdbdbd" stroke="#666" stroke-width="0.95"/>
<polyline points="1366.7,1486.7 1396.7,1510.0 1445.0,1471.7" fill="none" stroke="#000" stroke-width="0.95"/>
<polyline points="1370.0,1484.0 1397.3,1505.0 1441.7,1469.3" fill="none" stroke="#666" stroke-width="0.95"/>
<polyline points="1363.3,1490.0 1365.0,1526.7 1376.7,1535.0" fill="none" stroke="#666" stroke-width="0.95"/>
<polyline points="1346.7,1508.3 1363.3,1490.0" fill="none" stroke="#444" stroke-width="0.95"/>
<polyline points="1346.7,1508.3 1348.3,1543.3 1358.3,1550.0" fill="none" stroke="#666" stroke-width="0.95"/>
<polyline points="1396.7,1510.0 1398.3,1520.0 1383.3,1530.0" fill="none" stroke="#555" stroke-width="0.95"/>
<polyline points="1378.3,1503.3 1380.0,1530.0" fill="none" stroke="#666" stroke-width="0.95"/>
<polyline points="1381.7,1529.3 1443.3,1472.7" fill="none" stroke="#333" stroke-width="0.95"/>
<polyline points="1385.0,1531.7 1445.0,1476.7" fill="none" stroke="#777" stroke-width="0.95"/>
<polyline points="1381.7,1529.3 1431.7,1560.0 1488.3,1503.3" fill="none" stroke="#333" stroke-width="0.95"/>
<polyline points="1386.0,1529.3 1431.7,1556.0 1485.0,1502.7" fill="none" stroke="#777" stroke-width="0.95"/>
<polyline points="1443.3,1472.7 1445.0,1510.0" fill="none" stroke="#666" stroke-width="0.95"/>
<polygon points="1413.3,1530.0 1436.7,1510.0 1465.0,1520.0 1463.3,1530.0 1436.7,1550.0 1420.0,1543.3" fill="#bdbdbd" stroke="#666" stroke-width="0.95"/>
<ellipse cx="1443.3" cy="1526.7" rx="16.0" ry="10.0" fill="none" stroke="#555" stroke-width="0.90"/>
<ellipse cx="1443.3" cy="1527.3" rx="13.3" ry="8.0" fill="none" stroke="#888" stroke-width="0.95"/>
<polyline points="1383.3,1530.0 1376.7,1570.0 1436.7,1613.3 1440.0,1575.0" fill="none" stroke="#555" stroke-width="0.95"/>
<polyline points="1431.7,1560.0 1440.0,1575.0" fill="none" stroke="#555" stroke-width="0.95"/>
<polygon points="1441.7,1550.0 1490.0,1503.3 1545.0,1540.0 1545.0,1552.7 1495.0,1526.0 1480.0,1543.3 1466.7,1560.0 1463.3,1576.7 1443.3,1563.3" fill="#bdbdbd" stroke="#666" stroke-width="0.95"/>
<polyline points="1490.0,1515.0 1540.0,1548.3" fill="none" stroke="#777" stroke-width="0.95"/>
<polyline points="1443.3,1560.0 1490.0,1515.0" fill="none" stroke="#777" stroke-width="0.95"/>
<polyline points="1498.3,1511.7 1498.3,1522.7" fill="none" stroke="#888" stroke-width="0.95"/>
<polyline points="1507.7,1518.0 1507.7,1529.0" fill="none" stroke="#888" stroke-width="0.95"/>
<polyline points="1517.0,1524.3 1517.0,1535.3" fill="none" stroke="#888" stroke-width="0.95"/>
<polyline points="1526.3,1530.7 1526.3,1541.7" fill="none" stroke="#888" stroke-width="0.95"/>
<polyline points="1535.7,1537.0 1535.7,1548.0" fill="none" stroke="#888" stroke-width="0.95"/>
<polygon points="1486.7,1550.0 1495.0,1543.3 1546.7,1563.3 1546.7,1573.3 1508.3,1615.0 1493.3,1607.3 1495.0,1590.0 1520.0,1570.0" fill="#bdbdbd" stroke="#666" stroke-width="0.95"/>
<polyline points="1496.7,1547.3 1496.7,1560.0" fill="none" stroke="#888" stroke-width="0.95"/>
<polyline points="1505.0,1552.0 1505.0,1564.7" fill="none" stroke="#888" stroke-width="0.95"/>
<polyline points="1513.3,1556.7 1513.3,1569.3" fill="none" stroke="#888" stroke-width="0.95"/>
<polygon points="1466.7,1543.3 1483.3,1548.3 1480.0,1560.0 1461.7,1556.7" fill="#6f6f6f" stroke="#333" stroke-width="0.95"/>
<polygon points="1500.0,1586.7 1513.3,1576.7 1521.7,1581.7 1508.3,1593.3" fill="#6f6f6f" stroke="#333" stroke-width="0.95"/>
<polygon points="1440.0,1575.0 1451.7,1580.0 1450.0,1596.7 1438.3,1613.3" fill="#6f6f6f" stroke="#333" stroke-width="0.95"/>
<polygon points="1283.3,1590.0 1316.7,1560.0 1380.0,1593.3 1346.7,1621.7 1320.0,1623.3" fill="#bdbdbd" stroke="#555" stroke-width="0.95"/>
<polyline points="1288.1,1585.7 1333.7,1616.5" fill="none" stroke="#777" stroke-width="0.95"/>
<polyline points="1292.9,1581.4 1341.4,1612.6" fill="none" stroke="#777" stroke-width="0.95"/>
<polyline points="1297.6,1577.1 1349.1,1608.8" fill="none" stroke="#777" stroke-width="0.95"/>
<polyline points="1302.4,1572.9 1356.9,1604.9" fill="none" stroke="#777" stroke-width="0.95"/>
<polyline points="1307.1,1568.6 1364.6,1601.0" fill="none" stroke="#777" stroke-width="0.95"/>
<polyline points="1311.9,1564.3 1372.3,1597.2" fill="none" stroke="#777" stroke-width="0.95"/>
<polygon points="1273.3,1573.3 1281.7,1593.3 1320.0,1623.3 1346.7,1621.7 1345.0,1660.0 1316.7,1662.3 1271.7,1623.3" fill="#6f6f6f" stroke="#000" stroke-width="0.95"/>
<polyline points="1320.0,1623.3 1318.3,1661.7" fill="none" stroke="#444" stroke-width="0.95"/>
<polyline points="1350.0,1553.3 1320.0,1593.3 1318.3,1604.0" fill="none" stroke="#333" stroke-width="1.40"/>
<polyline points="1355.0,1570.0 1326.7,1600.0" fill="none" stroke="#333" stroke-width="1.20"/>
<polygon points="1350.0,1623.3 1396.7,1577.3 1399.3,1582.7 1354.0,1628.3" fill="#fff" stroke="#000" stroke-width="0.95"/>
<polyline points="1396.7,1578.3 1397.3,1590.0" fill="none" stroke="#555" stroke-width="0.95"/>
<polyline points="1371.7,1631.7 1395.0,1606.7" fill="none" stroke="#555" stroke-width="0.95"/>
<polyline points="1371.7,1631.7 1380.0,1638.3" fill="none" stroke="#555" stroke-width="0.95"/>
<polygon points="1348.3,1625.0 1380.0,1649.3 1380.0,1688.3 1346.7,1660.0" fill="#fff" stroke="#000" stroke-width="0.95"/>
<polyline points="1354.0,1628.3 1516.7,1745.0" fill="none" stroke="#333" stroke-width="0.95"/>
<polygon points="1383.3,1652.7 1416.7,1676.7 1415.0,1710.7 1381.7,1686.0" fill="#fff" stroke="#222" stroke-width="1.00"/>
<polygon points="1420.0,1678.7 1451.7,1702.0 1450.0,1735.0 1418.3,1712.7" fill="#fff" stroke="#222" stroke-width="1.00"/>
<polygon points="1453.3,1703.3 1463.3,1710.7 1460.7,1740.0 1450.0,1733.3" fill="#6f6f6f" stroke="#000" stroke-width="0.95"/>
<polygon points="1463.3,1713.3 1483.3,1728.3 1481.7,1750.0 1461.7,1738.3" fill="#bdbdbd" stroke="#666" stroke-width="0.95"/>
<polygon points="1630.0,1601.7 1631.7,1635.0 1536.7,1730.0 1516.7,1750.0 1520.0,1713.3 1543.3,1688.3" fill="#fff" stroke="#000" stroke-width="0.95"/>
<polyline points="1623.3,1600.7 1543.3,1683.3 1538.3,1688.3" fill="none" stroke="#333" stroke-width="0.95"/>
<polygon points="1589.3,1645.0 1608.3,1626.0 1607.3,1641.7 1590.0,1660.0" fill="none" stroke="#333" stroke-width="1.50"/>
<polyline points="1591.7,1648.3 1606.0,1633.3" fill="none" stroke="#777" stroke-width="0.95"/>
<polygon points="1523.3,1706.7 1543.3,1690.0 1541.7,1726.7 1521.7,1745.0" fill="#6f6f6f" stroke="#000" stroke-width="0.95"/>
<polygon points="1526.7,1718.3 1538.3,1708.3 1537.3,1726.7 1526.0,1737.3" fill="#555" stroke="#333" stroke-width="0.95"/>
<polygon points="1633.7,1598.0 1643.3,1591.3 1679.3,1617.0 1678.3,1628.7 1663.3,1638.0 1637.0,1621.3 1627.3,1629.3 1630.0,1612.7" fill="#dcdcdc" stroke="#777" stroke-width="0.95"/>
<polyline points="1643.0,1596.5 1637.0,1622.0" fill="none" stroke="#aaa" stroke-width="0.40"/>
<polyline points="1647.3,1599.7 1641.3,1624.7" fill="none" stroke="#aaa" stroke-width="0.40"/>
<polyline points="1651.7,1602.8 1645.7,1627.3" fill="none" stroke="#aaa" stroke-width="0.40"/>
<polyline points="1656.0,1606.0 1650.0,1630.0" fill="none" stroke="#aaa" stroke-width="0.40"/>
<polyline points="1660.3,1609.2 1654.3,1632.7" fill="none" stroke="#aaa" stroke-width="0.40"/>
<polyline points="1664.7,1612.3 1658.7,1635.3" fill="none" stroke="#aaa" stroke-width="0.40"/>
<polyline points="1669.0,1615.5 1663.0,1638.0" fill="none" stroke="#aaa" stroke-width="0.40"/>
<polyline points="1673.3,1618.7 1667.3,1640.7" fill="none" stroke="#aaa" stroke-width="0.40"/>
<polyline points="1633.0,1604.0 1679.0,1619.7" fill="none" stroke="#bbb" stroke-width="0.40"/>
<polyline points="1632.3,1610.0 1678.7,1622.3" fill="none" stroke="#bbb" stroke-width="0.40"/>
<polyline points="1631.7,1616.0 1678.3,1625.0" fill="none" stroke="#bbb" stroke-width="0.40"/>
<polyline points="1631.0,1622.0 1678.0,1627.7" fill="none" stroke="#bbb" stroke-width="0.40"/>
<polyline points="1643.3,1591.3 1679.3,1617.0 1678.3,1628.7" fill="none" stroke="#000" stroke-width="1.60"/>
<polyline points="1664.0,1637.7 1557.7,1750.0" fill="none" stroke="#000" stroke-width="0.95"/>
<polyline points="1676.7,1630.7 1568.0,1750.0" fill="none" stroke="#000" stroke-width="0.95"/>
<polyline points="1674.7,1646.0 1578.0,1750.0" fill="none" stroke="#000" stroke-width="0.95"/>
<polyline points="1678.3,1628.7 1675.3,1646.0" fill="none" stroke="#000" stroke-width="0.95"/>
<polyline points="1675.3,1646.0 1707.3,1670.3 1706.0,1677.3" fill="none" stroke="#000" stroke-width="2.00"/>
<polyline points="1707.3,1670.3 1633.7,1750.0" fill="none" stroke="#333" stroke-width="0.95"/>
<polyline points="1706.0,1677.3 1637.7,1750.0" fill="none" stroke="#000" stroke-width="1.50"/>
<polyline points="649.3,1612.3 804.0,1733.0 869.3,1673.7" fill="none" stroke="#333" stroke-width="0.95"/>
<polyline points="650.7,1616.7 804.7,1737.0 869.7,1678.0" fill="none" stroke="#333" stroke-width="0.95"/>
<polyline points="651.7,1646.7 805.3,1774.0 870.7,1707.3" fill="none" stroke="#333" stroke-width="0.95"/>
<polyline points="651.3,1642.7 805.0,1770.0 870.3,1703.3" fill="none" stroke="#333" stroke-width="0.95"/>
<polyline points="713.3,1670.0 716.0,1708.3" fill="none" stroke="#333" stroke-width="0.95"/>
<polyline points="715.7,1670.7 718.3,1709.0" fill="none" stroke="#777" stroke-width="0.95"/>
<polyline points="776.7,1715.0 780.0,1760.0" fill="none" stroke="#333" stroke-width="0.95"/>
<polyline points="779.0,1715.7 782.3,1760.7" fill="none" stroke="#777" stroke-width="0.95"/>
<polyline points="803.3,1733.3 808.3,1782.7" fill="none" stroke="#333" stroke-width="0.95"/>
<polyline points="805.7,1734.0 810.7,1783.3" fill="none" stroke="#777" stroke-width="0.95"/>
<polyline points="825.0,1718.3 826.7,1761.7" fill="none" stroke="#333" stroke-width="0.95"/>
<polyline points="827.3,1719.0 829.0,1762.3" fill="none" stroke="#777" stroke-width="0.95"/>
<polyline points="868.3,1675.0 870.7,1716.7" fill="none" stroke="#333" stroke-width="0.95"/>
<polyline points="870.7,1675.7 873.0,1717.3" fill="none" stroke="#777" stroke-width="0.95"/>
<polyline points="840.0,1706.7 841.7,1747.3" fill="none" stroke="#4a4a4a" stroke-width="2.00"/>
<polyline points="856.7,1693.3 858.3,1734.0" fill="none" stroke="#4a4a4a" stroke-width="2.00"/>
<path d="M843.3,1662.7 v49.3 a3.3,2.0 0 0 0 6.7,0 v-49.3 z" fill="#fff" stroke="#000" stroke-width="0.95"/>
<ellipse cx="846.7" cy="1662.7" rx="3.3" ry="2.0" fill="#fff" stroke="#000" stroke-width="0.95"/>
<path d="M787.3,1714.0 v13.3 a3.3,2.0 0 0 0 6.7,0 v-13.3 z" fill="#fff" stroke="#000" stroke-width="0.95"/>
<ellipse cx="790.7" cy="1714.0" rx="3.3" ry="2.0" fill="#fff" stroke="#000" stroke-width="0.95"/>
<polygon points="875.0,1700.0 886.0,1695.0 906.0,1711.7 1003.3,1801.7 976.7,1825.0 875.0,1738.3" fill="#6f6f6f" stroke="#000" stroke-width="0.95"/>
<polyline points="880.0,1713.3 981.7,1820.0" fill="none" stroke="#444" stroke-width="0.95"/>
<polyline points="884.0,1705.0 988.3,1813.3" fill="none" stroke="#444" stroke-width="0.95"/>
<polyline points="886.0,1695.0 993.3,1805.0" fill="none" stroke="#444" stroke-width="0.95"/>
<polyline points="906.0,1711.7 1003.3,1801.7" fill="none" stroke="#eee" stroke-width="1.20"/>
<polyline points="910.0,1710.0 1007.3,1800.0" fill="none" stroke="#666" stroke-width="0.95"/>
<polygon points="985.0,1800.7 1005.0,1786.0 1005.0,1804.0 986.7,1817.3" fill="#dedede" stroke="#666" stroke-width="0.95"/>
<polygon points="566.7,1679.3 600.0,1680.7 626.7,1685.0 630.0,1709.3 600.0,1702.7 566.7,1700.0" fill="#ececec"/>
<polyline points="566.7,1682.8 600.0,1684.3 627.2,1689.1" fill="none" stroke="#c4c4c4" stroke-width="0.40"/>
<polyline points="566.7,1686.2 600.0,1688.0 627.8,1693.1" fill="none" stroke="#c4c4c4" stroke-width="0.40"/>
<polyline points="566.7,1689.7 600.0,1691.7 628.3,1697.2" fill="none" stroke="#c4c4c4" stroke-width="0.40"/>
<polyline points="566.7,1693.1 600.0,1695.3 628.9,1701.2" fill="none" stroke="#c4c4c4" stroke-width="0.40"/>
<polyline points="566.7,1696.6 600.0,1699.0 629.4,1705.3" fill="none" stroke="#c4c4c4" stroke-width="0.40"/>
<polyline points="566.7,1679.3 600.0,1680.7 626.7,1685.0" fill="none" stroke="#222" stroke-width="0.90"/>
<polyline points="566.7,1700.0 600.0,1702.7 630.0,1709.3" fill="none" stroke="#000" stroke-width="1.50"/>
<polygon points="626.7,1685.0 881.7,1895.0 985.0,1820.0 990.7,1831.7 882.7,1918.3 630.0,1709.3" fill="#ececec"/>
<polyline points="627.2,1689.1 881.8,1898.9 985.9,1821.9" fill="none" stroke="#c4c4c4" stroke-width="0.40"/>
<polyline points="627.8,1693.1 882.0,1902.8 986.9,1823.9" fill="none" stroke="#c4c4c4" stroke-width="0.40"/>
<polyline points="628.3,1697.2 882.2,1906.7 987.8,1825.8" fill="none" stroke="#c4c4c4" stroke-width="0.40"/>
<polyline points="628.9,1701.2 882.3,1910.6 988.8,1827.8" fill="none" stroke="#c4c4c4" stroke-width="0.40"/>
<polyline points="629.4,1705.3 882.5,1914.4 989.7,1829.7" fill="none" stroke="#c4c4c4" stroke-width="0.40"/>
<polyline points="626.7,1685.0 881.7,1895.0 985.0,1820.0" fill="none" stroke="#222" stroke-width="0.90"/>
<polyline points="630.0,1709.3 882.7,1918.3 990.7,1831.7" fill="none" stroke="#000" stroke-width="1.50"/>
<polyline points="626.7,1685.0 630.0,1709.3" fill="none" stroke="#444" stroke-width="0.95"/>
<polyline points="670.0,1720.0 670.7,1743.3" fill="none" stroke="#444" stroke-width="0.95"/>
<polyline points="711.7,1755.0 712.7,1778.3" fill="none" stroke="#444" stroke-width="0.95"/>
<polyline points="755.0,1790.0 756.0,1813.3" fill="none" stroke="#444" stroke-width="0.95"/>
<polyline points="798.3,1826.7 799.3,1850.0" fill="none" stroke="#444" stroke-width="0.95"/>
<polyline points="841.7,1863.3 842.7,1885.0" fill="none" stroke="#444" stroke-width="0.95"/>
<polyline points="881.7,1895.0 882.7,1918.3" fill="none" stroke="#444" stroke-width="0.95"/>
<polyline points="921.7,1866.7 922.7,1890.0" fill="none" stroke="#444" stroke-width="0.95"/>
<polyline points="955.0,1841.7 956.0,1865.0" fill="none" stroke="#444" stroke-width="0.95"/>
<polyline points="985.0,1820.0 986.0,1836.7" fill="none" stroke="#444" stroke-width="0.95"/>
<polygon points="988.3,1808.3 1248.3,2052.3 1246.7,2072.7 990.7,1831.7" fill="#ececec"/>
<polyline points="988.7,1812.2 1248.1,2055.7" fill="none" stroke="#c4c4c4" stroke-width="0.40"/>
<polyline points="989.1,1816.1 1247.8,2059.1" fill="none" stroke="#c4c4c4" stroke-width="0.40"/>
<polyline points="989.5,1820.0 1247.5,2062.5" fill="none" stroke="#c4c4c4" stroke-width="0.40"/>
<polyline points="989.9,1823.9 1247.2,2065.9" fill="none" stroke="#c4c4c4" stroke-width="0.40"/>
<polyline points="990.3,1827.8 1246.9,2069.3" fill="none" stroke="#c4c4c4" stroke-width="0.40"/>
<polyline points="988.3,1808.3 1248.3,2052.3" fill="none" stroke="#222" stroke-width="0.90"/>
<polyline points="990.7,1831.7 1246.7,2072.7" fill="none" stroke="#000" stroke-width="1.50"/>
<polyline points="1025.0,1841.7 1026.0,1865.0" fill="none" stroke="#444" stroke-width="0.95"/>
<polyline points="1063.3,1877.3 1064.0,1900.7" fill="none" stroke="#444" stroke-width="0.95"/>
<polyline points="1103.3,1914.0 1104.0,1937.3" fill="none" stroke="#444" stroke-width="0.95"/>
<polyline points="1146.7,1954.0 1147.3,1978.3" fill="none" stroke="#444" stroke-width="0.95"/>
<polyline points="1191.7,1998.3 1192.3,2021.7" fill="none" stroke="#444" stroke-width="0.95"/>
<polygon points="1248.3,2045.0 1313.3,1980.0 1341.7,2001.7 1340.0,2015.0 1312.7,1996.7 1247.3,2066.7" fill="#ececec"/>
<polyline points="1248.2,2048.6 1313.2,1982.8 1341.4,2003.9" fill="none" stroke="#c4c4c4" stroke-width="0.40"/>
<polyline points="1248.0,2052.2 1313.1,1985.6 1341.1,2006.1" fill="none" stroke="#c4c4c4" stroke-width="0.40"/>
<polyline points="1247.8,2055.8 1313.0,1988.3 1340.8,2008.3" fill="none" stroke="#c4c4c4" stroke-width="0.40"/>
<polyline points="1247.7,2059.4 1312.9,1991.1 1340.6,2010.6" fill="none" stroke="#c4c4c4" stroke-width="0.40"/>
<polyline points="1247.5,2063.1 1312.8,1993.9 1340.3,2012.8" fill="none" stroke="#c4c4c4" stroke-width="0.40"/>
<polyline points="1248.3,2045.0 1313.3,1980.0 1341.7,2001.7" fill="none" stroke="#222" stroke-width="0.90"/>
<polyline points="1247.3,2066.7 1312.7,1996.7 1340.0,2015.0" fill="none" stroke="#000" stroke-width="1.50"/>
<polyline points="1248.3,2045.0 1247.3,2066.7" fill="none" stroke="#444" stroke-width="0.95"/>
<polyline points="1278.3,2015.0 1278.3,2033.3" fill="none" stroke="#444" stroke-width="0.95"/>
<polyline points="1313.3,1980.0 1312.7,1996.7" fill="none" stroke="#444" stroke-width="0.95"/>
<polyline points="1341.7,2001.7 1340.0,2015.0" fill="none" stroke="#444" stroke-width="0.95"/>
<polygon points="1246.0,2071.7 1311.7,2005.0 1360.0,2034.0 1303.3,2099.3 1301.7,2125.0" fill="#6f6f6f" stroke="#000" stroke-width="0.95"/>
<polyline points="1320.7,2044.0 1338.3,2051.7" fill="none" stroke="#333" stroke-width="0.95"/>
<polyline points="1326.7,2037.3 1344.3,2045.0" fill="none" stroke="#333" stroke-width="0.95"/>
<polyline points="1332.7,2030.7 1350.3,2038.3" fill="none" stroke="#333" stroke-width="0.95"/>
<polyline points="1320.0,2043.3 1338.3,2021.7 1358.3,2033.3" fill="none" stroke="#333" stroke-width="0.95"/>
<polyline points="1320.7,2044.0 1321.7,2050.0 1340.0,2058.3" fill="none" stroke="#444" stroke-width="0.95"/>
<polygon points="1330.0,2013.3 1340.7,2003.3 1340.0,2016.7 1329.3,2026.7" fill="#cfcfcf" stroke="#777" stroke-width="0.95"/>
<polygon points="1303.3,2099.3 1395.0,2000.0 1360.0,1971.7 1363.3,1966.7 1400.7,1996.0 1402.0,2016.0 1301.7,2126.7" fill="#fff" stroke="#000" stroke-width="0.95"/>
<polyline points="1303.3,2099.3 1301.7,2126.0" fill="none" stroke="#000" stroke-width="0.95"/>
<polyline points="1308.3,2096.7 1400.7,1996.0" fill="none" stroke="#666" stroke-width="0.95"/>
<polyline points="1301.7,2126.7 1402.0,2016.0 1403.3,1996.0" fill="none" stroke="#000" stroke-width="2.20"/>
<polygon points="1336.7,1949.0 1478.3,1799.3 1497.3,1813.3 1496.0,1833.3 1479.3,1820.7 1360.0,1957.3 1359.3,1980.0 1335.0,1963.3" fill="#6f6f6f" stroke="#000" stroke-width="0.95"/>
<polyline points="1346.7,1950.0 1478.3,1806.7 1479.3,1820.7" fill="none" stroke="#444" stroke-width="0.95"/>
<polyline points="1346.7,1950.0 1360.0,1957.3" fill="none" stroke="#444" stroke-width="0.95"/>
<polygon points="1497.3,1814.0 1557.7,1750.0 1578.0,1750.0 1496.7,1834.0" fill="#fff"/>
<polyline points="1497.3,1814.0 1557.7,1750.0" fill="none" stroke="#000" stroke-width="0.95"/>
<polyline points="1501.7,1818.3 1568.0,1750.0" fill="none" stroke="#000" stroke-width="0.95"/>
<polyline points="1496.7,1834.0 1500.7,1818.3" fill="none" stroke="#000" stroke-width="0.95"/>
<polyline points="1496.7,1834.0 1578.0,1750.0" fill="none" stroke="#000" stroke-width="0.95"/>
<polyline points="1360.0,1970.7 1398.3,1998.3" fill="none" stroke="#000" stroke-width="0.95"/>
<polyline points="1401.7,1993.3 1633.7,1750.0" fill="none" stroke="#555" stroke-width="0.95"/>
<polyline points="1404.0,1996.7 1637.7,1750.0" fill="none" stroke="#000" stroke-width="1.60"/>
<polygon points="1491.7,1768.3 1496.7,1765.0 1521.7,1781.7 1516.7,1786.7" fill="#dcdcdc" stroke="#999" stroke-width="0.95"/>
</g>
<g id="thick" stroke-linejoin="round" stroke-linecap="round">
<polyline points="390.0,480.0 380.0,415.0 405.0,398.3 407.3,395.3 410.0,396.0 433.3,379.0 436.0,376.7 490.0,340.7 492.7,338.3 513.3,324.0 515.7,321.7 591.7,273.3 594.3,270.7 680.0,210.7 682.3,208.3 741.7,165.0 835.0,220.7 875.0,220.0 916.7,241.7 925.0,241.0" fill="none" stroke="#000" stroke-width="2.50"/>
<path d="M389.3,478.3 C388.1,481.9 384.4,492.5 381.7,500.0 C378.9,507.5 374.7,515.0 372.7,523.3 C370.6,531.7 369.3,540.0 369.3,550.0 C369.3,560.0 370.1,572.8 372.7,583.3 C375.3,593.9 379.3,603.6 385.0,613.3 C390.7,623.1 398.1,633.1 406.7,641.7 C415.3,650.3 425.6,658.1 436.7,665.0 C447.8,671.9 461.1,678.3 473.3,683.3 C485.6,688.3 498.9,692.2 510.0,695.0 C521.1,697.8 531.9,699.3 540.0,700.0 C548.1,700.7 555.3,699.4 558.3,699.3" fill="none" stroke="#000" stroke-width="2.50" stroke-linejoin="round"/>
<polyline points="558.3,699.3 771.7,856.7 875.0,775.0 874.0,754.0" fill="none" stroke="#000" stroke-width="2.50"/>
<polyline points="880.0,223.0 911.3,242.8 961.4,241.3 1000.0,265.7 1003.1,298.1 1047.0,326.3 1049.5,341.9 1211.8,443.1 1240.0,422.3" fill="none" stroke="#000" stroke-width="2.50"/>
<path d="M982.7,676.7 C980.0,681.1 973.2,695.0 966.7,703.3 C960.1,711.7 952.2,720.0 943.3,726.7 C934.4,733.3 924.4,739.2 913.3,743.3 C902.2,747.5 882.8,750.3 876.7,751.7" fill="none" stroke="#000" stroke-width="2.50" stroke-linejoin="round"/>
<polyline points="876.7,751.7 876.0,773.3" fill="none" stroke="#000" stroke-width="2.50"/>
<polyline points="981.7,676.7 987.2,674.4 992.7,672.1 998.1,669.8 1003.6,667.6 1009.1,665.3 1014.6,663.0 1020.1,660.7 1025.6,658.5 1031.1,656.2 1036.6,654.0 1042.1,651.8 1047.7,649.6 1053.2,647.5 1058.8,645.4 1064.4,643.5 1070.2,642.0 1076.0,641.2 1081.6,643.2 1087.3,644.3 1093.2,644.2 1099.2,644.1 1105.1,643.8 1111.1,643.4 1116.9,642.6 1122.8,641.6 1128.6,640.4 1134.4,639.0 1140.1,637.3 1145.7,635.3 1151.2,633.2 1156.7,630.8 1162.1,628.3 1167.3,625.5 1172.5,622.6 1177.5,619.4 1182.3,615.9 1186.9,612.0 1191.3,608.1 1195.6,604.0 1200.0,600.0" fill="none" stroke="#000" stroke-width="2.50"/>
<polyline points="1200.0,600.0 1375.0,713.3" fill="none" stroke="#000" stroke-width="2.50"/>
<polyline points="1213.3,443.3 1351.0,333.3 1823.3,613.3" fill="none" stroke="#000" stroke-width="2.50"/>
<polyline points="1823.3,613.3 1820.7,659.3 1641.7,840.0 1641.7,842.7 1613.3,866.7 1275.0,648.3" fill="none" stroke="#000" stroke-width="2.50"/>
<polyline points="628.3,1311.7 787.3,1181.7 861.7,1233.3 890.0,1233.3 918.3,1255.0 921.7,1283.3 963.3,1308.3 993.3,1307.3 1028.3,1333.3 1030.0,1345.0 1161.7,1440.0 1270.0,1341.7 1275.0,1344.0" fill="none" stroke="#000" stroke-width="2.50"/>
<polyline points="628.3,1311.7 496.7,1417.3 500.7,1451.7 491.0,1478.3 500.7,1580.7 536.0,1628.3 592.7,1655.0 652.7,1656.7" fill="none" stroke="#000" stroke-width="2.50"/>
<polyline points="1025.0,1590.7 1068.3,1595.0 1106.7,1586.7 1140.0,1563.3 1163.3,1533.3" fill="none" stroke="#000" stroke-width="2.50"/>
<polyline points="1023.3,1590.7 981.7,1613.3 976.7,1631.7 963.3,1655.0 938.3,1677.3 908.3,1690.0 887.3,1692.7 883.3,1696.7 880.0,1700.0 876.7,1705.0 873.3,1710.0 871.3,1717.7" fill="none" stroke="#000" stroke-width="2.50"/>
<polyline points="1161.7,1440.0 1269.3,1340.7 1633.3,1596.7 1630.7,1635.0 1510.0,1750.0 1493.3,1771.7" fill="none" stroke="#000" stroke-width="2.50"/>
<polyline points="1271.7,1623.3 1316.7,1662.3 1345.0,1660.0 1380.0,1688.3 1493.3,1771.7" fill="none" stroke="#000" stroke-width="2.50"/>
<polyline points="651.7,1655.0 808.3,1782.7 871.3,1717.7" fill="none" stroke="#000" stroke-width="2.50"/>
</g>
<g id="top" stroke-linejoin="round" stroke-linecap="round">

</g>

<rect x="165" y="2164" width="72.7" height="72" fill="#bdbdbd"/>
<polygon points="165,2164 237.7,2164 165,2236" fill="#7f7f7f"/>
<rect x="165" y="2257.3" width="72.7" height="72.7" fill="#000"/>
<text x="165.5" y="191.5" font-size="31" font-weight="700" fill="#000" textLength="130.0" lengthAdjust="spacingAndGlyphs">LEVEL 02</text>
<text x="165.5" y="1118.8" font-size="31" font-weight="700" fill="#000" textLength="128.0" lengthAdjust="spacingAndGlyphs">LEVEL 01</text>
<text x="165.3" y="2127.3" font-size="31" font-weight="700" fill="#000" textLength="117.5" lengthAdjust="spacingAndGlyphs">LEGEND</text>
<text x="262.7" y="2196.0" font-size="30.5" font-weight="400" fill="#000" textLength="218.7" lengthAdjust="spacingAndGlyphs">EXISTING PLANS</text>
<text x="262.7" y="2235.0" font-size="30.5" font-weight="400" fill="#7f7f7f" textLength="368.0" lengthAdjust="spacingAndGlyphs">ELEMENTS TO BE REMOVED</text>
<text x="262.7" y="2288.3" font-size="30.5" font-weight="400" fill="#000" textLength="258.3" lengthAdjust="spacingAndGlyphs">RENOVATED PLANS</text>
<text x="262.7" y="2327.3" font-size="30.5" font-weight="400" fill="#7f7f7f" textLength="211.6" lengthAdjust="spacingAndGlyphs">NEW ELEMENTS</text>
</svg>
</body></html>
